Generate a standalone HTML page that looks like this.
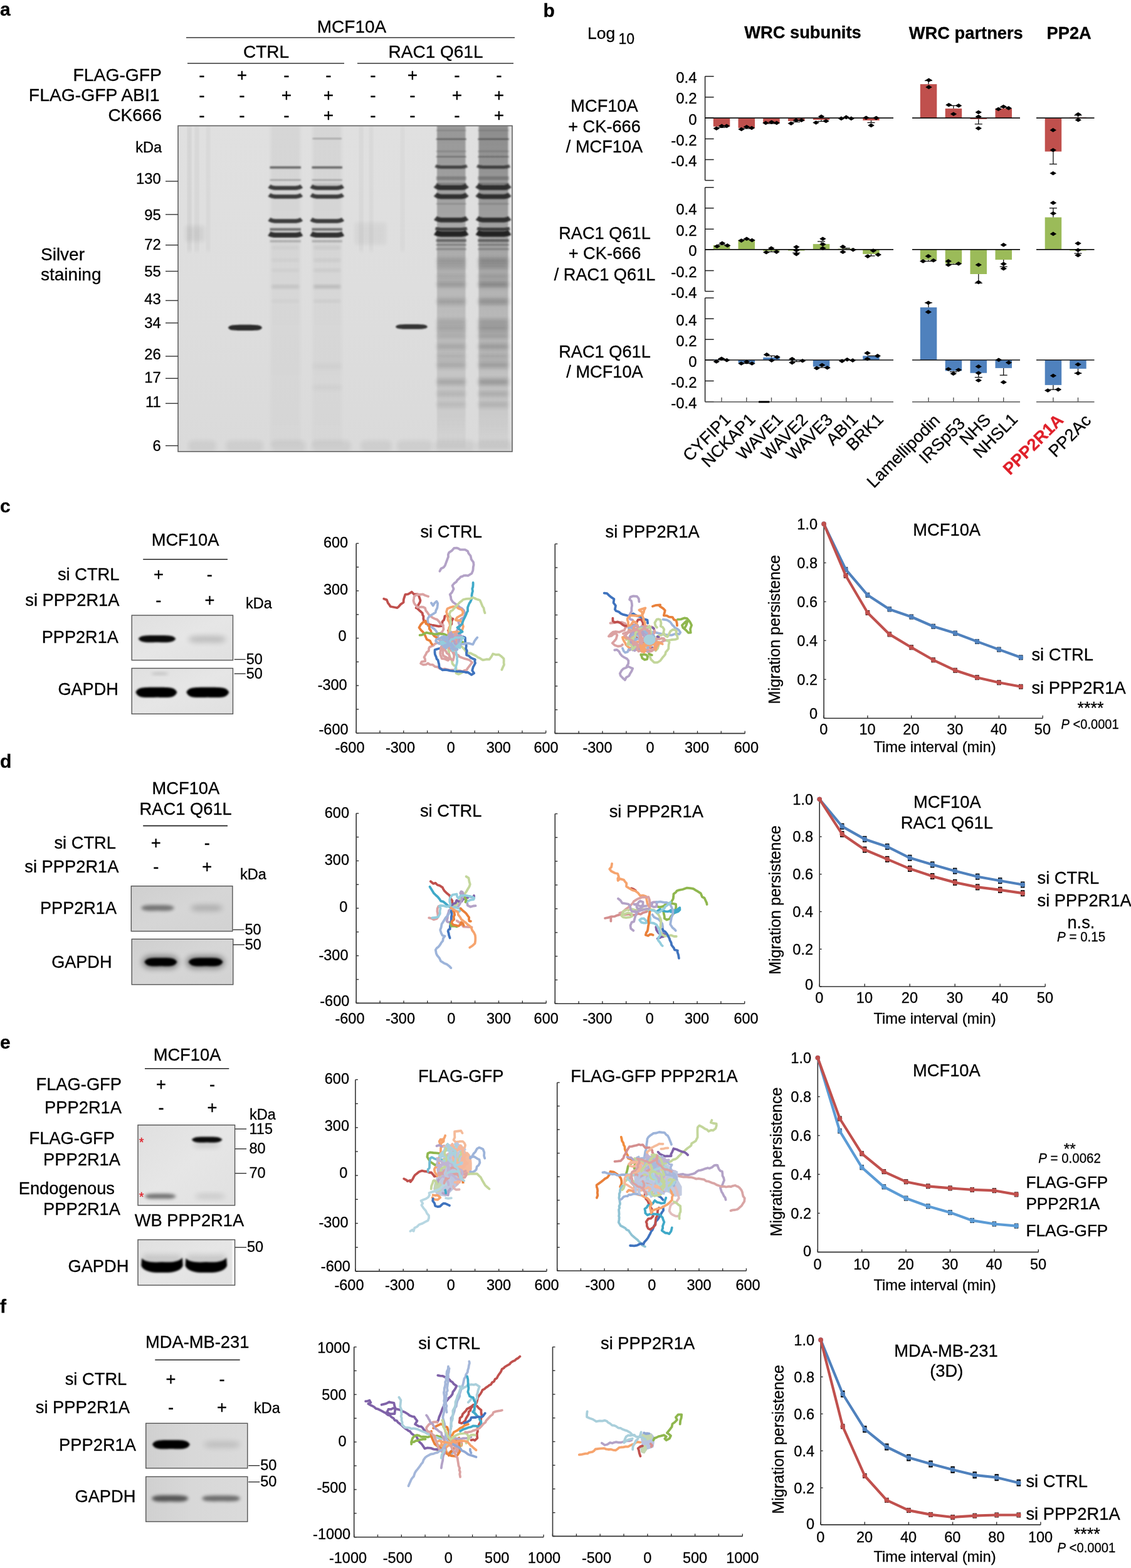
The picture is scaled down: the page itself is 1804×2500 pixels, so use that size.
<!DOCTYPE html>
<html><head><meta charset="utf-8"><title>Figure</title>
<style>
html,body{margin:0;padding:0;background:#fff;}
svg{display:block;}
text{font-family:'Liberation Sans', Arial, Helvetica, sans-serif;stroke:#000;stroke-width:0.3px;}
</style></head><body>
<svg width="1804" height="2500" viewBox="0 0 1804 2500">
<defs>
<linearGradient id="gelbg" x1="0" y1="0" x2="0" y2="1">
<stop offset="0" stop-color="#e0e0e0"/><stop offset="0.5" stop-color="#dedede"/><stop offset="1" stop-color="#dadada"/></linearGradient>
<linearGradient id="smear" x1="0" y1="0" x2="0" y2="1">
<stop offset="0" stop-color="#6a6a6a" stop-opacity="0.75"/>
<stop offset="0.12" stop-color="#7a7a7a" stop-opacity="0.6"/>
<stop offset="0.35" stop-color="#888" stop-opacity="0.45"/>
<stop offset="0.6" stop-color="#999" stop-opacity="0.3"/>
<stop offset="0.8" stop-color="#aaa" stop-opacity="0.2"/>
<stop offset="1" stop-color="#bbb" stop-opacity="0.1"/></linearGradient>
<linearGradient id="smear2" x1="0" y1="0" x2="0" y2="1">
<stop offset="0" stop-color="#999" stop-opacity="0.35"/>
<stop offset="0.3" stop-color="#aaa" stop-opacity="0.2"/>
<stop offset="0.6" stop-color="#bbb" stop-opacity="0.15"/>
<stop offset="1" stop-color="#ccc" stop-opacity="0.1"/></linearGradient>
<filter id="bl1" x="-20%" y="-200%" width="140%" height="500%"><feGaussianBlur stdDeviation="1.1"/></filter>
<filter id="bl2" x="-20%" y="-200%" width="140%" height="500%"><feGaussianBlur stdDeviation="2"/></filter>
<filter id="bl3" x="-30%" y="-100%" width="160%" height="300%"><feGaussianBlur stdDeviation="3"/></filter>
<clipPath id="gelclip"><rect x="284" y="200.5" width="533" height="519.5"/></clipPath>
<linearGradient id="sm7" x1="0" y1="0" x2="0" y2="1">
<stop offset="0" stop-color="#000" stop-opacity="0.323"/>
<stop offset="0.17" stop-color="#000" stop-opacity="0.289"/>
<stop offset="0.38" stop-color="#000" stop-opacity="0.230"/>
<stop offset="0.5" stop-color="#000" stop-opacity="0.170"/>
<stop offset="0.75" stop-color="#000" stop-opacity="0.111"/>
<stop offset="0.92" stop-color="#000" stop-opacity="0.060"/>
<stop offset="1" stop-color="#000" stop-opacity="0.025"/></linearGradient>
<linearGradient id="sm8" x1="0" y1="0" x2="0" y2="1">
<stop offset="0" stop-color="#000" stop-opacity="0.369"/>
<stop offset="0.17" stop-color="#000" stop-opacity="0.330"/>
<stop offset="0.38" stop-color="#000" stop-opacity="0.262"/>
<stop offset="0.5" stop-color="#000" stop-opacity="0.194"/>
<stop offset="0.75" stop-color="#000" stop-opacity="0.126"/>
<stop offset="0.92" stop-color="#000" stop-opacity="0.068"/>
<stop offset="1" stop-color="#000" stop-opacity="0.029"/></linearGradient>
<linearGradient id="sm34" x1="0" y1="0" x2="0" y2="1">
<stop offset="0" stop-color="#000" stop-opacity="0.045"/>
<stop offset="0.35" stop-color="#000" stop-opacity="0.04"/>
<stop offset="0.6" stop-color="#000" stop-opacity="0.03"/>
<stop offset="1" stop-color="#000" stop-opacity="0.02"/></linearGradient>
<linearGradient id="wb" x1="0" y1="0" x2="1" y2="1">
<stop offset="0" stop-color="#e0e0e0"/><stop offset="0.5" stop-color="#e6e6e6"/><stop offset="1" stop-color="#e0e0e0"/></linearGradient>
<linearGradient id="wbd" x1="0" y1="0" x2="1" y2="1">
<stop offset="0" stop-color="#cfcfcf"/><stop offset="0.5" stop-color="#d6d6d6"/><stop offset="1" stop-color="#d2d2d2"/></linearGradient>
<linearGradient id="wbf" x1="0" y1="0" x2="1" y2="0">
<stop offset="0" stop-color="#d0d0d0"/><stop offset="0.45" stop-color="#d8d8d8"/><stop offset="1" stop-color="#dadada"/></linearGradient>
<filter id="bb1" x="-20%" y="-100%" width="140%" height="300%"><feGaussianBlur stdDeviation="1.6"/></filter>
<filter id="bb2" x="-20%" y="-100%" width="140%" height="300%"><feGaussianBlur stdDeviation="2.6"/></filter>
<filter id="bb3" x="-20%" y="-100%" width="140%" height="300%"><feGaussianBlur stdDeviation="4"/></filter>
</defs>
<rect x="0" y="0" width="1804" height="2500" fill="#fff"/>
<text x="0.0" y="25.3" font-size="30" font-weight="bold">a</text>
<text x="866.5" y="26.5" font-size="30" font-weight="bold">b</text>
<text x="0.0" y="816.5" font-size="30" font-weight="bold">c</text>
<text x="0.0" y="1223.5" font-size="30" font-weight="bold">d</text>
<text x="0.0" y="1671.5" font-size="30" font-weight="bold">e</text>
<text x="0.0" y="2093.0" font-size="30" font-weight="bold">f</text>
<text x="561.0" y="52.0" font-size="28" text-anchor="middle">MCF10A</text>
<line x1="297.0" y1="60.0" x2="821.0" y2="60.0" stroke="#333" stroke-width="1.6"/>
<text x="424.5" y="92.0" font-size="28" text-anchor="middle">CTRL</text>
<line x1="299.0" y1="101.0" x2="549.0" y2="101.0" stroke="#333" stroke-width="1.6"/>
<text x="695.0" y="92.0" font-size="28" text-anchor="middle">RAC1 Q61L</text>
<line x1="570.0" y1="101.0" x2="819.0" y2="101.0" stroke="#333" stroke-width="1.6"/>
<text x="258.0" y="129.0" font-size="28.3" text-anchor="end">FLAG-GFP</text>
<text x="254.5" y="161.0" font-size="28.3" text-anchor="end">FLAG-GFP ABI1</text>
<text x="258.0" y="192.6" font-size="28" text-anchor="end">CK666</text>
<text x="322.0" y="129.0" font-size="28" text-anchor="middle">-</text>
<text x="386.0" y="129.0" font-size="28" text-anchor="middle">+</text>
<text x="457.0" y="129.0" font-size="28" text-anchor="middle">-</text>
<text x="524.0" y="129.0" font-size="28" text-anchor="middle">-</text>
<text x="595.0" y="129.0" font-size="28" text-anchor="middle">-</text>
<text x="658.0" y="129.0" font-size="28" text-anchor="middle">+</text>
<text x="729.0" y="129.0" font-size="28" text-anchor="middle">-</text>
<text x="796.0" y="129.0" font-size="28" text-anchor="middle">-</text>
<text x="322.0" y="161.0" font-size="28" text-anchor="middle">-</text>
<text x="386.0" y="161.0" font-size="28" text-anchor="middle">-</text>
<text x="457.0" y="161.0" font-size="28" text-anchor="middle">+</text>
<text x="524.0" y="161.0" font-size="28" text-anchor="middle">+</text>
<text x="595.0" y="161.0" font-size="28" text-anchor="middle">-</text>
<text x="658.0" y="161.0" font-size="28" text-anchor="middle">-</text>
<text x="729.0" y="161.0" font-size="28" text-anchor="middle">+</text>
<text x="796.0" y="161.0" font-size="28" text-anchor="middle">+</text>
<text x="322.0" y="192.6" font-size="28" text-anchor="middle">-</text>
<text x="386.0" y="192.6" font-size="28" text-anchor="middle">-</text>
<text x="457.0" y="192.6" font-size="28" text-anchor="middle">-</text>
<text x="524.0" y="192.6" font-size="28" text-anchor="middle">+</text>
<text x="595.0" y="192.6" font-size="28" text-anchor="middle">-</text>
<text x="658.0" y="192.6" font-size="28" text-anchor="middle">-</text>
<text x="729.0" y="192.6" font-size="28" text-anchor="middle">-</text>
<text x="796.0" y="192.6" font-size="28" text-anchor="middle">+</text>
<g clip-path="url(#gelclip)">
<rect x="284.0" y="200.5" width="533.0" height="519.5" fill="url(#gelbg)"/>
<rect x="431.5" y="200.5" width="47.5" height="509.5" fill="url(#sm34)" filter="url(#bl2)"/>
<rect x="498.5" y="200.5" width="46.5" height="509.5" fill="url(#sm34)" filter="url(#bl2)"/>
<rect x="697.0" y="200.5" width="45.5" height="514.5" fill="url(#sm7)" filter="url(#bl1)"/>
<rect x="763.5" y="200.5" width="47.0" height="514.5" fill="url(#sm8)" filter="url(#bl1)"/>
<rect x="300.0" y="201.0" width="4.0" height="200.0" fill="#000" opacity="0.1" filter="url(#bl3)"/>
<rect x="312.0" y="201.0" width="4.0" height="200.0" fill="#000" opacity="0.08" filter="url(#bl3)"/>
<rect x="330.0" y="201.0" width="4.0" height="200.0" fill="#000" opacity="0.06" filter="url(#bl3)"/>
<rect x="574.0" y="201.0" width="4.0" height="200.0" fill="#000" opacity="0.07" filter="url(#bl3)"/>
<rect x="590.0" y="201.0" width="4.0" height="200.0" fill="#000" opacity="0.06" filter="url(#bl3)"/>
<rect x="640.0" y="201.0" width="4.0" height="200.0" fill="#000" opacity="0.05" filter="url(#bl3)"/>
<rect x="296.0" y="360.0" width="30.0" height="25.0" fill="#000" opacity="0.06" filter="url(#bl3)"/>
<rect x="566.0" y="355.0" width="50.0" height="35.0" fill="#000" opacity="0.04" filter="url(#bl3)"/>
<rect x="430.5" y="265.2" width="49.5" height="3.6" fill="#222" opacity="0.60" filter="url(#bl1)"/>
<rect x="430.5" y="285.9" width="49.5" height="2.2" fill="#222" opacity="0.30" filter="url(#bl1)"/>
<path d="M429.5,296.7 Q432.5,299.2 438.5,299.7 L472.0,299.7 Q478.0,299.2 481.0,296.7" fill="none" stroke="#222" stroke-width="6.5" opacity="0.85" filter="url(#bl1)"/>
<path d="M429.5,310.5 Q432.5,313.0 438.5,313.5 L472.0,313.5 Q478.0,313.0 481.0,310.5" fill="none" stroke="#222" stroke-width="6.5" opacity="0.85" filter="url(#bl1)"/>
<path d="M429.5,349.5 Q432.5,352.0 438.5,352.5 L472.0,352.5 Q478.0,352.0 481.0,349.5" fill="none" stroke="#222" stroke-width="6.5" opacity="0.85" filter="url(#bl1)"/>
<rect x="430.5" y="363.6" width="49.5" height="4.2" fill="#222" opacity="0.55" filter="url(#bl1)"/>
<path d="M429.5,372.3 Q432.5,374.3 438.5,374.8 L472.0,374.8 Q478.0,374.3 481.0,372.3" fill="none" stroke="#222" stroke-width="8.0" opacity="0.92" filter="url(#bl1)"/>
<rect x="430.5" y="382.9" width="49.5" height="3.5" fill="#222" opacity="0.22" filter="url(#bl1)"/>
<rect x="433.5" y="393.5" width="43.5" height="3.0" fill="#111" opacity="0.06" filter="url(#bl2)"/>
<rect x="433.5" y="413.5" width="43.5" height="3.0" fill="#111" opacity="0.06" filter="url(#bl2)"/>
<rect x="433.5" y="429.5" width="43.5" height="3.0" fill="#111" opacity="0.06" filter="url(#bl2)"/>
<rect x="433.5" y="455.0" width="43.5" height="4.0" fill="#111" opacity="0.12" filter="url(#bl2)"/>
<rect x="433.5" y="478.5" width="43.5" height="3.0" fill="#111" opacity="0.05" filter="url(#bl2)"/>
<rect x="497.5" y="265.2" width="48.5" height="3.6" fill="#222" opacity="0.60" filter="url(#bl1)"/>
<rect x="497.5" y="285.9" width="48.5" height="2.2" fill="#222" opacity="0.30" filter="url(#bl1)"/>
<path d="M496.5,296.7 Q499.5,299.2 505.5,299.7 L538.0,299.7 Q544.0,299.2 547.0,296.7" fill="none" stroke="#222" stroke-width="6.5" opacity="0.85" filter="url(#bl1)"/>
<path d="M496.5,310.5 Q499.5,313.0 505.5,313.5 L538.0,313.5 Q544.0,313.0 547.0,310.5" fill="none" stroke="#222" stroke-width="6.5" opacity="0.85" filter="url(#bl1)"/>
<path d="M496.5,349.5 Q499.5,352.0 505.5,352.5 L538.0,352.5 Q544.0,352.0 547.0,349.5" fill="none" stroke="#222" stroke-width="6.5" opacity="0.85" filter="url(#bl1)"/>
<rect x="497.5" y="363.6" width="48.5" height="4.2" fill="#222" opacity="0.55" filter="url(#bl1)"/>
<path d="M496.5,372.3 Q499.5,374.3 505.5,374.8 L538.0,374.8 Q544.0,374.3 547.0,372.3" fill="none" stroke="#222" stroke-width="8.0" opacity="0.92" filter="url(#bl1)"/>
<rect x="497.5" y="382.9" width="48.5" height="3.5" fill="#222" opacity="0.22" filter="url(#bl1)"/>
<rect x="500.5" y="393.5" width="42.5" height="3.0" fill="#111" opacity="0.09" filter="url(#bl2)"/>
<rect x="500.5" y="413.5" width="42.5" height="3.0" fill="#111" opacity="0.09" filter="url(#bl2)"/>
<rect x="500.5" y="429.5" width="42.5" height="3.0" fill="#111" opacity="0.09" filter="url(#bl2)"/>
<rect x="500.5" y="455.0" width="42.5" height="4.0" fill="#111" opacity="0.18" filter="url(#bl2)"/>
<rect x="500.5" y="478.5" width="42.5" height="3.0" fill="#111" opacity="0.08" filter="url(#bl2)"/>
<rect x="498.5" y="220.2" width="46.5" height="1.6" fill="#111" opacity="0.35" filter="url(#bl1)"/>
<rect x="498.5" y="293.5" width="46.5" height="3.0" fill="#111" opacity="0.20" filter="url(#bl2)"/>
<rect x="498.5" y="580.0" width="46.5" height="8.0" fill="#111" opacity="0.03" filter="url(#bl3)"/>
<rect x="498.5" y="614.0" width="46.5" height="8.0" fill="#111" opacity="0.03" filter="url(#bl3)"/>
<rect x="695.5" y="207.2" width="48.5" height="1.5" fill="#1a1a1a" opacity="0.20" filter="url(#bl1)"/>
<rect x="695.5" y="220.8" width="48.5" height="2.0" fill="#1a1a1a" opacity="0.50" filter="url(#bl1)"/>
<rect x="695.5" y="240.6" width="48.5" height="1.5" fill="#1a1a1a" opacity="0.25" filter="url(#bl1)"/>
<rect x="695.5" y="248.9" width="48.5" height="2.0" fill="#1a1a1a" opacity="0.35" filter="url(#bl1)"/>
<path d="M694.5,264.5 Q697.5,266.0 703.5,266.5 L736.0,266.5 Q742.0,266.0 745.0,264.5" fill="none" stroke="#1a1a1a" stroke-width="5.0" opacity="0.70" filter="url(#bl1)"/>
<rect x="695.5" y="281.7" width="48.5" height="1.8" fill="#1a1a1a" opacity="0.35" filter="url(#bl1)"/>
<rect x="695.5" y="284.6" width="48.5" height="1.8" fill="#1a1a1a" opacity="0.35" filter="url(#bl1)"/>
<rect x="695.5" y="291.9" width="48.5" height="2.0" fill="#1a1a1a" opacity="0.30" filter="url(#bl1)"/>
<path d="M694.5,295.6 Q697.5,298.6 703.5,299.1 L736.0,299.1 Q742.0,298.6 745.0,295.6" fill="none" stroke="#1a1a1a" stroke-width="8.0" opacity="0.85" filter="url(#bl1)"/>
<path d="M694.5,310.0 Q697.5,313.0 703.5,313.5 L736.0,313.5 Q742.0,313.0 745.0,310.0" fill="none" stroke="#1a1a1a" stroke-width="7.5" opacity="0.85" filter="url(#bl1)"/>
<rect x="695.5" y="324.0" width="48.5" height="2.0" fill="#1a1a1a" opacity="0.20" filter="url(#bl1)"/>
<path d="M694.5,347.7 Q697.5,350.2 703.5,350.7 L736.0,350.7 Q742.0,350.2 745.0,347.7" fill="none" stroke="#1a1a1a" stroke-width="7.5" opacity="0.85" filter="url(#bl1)"/>
<path d="M694.5,364.1 Q697.5,365.1 703.5,365.6 L736.0,365.6 Q742.0,365.1 745.0,364.1" fill="none" stroke="#1a1a1a" stroke-width="5.0" opacity="0.75" filter="url(#bl1)"/>
<path d="M694.5,370.6 Q697.5,372.6 703.5,373.1 L736.0,373.1 Q742.0,372.6 745.0,370.6" fill="none" stroke="#1a1a1a" stroke-width="9.0" opacity="0.95" filter="url(#bl1)"/>
<rect x="695.5" y="381.5" width="48.5" height="4.0" fill="#1a1a1a" opacity="0.50" filter="url(#bl1)"/>
<rect x="695.5" y="388.8" width="48.5" height="3.0" fill="#1a1a1a" opacity="0.30" filter="url(#bl1)"/>
<rect x="695.5" y="395.7" width="48.5" height="3.0" fill="#1a1a1a" opacity="0.25" filter="url(#bl1)"/>
<rect x="697.0" y="412.1" width="45.5" height="7.0" fill="#111" opacity="0.19" filter="url(#bl3)"/>
<rect x="697.0" y="421.2" width="45.5" height="7.0" fill="#111" opacity="0.15" filter="url(#bl3)"/>
<rect x="697.0" y="437.3" width="45.5" height="7.0" fill="#111" opacity="0.11" filter="url(#bl3)"/>
<rect x="697.0" y="449.9" width="45.5" height="7.0" fill="#111" opacity="0.22" filter="url(#bl3)"/>
<rect x="697.0" y="476.6" width="45.5" height="8.4" fill="#111" opacity="0.17" filter="url(#bl3)"/>
<rect x="697.0" y="509.1" width="45.5" height="8.4" fill="#111" opacity="0.14" filter="url(#bl3)"/>
<rect x="697.0" y="519.4" width="45.5" height="8.4" fill="#111" opacity="0.17" filter="url(#bl3)"/>
<rect x="697.0" y="531.3" width="45.5" height="8.4" fill="#111" opacity="0.12" filter="url(#bl3)"/>
<rect x="697.0" y="547.7" width="45.5" height="9.8" fill="#111" opacity="0.14" filter="url(#bl3)"/>
<rect x="697.0" y="563.8" width="45.5" height="8.4" fill="#111" opacity="0.11" filter="url(#bl3)"/>
<rect x="697.0" y="576.8" width="45.5" height="9.8" fill="#111" opacity="0.14" filter="url(#bl3)"/>
<rect x="697.0" y="604.1" width="45.5" height="9.8" fill="#111" opacity="0.17" filter="url(#bl3)"/>
<rect x="697.0" y="623.8" width="45.5" height="8.4" fill="#111" opacity="0.11" filter="url(#bl3)"/>
<rect x="697.0" y="640.8" width="45.5" height="8.4" fill="#111" opacity="0.09" filter="url(#bl3)"/>
<rect x="762.0" y="207.2" width="50.0" height="1.5" fill="#1a1a1a" opacity="0.20" filter="url(#bl1)"/>
<rect x="762.0" y="220.8" width="50.0" height="2.0" fill="#1a1a1a" opacity="0.50" filter="url(#bl1)"/>
<rect x="762.0" y="240.6" width="50.0" height="1.5" fill="#1a1a1a" opacity="0.25" filter="url(#bl1)"/>
<rect x="762.0" y="248.9" width="50.0" height="2.0" fill="#1a1a1a" opacity="0.35" filter="url(#bl1)"/>
<path d="M761.0,264.5 Q764.0,266.0 770.0,266.5 L804.0,266.5 Q810.0,266.0 813.0,264.5" fill="none" stroke="#1a1a1a" stroke-width="5.0" opacity="0.70" filter="url(#bl1)"/>
<rect x="762.0" y="281.7" width="50.0" height="1.8" fill="#1a1a1a" opacity="0.35" filter="url(#bl1)"/>
<rect x="762.0" y="284.6" width="50.0" height="1.8" fill="#1a1a1a" opacity="0.35" filter="url(#bl1)"/>
<rect x="762.0" y="291.9" width="50.0" height="2.0" fill="#1a1a1a" opacity="0.30" filter="url(#bl1)"/>
<path d="M761.0,295.6 Q764.0,298.6 770.0,299.1 L804.0,299.1 Q810.0,298.6 813.0,295.6" fill="none" stroke="#1a1a1a" stroke-width="8.0" opacity="0.85" filter="url(#bl1)"/>
<path d="M761.0,310.0 Q764.0,313.0 770.0,313.5 L804.0,313.5 Q810.0,313.0 813.0,310.0" fill="none" stroke="#1a1a1a" stroke-width="7.5" opacity="0.85" filter="url(#bl1)"/>
<rect x="762.0" y="324.0" width="50.0" height="2.0" fill="#1a1a1a" opacity="0.20" filter="url(#bl1)"/>
<path d="M761.0,347.7 Q764.0,350.2 770.0,350.7 L804.0,350.7 Q810.0,350.2 813.0,347.7" fill="none" stroke="#1a1a1a" stroke-width="7.5" opacity="0.85" filter="url(#bl1)"/>
<path d="M761.0,364.1 Q764.0,365.1 770.0,365.6 L804.0,365.6 Q810.0,365.1 813.0,364.1" fill="none" stroke="#1a1a1a" stroke-width="5.0" opacity="0.75" filter="url(#bl1)"/>
<path d="M761.0,370.6 Q764.0,372.6 770.0,373.1 L804.0,373.1 Q810.0,372.6 813.0,370.6" fill="none" stroke="#1a1a1a" stroke-width="9.0" opacity="0.95" filter="url(#bl1)"/>
<rect x="762.0" y="381.5" width="50.0" height="4.0" fill="#1a1a1a" opacity="0.50" filter="url(#bl1)"/>
<rect x="762.0" y="388.8" width="50.0" height="3.0" fill="#1a1a1a" opacity="0.30" filter="url(#bl1)"/>
<rect x="762.0" y="395.7" width="50.0" height="3.0" fill="#1a1a1a" opacity="0.25" filter="url(#bl1)"/>
<rect x="763.5" y="412.1" width="47.0" height="7.0" fill="#111" opacity="0.28" filter="url(#bl3)"/>
<rect x="763.5" y="421.2" width="47.0" height="7.0" fill="#111" opacity="0.22" filter="url(#bl3)"/>
<rect x="763.5" y="437.3" width="47.0" height="7.0" fill="#111" opacity="0.17" filter="url(#bl3)"/>
<rect x="763.5" y="449.9" width="47.0" height="7.0" fill="#111" opacity="0.33" filter="url(#bl3)"/>
<rect x="763.5" y="476.6" width="47.0" height="8.4" fill="#111" opacity="0.24" filter="url(#bl3)"/>
<rect x="763.5" y="509.1" width="47.0" height="8.4" fill="#111" opacity="0.20" filter="url(#bl3)"/>
<rect x="763.5" y="519.4" width="47.0" height="8.4" fill="#111" opacity="0.24" filter="url(#bl3)"/>
<rect x="763.5" y="531.3" width="47.0" height="8.4" fill="#111" opacity="0.18" filter="url(#bl3)"/>
<rect x="763.5" y="547.7" width="47.0" height="9.8" fill="#111" opacity="0.20" filter="url(#bl3)"/>
<rect x="763.5" y="563.8" width="47.0" height="8.4" fill="#111" opacity="0.15" filter="url(#bl3)"/>
<rect x="763.5" y="576.8" width="47.0" height="9.8" fill="#111" opacity="0.20" filter="url(#bl3)"/>
<rect x="763.5" y="604.1" width="47.0" height="9.8" fill="#111" opacity="0.24" filter="url(#bl3)"/>
<rect x="763.5" y="623.8" width="47.0" height="8.4" fill="#111" opacity="0.15" filter="url(#bl3)"/>
<rect x="763.5" y="640.8" width="47.0" height="8.4" fill="#111" opacity="0.13" filter="url(#bl3)"/>
<rect x="300" y="702" width="45" height="18" rx="8" fill="#000" opacity="0.05" filter="url(#bl3)"/>
<rect x="360" y="702" width="60" height="18" rx="8" fill="#000" opacity="0.05" filter="url(#bl3)"/>
<rect x="432" y="702" width="56" height="18" rx="8" fill="#000" opacity="0.05" filter="url(#bl3)"/>
<rect x="497" y="702" width="63" height="18" rx="8" fill="#000" opacity="0.05" filter="url(#bl3)"/>
<rect x="575" y="702" width="50" height="18" rx="8" fill="#000" opacity="0.05" filter="url(#bl3)"/>
<rect x="633" y="702" width="57" height="18" rx="8" fill="#000" opacity="0.05" filter="url(#bl3)"/>
<rect x="693" y="702" width="65" height="18" rx="8" fill="#000" opacity="0.05" filter="url(#bl3)"/>
<rect x="760" y="702" width="57" height="18" rx="8" fill="#000" opacity="0.05" filter="url(#bl3)"/>
<path d="M364.0,522.5 C366.0,518.0 372.0,518.0 391.0,517.8 C410.0,518.0 416.0,518.0 418.0,522.5 C416.0,527.0 410.0,527.0 391.0,527.0 C372.0,527.0 366.0,527.0 364.0,522.5 Z" fill="#1a1a1a" opacity="0.92" filter="url(#bl1)"/>
<path d="M631.0,521.0 C633.0,517.2 639.0,517.2 656.5,517.1 C674.0,517.2 680.0,517.2 682.0,521.0 C680.0,524.8 674.0,524.8 656.5,524.8 C639.0,524.8 633.0,524.8 631.0,521.0 Z" fill="#1a1a1a" opacity="0.88" filter="url(#bl1)"/>
</g>
<rect x="284" y="200.5" width="533" height="519.5" fill="none" stroke="#5a5a5a" stroke-width="1.5"/>
<text x="258.0" y="243.0" font-size="23.5" text-anchor="end">kDa</text>
<line x1="264.0" y1="289.0" x2="284.0" y2="289.0" stroke="#333" stroke-width="1.4"/>
<text x="256.8" y="293.4" font-size="23.8" text-anchor="end">130</text>
<line x1="264.0" y1="342.0" x2="284.0" y2="342.0" stroke="#333" stroke-width="1.4"/>
<text x="256.8" y="350.5" font-size="23.8" text-anchor="end">95</text>
<line x1="264.0" y1="390.7" x2="284.0" y2="390.7" stroke="#333" stroke-width="1.4"/>
<text x="256.8" y="397.6" font-size="23.8" text-anchor="end">72</text>
<line x1="264.0" y1="432.5" x2="284.0" y2="432.5" stroke="#333" stroke-width="1.4"/>
<text x="256.8" y="440.7" font-size="23.8" text-anchor="end">55</text>
<line x1="264.0" y1="479.2" x2="284.0" y2="479.2" stroke="#333" stroke-width="1.4"/>
<text x="256.8" y="484.7" font-size="23.8" text-anchor="end">43</text>
<line x1="264.0" y1="514.9" x2="284.0" y2="514.9" stroke="#333" stroke-width="1.4"/>
<text x="256.8" y="523.2" font-size="23.8" text-anchor="end">34</text>
<line x1="264.0" y1="568.0" x2="284.0" y2="568.0" stroke="#333" stroke-width="1.4"/>
<text x="256.8" y="572.6" font-size="23.8" text-anchor="end">26</text>
<line x1="264.0" y1="603.3" x2="284.0" y2="603.3" stroke="#333" stroke-width="1.4"/>
<text x="256.8" y="610.2" font-size="23.8" text-anchor="end">17</text>
<line x1="264.0" y1="643.2" x2="284.0" y2="643.2" stroke="#333" stroke-width="1.4"/>
<text x="256.8" y="648.7" font-size="23.8" text-anchor="end">11</text>
<line x1="264.0" y1="710.6" x2="284.0" y2="710.6" stroke="#333" stroke-width="1.4"/>
<text x="256.8" y="719.3" font-size="23.8" text-anchor="end">6</text>
<text x="65.0" y="415.0" font-size="28">Silver</text>
<text x="65.0" y="447.0" font-size="28">staining</text>
<text x="937.0" y="61.6" font-size="26.5">Log</text>
<text x="986.5" y="69.8" font-size="23">10</text>
<text x="1187.2" y="61.1" font-size="27.3" font-weight="bold">WRC subunits</text>
<text x="1449.8" y="61.7" font-size="27.3" font-weight="bold">WRC partners</text>
<text x="1669.5" y="61.7" font-size="27.3" font-weight="bold">PP2A</text>
<text x="964.0" y="178.0" font-size="27.2" text-anchor="middle">MCF10A</text>
<text x="964.0" y="210.6" font-size="27.2" text-anchor="middle">+ CK-666</text>
<text x="964.0" y="243.4" font-size="27.2" text-anchor="middle">/ MCF10A</text>
<text x="964.5" y="380.7" font-size="27.2" text-anchor="middle">RAC1 Q61L</text>
<text x="964.5" y="413.2" font-size="27.2" text-anchor="middle">+ CK-666</text>
<text x="964.5" y="446.6" font-size="27.2" text-anchor="middle">/ RAC1 Q61L</text>
<text x="964.5" y="569.6" font-size="27.2" text-anchor="middle">RAC1 Q61L</text>
<text x="964.5" y="602.0" font-size="27.2" text-anchor="middle">/ MCF10A</text>
<line x1="1124.6" y1="121.7" x2="1124.6" y2="287.6" stroke="#222" stroke-width="1.5"/>
<line x1="1124.6" y1="121.7" x2="1138.6" y2="121.7" stroke="#222" stroke-width="1.5"/>
<text x="1111.5" y="132.2" font-size="24" text-anchor="end">0.4</text>
<line x1="1124.6" y1="154.9" x2="1138.6" y2="154.9" stroke="#222" stroke-width="1.5"/>
<text x="1111.5" y="165.4" font-size="24" text-anchor="end">0.2</text>
<line x1="1124.6" y1="188.1" x2="1138.6" y2="188.1" stroke="#222" stroke-width="1.5"/>
<text x="1111.5" y="198.6" font-size="24" text-anchor="end">0</text>
<line x1="1124.6" y1="221.4" x2="1138.6" y2="221.4" stroke="#222" stroke-width="1.5"/>
<text x="1111.5" y="231.9" font-size="24" text-anchor="end">-0.2</text>
<line x1="1124.6" y1="254.5" x2="1138.6" y2="254.5" stroke="#222" stroke-width="1.5"/>
<text x="1111.5" y="265.0" font-size="24" text-anchor="end">-0.4</text>
<line x1="1124.6" y1="287.6" x2="1138.6" y2="287.6" stroke="#222" stroke-width="1.5"/>
<rect x="1137.8" y="188.1" width="26.5" height="13.7" fill="#c0504d"/>
<rect x="1177.5" y="188.1" width="26.5" height="15.9" fill="#c0504d"/>
<rect x="1217.2" y="188.1" width="26.5" height="8.6" fill="#c0504d"/>
<rect x="1257.0" y="188.1" width="26.5" height="4.9" fill="#c0504d"/>
<rect x="1296.8" y="188.1" width="26.5" height="2.9" fill="#c0504d"/>
<rect x="1336.5" y="188.1" width="26.5" height="0.7" fill="#c0504d"/>
<rect x="1376.2" y="188.1" width="26.5" height="3.9" fill="#c0504d"/>
<rect x="1467.8" y="134.2" width="26.5" height="53.9" fill="#c0504d"/>
<rect x="1507.7" y="173.1" width="26.5" height="15.0" fill="#c0504d"/>
<rect x="1547.5" y="188.1" width="26.5" height="1.9" fill="#c0504d"/>
<rect x="1587.5" y="172.9" width="26.5" height="15.2" fill="#c0504d"/>
<rect x="1666.7" y="188.1" width="26.5" height="53.5" fill="#c0504d"/>
<rect x="1706.2" y="187.3" width="26.5" height="0.8" fill="#c0504d"/>
<line x1="1124.6" y1="188.1" x2="1425.0" y2="188.1" stroke="#111" stroke-width="1.6"/>
<line x1="1455.0" y1="188.1" x2="1627.0" y2="188.1" stroke="#111" stroke-width="1.6"/>
<line x1="1653.0" y1="188.1" x2="1745.5" y2="188.1" stroke="#111" stroke-width="1.6"/>
<line x1="1151.0" y1="201.8" x2="1151.0" y2="203.3" stroke="#111" stroke-width="1.3"/>
<line x1="1145.0" y1="203.3" x2="1157.0" y2="203.3" stroke="#111" stroke-width="1.3"/>
<line x1="1190.8" y1="204.0" x2="1190.8" y2="205.0" stroke="#111" stroke-width="1.3"/>
<line x1="1184.8" y1="205.0" x2="1196.8" y2="205.0" stroke="#111" stroke-width="1.3"/>
<line x1="1230.5" y1="196.7" x2="1230.5" y2="197.0" stroke="#111" stroke-width="1.3"/>
<line x1="1224.5" y1="197.0" x2="1236.5" y2="197.0" stroke="#111" stroke-width="1.3"/>
<line x1="1270.2" y1="193.0" x2="1270.2" y2="194.5" stroke="#111" stroke-width="1.3"/>
<line x1="1264.2" y1="194.5" x2="1276.2" y2="194.5" stroke="#111" stroke-width="1.3"/>
<line x1="1310.0" y1="191.0" x2="1310.0" y2="193.5" stroke="#111" stroke-width="1.3"/>
<line x1="1304.0" y1="193.5" x2="1316.0" y2="193.5" stroke="#111" stroke-width="1.3"/>
<line x1="1389.5" y1="192.0" x2="1389.5" y2="195.5" stroke="#111" stroke-width="1.3"/>
<line x1="1383.5" y1="195.5" x2="1395.5" y2="195.5" stroke="#111" stroke-width="1.3"/>
<line x1="1481.0" y1="134.2" x2="1481.0" y2="128.5" stroke="#111" stroke-width="1.3"/>
<line x1="1475.0" y1="128.5" x2="1487.0" y2="128.5" stroke="#111" stroke-width="1.3"/>
<line x1="1520.9" y1="173.1" x2="1520.9" y2="168.4" stroke="#111" stroke-width="1.3"/>
<line x1="1514.9" y1="168.4" x2="1526.9" y2="168.4" stroke="#111" stroke-width="1.3"/>
<line x1="1560.8" y1="190.0" x2="1560.8" y2="197.8" stroke="#111" stroke-width="1.3"/>
<line x1="1554.8" y1="197.8" x2="1566.8" y2="197.8" stroke="#111" stroke-width="1.3"/>
<line x1="1600.7" y1="172.9" x2="1600.7" y2="171.0" stroke="#111" stroke-width="1.3"/>
<line x1="1594.7" y1="171.0" x2="1606.7" y2="171.0" stroke="#111" stroke-width="1.3"/>
<line x1="1679.9" y1="241.6" x2="1679.9" y2="261.6" stroke="#111" stroke-width="1.3"/>
<line x1="1673.9" y1="261.6" x2="1685.9" y2="261.6" stroke="#111" stroke-width="1.3"/>
<line x1="1719.5" y1="187.3" x2="1719.5" y2="183.7" stroke="#111" stroke-width="1.3"/>
<line x1="1713.5" y1="183.7" x2="1725.5" y2="183.7" stroke="#111" stroke-width="1.3"/>
<polygon points="1137.5,204.8 1142.8,201.5 1148.0,204.8 1142.8,208.1" fill="#000"/>
<polygon points="1146.0,200.9 1151.3,197.6 1156.5,200.9 1151.3,204.2" fill="#000"/>
<polygon points="1153.8,200.9 1159.1,197.6 1164.3,200.9 1159.1,204.2" fill="#000"/>
<polygon points="1177.3,206.0 1182.6,202.7 1187.8,206.0 1182.6,209.3" fill="#000"/>
<polygon points="1185.7,202.3 1190.9,199.0 1196.2,202.3 1190.9,205.6" fill="#000"/>
<polygon points="1193.8,204.0 1199.0,200.7 1204.2,204.0 1199.0,207.3" fill="#000"/>
<polygon points="1216.2,196.0 1221.4,192.7 1226.7,196.0 1221.4,199.3" fill="#000"/>
<polygon points="1225.5,194.7 1230.7,191.4 1236.0,194.7 1230.7,198.0" fill="#000"/>
<polygon points="1233.5,196.0 1238.8,192.7 1244.0,196.0 1238.8,199.3" fill="#000"/>
<polygon points="1256.5,196.7 1261.8,193.4 1267.0,196.7 1261.8,200.0" fill="#000"/>
<polygon points="1264.5,191.8 1269.8,188.5 1275.0,191.8 1269.8,195.1" fill="#000"/>
<polygon points="1273.2,191.8 1278.4,188.5 1283.7,191.8 1278.4,195.1" fill="#000"/>
<polygon points="1304.8,185.7 1310.1,182.4 1315.3,185.7 1310.1,189.0" fill="#000"/>
<polygon points="1296.3,195.5 1301.6,192.2 1306.8,195.5 1301.6,198.8" fill="#000"/>
<polygon points="1312.2,193.0 1317.5,189.7 1322.8,193.0 1317.5,196.3" fill="#000"/>
<polygon points="1336.7,188.9 1341.9,185.6 1347.2,188.9 1341.9,192.2" fill="#000"/>
<polygon points="1344.5,186.9 1349.7,183.6 1355.0,186.9 1349.7,190.2" fill="#000"/>
<polygon points="1352.5,188.9 1357.8,185.6 1363.0,188.9 1357.8,192.2" fill="#000"/>
<polygon points="1376.2,187.7 1381.5,184.4 1386.8,187.7 1381.5,191.0" fill="#000"/>
<polygon points="1392.3,188.1 1397.6,184.8 1402.8,188.1 1397.6,191.4" fill="#000"/>
<polygon points="1384.2,199.9 1389.5,196.6 1394.8,199.9 1389.5,203.2" fill="#000"/>
<polygon points="1476.2,127.8 1481.5,124.5 1486.8,127.8 1481.5,131.1" fill="#000"/>
<polygon points="1476.2,138.9 1481.5,135.6 1486.8,138.9 1481.5,142.2" fill="#000"/>
<polygon points="1508.2,167.3 1513.4,164.0 1518.7,167.3 1513.4,170.6" fill="#000"/>
<polygon points="1523.8,168.4 1529.1,165.1 1534.3,168.4 1529.1,171.7" fill="#000"/>
<polygon points="1515.7,181.8 1520.9,178.5 1526.2,181.8 1520.9,185.1" fill="#000"/>
<polygon points="1555.5,179.0 1560.7,175.7 1566.0,179.0 1560.7,182.3" fill="#000"/>
<polygon points="1555.5,186.0 1560.7,182.7 1566.0,186.0 1560.7,189.3" fill="#000"/>
<polygon points="1555.5,204.6 1560.7,201.3 1566.0,204.6 1560.7,207.9" fill="#000"/>
<polygon points="1587.2,174.0 1592.4,170.7 1597.7,174.0 1592.4,177.3" fill="#000"/>
<polygon points="1595.3,170.0 1600.6,166.7 1605.8,170.0 1600.6,173.3" fill="#000"/>
<polygon points="1603.5,172.4 1608.8,169.1 1614.0,172.4 1608.8,175.7" fill="#000"/>
<polygon points="1674.5,207.4 1679.7,204.1 1685.0,207.4 1679.7,210.7" fill="#000"/>
<polygon points="1674.5,239.3 1679.7,236.0 1685.0,239.3 1679.7,242.6" fill="#000"/>
<polygon points="1674.5,276.3 1679.7,273.0 1685.0,276.3 1679.7,279.6" fill="#000"/>
<polygon points="1714.5,182.3 1719.8,179.0 1725.0,182.3 1719.8,185.6" fill="#000"/>
<polygon points="1714.5,191.2 1719.8,187.9 1725.0,191.2 1719.8,194.5" fill="#000"/>
<line x1="1124.6" y1="298.8" x2="1124.6" y2="464.5" stroke="#222" stroke-width="1.5"/>
<line x1="1124.6" y1="298.8" x2="1138.6" y2="298.8" stroke="#222" stroke-width="1.5"/>
<line x1="1124.6" y1="331.8" x2="1138.6" y2="331.8" stroke="#222" stroke-width="1.5"/>
<text x="1111.5" y="342.3" font-size="24" text-anchor="end">0.4</text>
<line x1="1124.6" y1="365.3" x2="1138.6" y2="365.3" stroke="#222" stroke-width="1.5"/>
<text x="1111.5" y="375.8" font-size="24" text-anchor="end">0.2</text>
<line x1="1124.6" y1="397.9" x2="1138.6" y2="397.9" stroke="#222" stroke-width="1.5"/>
<text x="1111.5" y="408.4" font-size="24" text-anchor="end">0</text>
<line x1="1124.6" y1="431.5" x2="1138.6" y2="431.5" stroke="#222" stroke-width="1.5"/>
<text x="1111.5" y="442.0" font-size="24" text-anchor="end">-0.2</text>
<line x1="1124.6" y1="464.5" x2="1138.6" y2="464.5" stroke="#222" stroke-width="1.5"/>
<text x="1111.5" y="475.0" font-size="24" text-anchor="end">-0.4</text>
<rect x="1137.8" y="391.0" width="26.5" height="6.9" fill="#9bbb59"/>
<rect x="1177.5" y="382.6" width="26.5" height="15.3" fill="#9bbb59"/>
<rect x="1217.2" y="397.9" width="26.5" height="2.3" fill="#9bbb59"/>
<rect x="1257.0" y="397.9" width="26.5" height="1.7" fill="#9bbb59"/>
<rect x="1296.8" y="389.1" width="26.5" height="8.8" fill="#9bbb59"/>
<rect x="1336.5" y="396.5" width="26.5" height="1.4" fill="#9bbb59"/>
<rect x="1376.2" y="397.9" width="26.5" height="7.2" fill="#9bbb59"/>
<rect x="1467.8" y="397.9" width="26.5" height="16.6" fill="#9bbb59"/>
<rect x="1507.7" y="397.9" width="26.5" height="22.5" fill="#9bbb59"/>
<rect x="1547.5" y="397.9" width="26.5" height="39.1" fill="#9bbb59"/>
<rect x="1587.5" y="397.9" width="26.5" height="16.2" fill="#9bbb59"/>
<rect x="1666.7" y="346.5" width="26.5" height="51.4" fill="#9bbb59"/>
<rect x="1706.2" y="397.9" width="26.5" height="1.6" fill="#9bbb59"/>
<line x1="1124.6" y1="397.9" x2="1425.0" y2="397.9" stroke="#111" stroke-width="1.6"/>
<line x1="1455.0" y1="397.9" x2="1627.0" y2="397.9" stroke="#111" stroke-width="1.6"/>
<line x1="1653.0" y1="397.9" x2="1745.5" y2="397.9" stroke="#111" stroke-width="1.6"/>
<line x1="1151.0" y1="391.0" x2="1151.0" y2="390.0" stroke="#111" stroke-width="1.3"/>
<line x1="1145.0" y1="390.0" x2="1157.0" y2="390.0" stroke="#111" stroke-width="1.3"/>
<line x1="1190.8" y1="382.6" x2="1190.8" y2="382.0" stroke="#111" stroke-width="1.3"/>
<line x1="1184.8" y1="382.0" x2="1196.8" y2="382.0" stroke="#111" stroke-width="1.3"/>
<line x1="1230.5" y1="400.2" x2="1230.5" y2="401.5" stroke="#111" stroke-width="1.3"/>
<line x1="1224.5" y1="401.5" x2="1236.5" y2="401.5" stroke="#111" stroke-width="1.3"/>
<line x1="1270.2" y1="399.6" x2="1270.2" y2="403.2" stroke="#111" stroke-width="1.3"/>
<line x1="1264.2" y1="403.2" x2="1276.2" y2="403.2" stroke="#111" stroke-width="1.3"/>
<line x1="1310.0" y1="389.1" x2="1310.0" y2="385.0" stroke="#111" stroke-width="1.3"/>
<line x1="1304.0" y1="385.0" x2="1316.0" y2="385.0" stroke="#111" stroke-width="1.3"/>
<line x1="1349.8" y1="396.5" x2="1349.8" y2="395.7" stroke="#111" stroke-width="1.3"/>
<line x1="1343.8" y1="395.7" x2="1355.8" y2="395.7" stroke="#111" stroke-width="1.3"/>
<line x1="1389.5" y1="405.1" x2="1389.5" y2="408.0" stroke="#111" stroke-width="1.3"/>
<line x1="1383.5" y1="408.0" x2="1395.5" y2="408.0" stroke="#111" stroke-width="1.3"/>
<line x1="1481.0" y1="414.5" x2="1481.0" y2="416.5" stroke="#111" stroke-width="1.3"/>
<line x1="1475.0" y1="416.5" x2="1487.0" y2="416.5" stroke="#111" stroke-width="1.3"/>
<line x1="1520.9" y1="420.4" x2="1520.9" y2="421.5" stroke="#111" stroke-width="1.3"/>
<line x1="1514.9" y1="421.5" x2="1526.9" y2="421.5" stroke="#111" stroke-width="1.3"/>
<line x1="1560.8" y1="437.0" x2="1560.8" y2="451.4" stroke="#111" stroke-width="1.3"/>
<line x1="1554.8" y1="451.4" x2="1566.8" y2="451.4" stroke="#111" stroke-width="1.3"/>
<line x1="1600.7" y1="414.1" x2="1600.7" y2="425.2" stroke="#111" stroke-width="1.3"/>
<line x1="1594.7" y1="425.2" x2="1606.7" y2="425.2" stroke="#111" stroke-width="1.3"/>
<line x1="1679.9" y1="346.5" x2="1679.9" y2="331.8" stroke="#111" stroke-width="1.3"/>
<line x1="1673.9" y1="331.8" x2="1685.9" y2="331.8" stroke="#111" stroke-width="1.3"/>
<line x1="1719.5" y1="399.5" x2="1719.5" y2="404.1" stroke="#111" stroke-width="1.3"/>
<line x1="1713.5" y1="404.1" x2="1725.5" y2="404.1" stroke="#111" stroke-width="1.3"/>
<polygon points="1138.5,392.8 1143.7,389.5 1149.0,392.8 1143.7,396.1" fill="#000"/>
<polygon points="1146.7,387.7 1151.9,384.4 1157.2,387.7 1151.9,391.0" fill="#000"/>
<polygon points="1155.0,391.4 1160.3,388.1 1165.5,391.4 1160.3,394.7" fill="#000"/>
<polygon points="1177.2,383.6 1182.5,380.3 1187.8,383.6 1182.5,386.9" fill="#000"/>
<polygon points="1185.8,380.7 1191.0,377.4 1196.2,380.7 1191.0,384.0" fill="#000"/>
<polygon points="1194.2,383.0 1199.5,379.7 1204.8,383.0 1199.5,386.3" fill="#000"/>
<polygon points="1217.0,402.2 1222.2,398.9 1227.5,402.2 1222.2,405.5" fill="#000"/>
<polygon points="1225.0,395.7 1230.2,392.4 1235.5,395.7 1230.2,399.0" fill="#000"/>
<polygon points="1233.3,401.6 1238.6,398.3 1243.8,401.6 1238.6,404.9" fill="#000"/>
<polygon points="1265.0,393.8 1270.3,390.5 1275.5,393.8 1270.3,397.1" fill="#000"/>
<polygon points="1265.0,398.9 1270.3,395.6 1275.5,398.9 1270.3,402.2" fill="#000"/>
<polygon points="1265.0,405.1 1270.3,401.8 1275.5,405.1 1270.3,408.4" fill="#000"/>
<polygon points="1307.2,380.7 1312.4,377.4 1317.7,380.7 1312.4,384.0" fill="#000"/>
<polygon points="1307.2,389.5 1312.4,386.2 1317.7,389.5 1312.4,392.8" fill="#000"/>
<polygon points="1307.2,395.7 1312.4,392.4 1317.7,395.7 1312.4,399.0" fill="#000"/>
<polygon points="1339.2,393.4 1344.4,390.1 1349.7,393.4 1344.4,396.7" fill="#000"/>
<polygon points="1339.2,401.8 1344.4,398.5 1349.7,401.8 1344.4,405.1" fill="#000"/>
<polygon points="1355.5,398.3 1360.7,395.0 1366.0,398.3 1360.7,401.6" fill="#000"/>
<polygon points="1387.7,399.6 1392.9,396.3 1398.2,399.6 1392.9,402.9" fill="#000"/>
<polygon points="1378.8,408.6 1384.1,405.3 1389.3,408.6 1384.1,411.9" fill="#000"/>
<polygon points="1395.5,406.1 1400.7,402.8 1406.0,406.1 1400.7,409.4" fill="#000"/>
<polygon points="1475.5,408.4 1480.7,405.1 1486.0,408.4 1480.7,411.7" fill="#000"/>
<polygon points="1467.0,416.4 1472.3,413.1 1477.5,416.4 1472.3,419.7" fill="#000"/>
<polygon points="1483.7,415.3 1488.9,412.0 1494.2,415.3 1488.9,418.6" fill="#000"/>
<polygon points="1507.5,416.4 1512.7,413.1 1518.0,416.4 1512.7,419.7" fill="#000"/>
<polygon points="1507.5,422.3 1512.7,419.0 1518.0,422.3 1512.7,425.6" fill="#000"/>
<polygon points="1523.7,420.4 1528.9,417.1 1534.2,420.4 1528.9,423.7" fill="#000"/>
<polygon points="1555.5,422.3 1560.8,419.0 1566.0,422.3 1560.8,425.6" fill="#000"/>
<polygon points="1555.5,450.0 1560.8,446.7 1566.0,450.0 1560.8,453.3" fill="#000"/>
<polygon points="1595.5,390.4 1600.7,387.1 1606.0,390.4 1600.7,393.7" fill="#000"/>
<polygon points="1595.5,420.7 1600.7,417.4 1606.0,420.7 1600.7,424.0" fill="#000"/>
<polygon points="1595.5,428.2 1600.7,424.9 1606.0,428.2 1600.7,431.5" fill="#000"/>
<polygon points="1674.7,323.4 1679.9,320.1 1685.2,323.4 1679.9,326.7" fill="#000"/>
<polygon points="1674.7,340.2 1679.9,336.9 1685.2,340.2 1679.9,343.5" fill="#000"/>
<polygon points="1674.7,372.9 1679.9,369.6 1685.2,372.9 1679.9,376.2" fill="#000"/>
<polygon points="1714.2,388.1 1719.5,384.8 1724.8,388.1 1719.5,391.4" fill="#000"/>
<polygon points="1714.2,398.7 1719.5,395.4 1724.8,398.7 1719.5,402.0" fill="#000"/>
<polygon points="1714.2,407.0 1719.5,403.7 1724.8,407.0 1719.5,410.3" fill="#000"/>
<line x1="1124.6" y1="475.0" x2="1124.6" y2="640.5" stroke="#222" stroke-width="1.5"/>
<line x1="1124.6" y1="475.0" x2="1138.6" y2="475.0" stroke="#222" stroke-width="1.5"/>
<line x1="1124.6" y1="508.2" x2="1138.6" y2="508.2" stroke="#222" stroke-width="1.5"/>
<text x="1111.5" y="518.7" font-size="24" text-anchor="end">0.4</text>
<line x1="1124.6" y1="541.2" x2="1138.6" y2="541.2" stroke="#222" stroke-width="1.5"/>
<text x="1111.5" y="551.7" font-size="24" text-anchor="end">0.2</text>
<line x1="1124.6" y1="574.0" x2="1138.6" y2="574.0" stroke="#222" stroke-width="1.5"/>
<text x="1111.5" y="584.5" font-size="24" text-anchor="end">0</text>
<line x1="1124.6" y1="607.4" x2="1138.6" y2="607.4" stroke="#222" stroke-width="1.5"/>
<text x="1111.5" y="617.9" font-size="24" text-anchor="end">-0.2</text>
<line x1="1124.6" y1="640.5" x2="1138.6" y2="640.5" stroke="#222" stroke-width="1.5"/>
<text x="1111.5" y="651.0" font-size="24" text-anchor="end">-0.4</text>
<rect x="1137.8" y="573.3" width="26.5" height="0.7" fill="#4f81bd"/>
<rect x="1177.5" y="574.0" width="26.5" height="4.5" fill="#4f81bd"/>
<rect x="1217.2" y="569.9" width="26.5" height="4.1" fill="#4f81bd"/>
<rect x="1257.0" y="574.0" width="26.5" height="0.6" fill="#4f81bd"/>
<rect x="1296.8" y="574.0" width="26.5" height="10.6" fill="#4f81bd"/>
<rect x="1376.2" y="567.4" width="26.5" height="6.6" fill="#4f81bd"/>
<rect x="1467.8" y="490.1" width="26.5" height="83.9" fill="#4f81bd"/>
<rect x="1507.7" y="574.0" width="26.5" height="17.4" fill="#4f81bd"/>
<rect x="1547.5" y="574.0" width="26.5" height="20.7" fill="#4f81bd"/>
<rect x="1587.5" y="574.0" width="26.5" height="12.9" fill="#4f81bd"/>
<rect x="1666.7" y="574.0" width="26.5" height="39.9" fill="#4f81bd"/>
<rect x="1706.2" y="574.0" width="26.5" height="13.9" fill="#4f81bd"/>
<line x1="1124.6" y1="574.0" x2="1425.0" y2="574.0" stroke="#111" stroke-width="1.6"/>
<line x1="1455.0" y1="574.0" x2="1627.0" y2="574.0" stroke="#111" stroke-width="1.6"/>
<line x1="1653.0" y1="574.0" x2="1745.5" y2="574.0" stroke="#111" stroke-width="1.6"/>
<line x1="1151.0" y1="573.3" x2="1151.0" y2="572.5" stroke="#111" stroke-width="1.3"/>
<line x1="1145.0" y1="572.5" x2="1157.0" y2="572.5" stroke="#111" stroke-width="1.3"/>
<line x1="1190.8" y1="578.5" x2="1190.8" y2="579.5" stroke="#111" stroke-width="1.3"/>
<line x1="1184.8" y1="579.5" x2="1196.8" y2="579.5" stroke="#111" stroke-width="1.3"/>
<line x1="1230.5" y1="569.9" x2="1230.5" y2="567.4" stroke="#111" stroke-width="1.3"/>
<line x1="1224.5" y1="567.4" x2="1236.5" y2="567.4" stroke="#111" stroke-width="1.3"/>
<line x1="1270.2" y1="574.6" x2="1270.2" y2="576.5" stroke="#111" stroke-width="1.3"/>
<line x1="1264.2" y1="576.5" x2="1276.2" y2="576.5" stroke="#111" stroke-width="1.3"/>
<line x1="1310.0" y1="584.6" x2="1310.0" y2="586.0" stroke="#111" stroke-width="1.3"/>
<line x1="1304.0" y1="586.0" x2="1316.0" y2="586.0" stroke="#111" stroke-width="1.3"/>
<line x1="1389.5" y1="567.4" x2="1389.5" y2="567.4" stroke="#111" stroke-width="1.3"/>
<line x1="1383.5" y1="567.4" x2="1395.5" y2="567.4" stroke="#111" stroke-width="1.3"/>
<line x1="1481.0" y1="490.1" x2="1481.0" y2="482.7" stroke="#111" stroke-width="1.3"/>
<line x1="1475.0" y1="482.7" x2="1487.0" y2="482.7" stroke="#111" stroke-width="1.3"/>
<line x1="1520.9" y1="591.4" x2="1520.9" y2="592.8" stroke="#111" stroke-width="1.3"/>
<line x1="1514.9" y1="592.8" x2="1526.9" y2="592.8" stroke="#111" stroke-width="1.3"/>
<line x1="1560.8" y1="594.7" x2="1560.8" y2="601.6" stroke="#111" stroke-width="1.3"/>
<line x1="1554.8" y1="601.6" x2="1566.8" y2="601.6" stroke="#111" stroke-width="1.3"/>
<line x1="1600.7" y1="586.9" x2="1600.7" y2="598.2" stroke="#111" stroke-width="1.3"/>
<line x1="1594.7" y1="598.2" x2="1606.7" y2="598.2" stroke="#111" stroke-width="1.3"/>
<line x1="1679.9" y1="613.9" x2="1679.9" y2="621.1" stroke="#111" stroke-width="1.3"/>
<line x1="1673.9" y1="621.1" x2="1685.9" y2="621.1" stroke="#111" stroke-width="1.3"/>
<line x1="1719.5" y1="587.9" x2="1719.5" y2="595.1" stroke="#111" stroke-width="1.3"/>
<line x1="1713.5" y1="595.1" x2="1725.5" y2="595.1" stroke="#111" stroke-width="1.3"/>
<polygon points="1137.5,576.5 1142.7,573.2 1148.0,576.5 1142.7,579.8" fill="#000"/>
<polygon points="1145.7,571.8 1150.9,568.5 1156.2,571.8 1150.9,575.1" fill="#000"/>
<polygon points="1154.0,574.2 1159.3,570.9 1164.5,574.2 1159.3,577.5" fill="#000"/>
<polygon points="1177.2,579.5 1182.4,576.2 1187.7,579.5 1182.4,582.8" fill="#000"/>
<polygon points="1185.8,577.1 1191.0,573.8 1196.2,577.1 1191.0,580.4" fill="#000"/>
<polygon points="1194.2,579.5 1199.4,576.2 1204.7,579.5 1199.4,582.8" fill="#000"/>
<polygon points="1217.7,565.4 1222.9,562.1 1228.2,565.4 1222.9,568.7" fill="#000"/>
<polygon points="1225.5,574.6 1230.7,571.3 1236.0,574.6 1230.7,577.9" fill="#000"/>
<polygon points="1234.2,569.3 1239.4,566.0 1244.7,569.3 1239.4,572.6" fill="#000"/>
<polygon points="1258.2,572.2 1263.5,568.9 1268.8,572.2 1263.5,575.5" fill="#000"/>
<polygon points="1258.2,578.1 1263.5,574.8 1268.8,578.1 1263.5,581.4" fill="#000"/>
<polygon points="1274.8,575.2 1280.1,571.9 1285.3,575.2 1280.1,578.5" fill="#000"/>
<polygon points="1297.5,586.9 1302.8,583.6 1308.0,586.9 1302.8,590.2" fill="#000"/>
<polygon points="1306.0,582.0 1311.2,578.7 1316.5,582.0 1311.2,585.3" fill="#000"/>
<polygon points="1314.3,586.3 1319.6,583.0 1324.8,586.3 1319.6,589.6" fill="#000"/>
<polygon points="1337.8,575.6 1343.1,572.3 1348.3,575.6 1343.1,578.9" fill="#000"/>
<polygon points="1346.0,573.2 1351.3,569.9 1356.5,573.2 1351.3,576.5" fill="#000"/>
<polygon points="1354.8,574.6 1360.1,571.3 1365.3,574.6 1360.1,577.9" fill="#000"/>
<polygon points="1378.2,562.9 1383.5,559.6 1388.8,562.9 1383.5,566.2" fill="#000"/>
<polygon points="1378.2,572.2 1383.5,568.9 1388.8,572.2 1383.5,575.5" fill="#000"/>
<polygon points="1394.5,567.4 1399.8,564.1 1405.0,567.4 1399.8,570.7" fill="#000"/>
<polygon points="1475.5,482.7 1480.7,479.4 1486.0,482.7 1480.7,486.0" fill="#000"/>
<polygon points="1475.5,497.4 1480.7,494.1 1486.0,497.4 1480.7,500.7" fill="#000"/>
<polygon points="1507.5,588.5 1512.7,585.2 1518.0,588.5 1512.7,591.8" fill="#000"/>
<polygon points="1523.7,589.8 1528.9,586.5 1534.2,589.8 1528.9,593.1" fill="#000"/>
<polygon points="1515.5,595.7 1520.7,592.4 1526.0,595.7 1520.7,599.0" fill="#000"/>
<polygon points="1555.5,584.4 1560.8,581.1 1566.0,584.4 1560.8,587.7" fill="#000"/>
<polygon points="1555.5,594.7 1560.8,591.4 1566.0,594.7 1560.8,598.0" fill="#000"/>
<polygon points="1555.5,606.5 1560.8,603.2 1566.0,606.5 1560.8,609.8" fill="#000"/>
<polygon points="1587.8,573.8 1593.0,570.5 1598.2,573.8 1593.0,577.1" fill="#000"/>
<polygon points="1603.8,578.1 1609.0,574.8 1614.2,578.1 1609.0,581.4" fill="#000"/>
<polygon points="1595.5,609.4 1600.7,606.1 1606.0,609.4 1600.7,612.7" fill="#000"/>
<polygon points="1674.7,599.0 1679.9,595.7 1685.2,599.0 1679.9,602.3" fill="#000"/>
<polygon points="1666.0,622.5 1671.3,619.2 1676.5,622.5 1671.3,625.8" fill="#000"/>
<polygon points="1682.7,621.1 1687.9,617.8 1693.2,621.1 1687.9,624.4" fill="#000"/>
<polygon points="1714.2,581.0 1719.5,577.7 1724.8,581.0 1719.5,584.3" fill="#000"/>
<polygon points="1714.2,595.1 1719.5,591.8 1724.8,595.1 1719.5,598.4" fill="#000"/>
<line x1="1124.6" y1="640.7" x2="1425.0" y2="640.7" stroke="#555" stroke-width="1.6"/>
<line x1="1455.0" y1="640.7" x2="1627.0" y2="640.7" stroke="#555" stroke-width="1.6"/>
<line x1="1653.0" y1="640.7" x2="1745.5" y2="640.7" stroke="#555" stroke-width="1.6"/>
<line x1="1151.0" y1="640.7" x2="1151.0" y2="633.8" stroke="#555" stroke-width="1.4"/>
<line x1="1190.8" y1="640.7" x2="1190.8" y2="633.8" stroke="#555" stroke-width="1.4"/>
<line x1="1230.5" y1="640.7" x2="1230.5" y2="633.8" stroke="#555" stroke-width="1.4"/>
<line x1="1270.2" y1="640.7" x2="1270.2" y2="633.8" stroke="#555" stroke-width="1.4"/>
<line x1="1310.0" y1="640.7" x2="1310.0" y2="633.8" stroke="#555" stroke-width="1.4"/>
<line x1="1349.8" y1="640.7" x2="1349.8" y2="633.8" stroke="#555" stroke-width="1.4"/>
<line x1="1389.5" y1="640.7" x2="1389.5" y2="633.8" stroke="#555" stroke-width="1.4"/>
<line x1="1481.0" y1="640.7" x2="1481.0" y2="633.8" stroke="#555" stroke-width="1.4"/>
<line x1="1520.9" y1="640.7" x2="1520.9" y2="633.8" stroke="#555" stroke-width="1.4"/>
<line x1="1560.8" y1="640.7" x2="1560.8" y2="633.8" stroke="#555" stroke-width="1.4"/>
<line x1="1600.7" y1="640.7" x2="1600.7" y2="633.8" stroke="#555" stroke-width="1.4"/>
<line x1="1679.9" y1="640.7" x2="1679.9" y2="633.8" stroke="#555" stroke-width="1.4"/>
<line x1="1719.5" y1="640.7" x2="1719.5" y2="633.8" stroke="#555" stroke-width="1.4"/>
<rect x="1210.1" y="639.3" width="17.2" height="3.0" fill="#000"/>
<text x="0" y="0" font-size="27" text-anchor="end" transform="translate(1167.2,670.2) rotate(-45)">CYFIP1</text>
<text x="0" y="0" font-size="27" text-anchor="end" transform="translate(1206.3,670.2) rotate(-45)">NCKAP1</text>
<text x="0" y="0" font-size="27" text-anchor="end" transform="translate(1250.4,670.2) rotate(-45)">WAVE1</text>
<text x="0" y="0" font-size="27" text-anchor="end" transform="translate(1290.2,670.9) rotate(-45)">WAVE2</text>
<text x="0" y="0" font-size="27" text-anchor="end" transform="translate(1329.9,670.9) rotate(-45)">WAVE3</text>
<text x="0" y="0" font-size="27" text-anchor="end" transform="translate(1370.2,670.2) rotate(-45)">ABI1</text>
<text x="0" y="0" font-size="27" text-anchor="end" transform="translate(1410.6,670.2) rotate(-45)">BRK1</text>
<text x="0" y="0" font-size="27" text-anchor="end" transform="translate(1500.9,672.0) rotate(-45)">Lamellipodin</text>
<text x="0" y="0" font-size="27" text-anchor="end" transform="translate(1540.8,677.0) rotate(-45)">IRSp53</text>
<text x="0" y="0" font-size="27" text-anchor="end" transform="translate(1581.9,670.9) rotate(-45)">NHS</text>
<text x="0" y="0" font-size="27" text-anchor="end" transform="translate(1624.9,670.2) rotate(-45)">NHSL1</text>
<text x="0" y="0" font-size="27" text-anchor="end" font-weight="bold" fill="#e0202a" style="stroke:#e0202a" transform="translate(1697.9,671.4) rotate(-45)">PPP2R1A</text>
<text x="0" y="0" font-size="27" text-anchor="end" transform="translate(1741.8,672.0) rotate(-45)">PP2Ac</text>
<text x="295.5" y="870.0" font-size="27.3" text-anchor="middle">MCF10A</text>
<line x1="228.2" y1="891.8" x2="363.0" y2="891.8" stroke="#222" stroke-width="1.6"/>
<text x="190.5" y="925.3" font-size="27.3" text-anchor="end">si CTRL</text>
<text x="190.5" y="966.0" font-size="27.3" text-anchor="end">si PPP2R1A</text>
<text x="252.9" y="925.3" font-size="27.3" text-anchor="middle">+</text>
<text x="334.4" y="925.3" font-size="27.3" text-anchor="middle">-</text>
<text x="252.9" y="966.0" font-size="27.3" text-anchor="middle">-</text>
<text x="334.4" y="966.0" font-size="27.3" text-anchor="middle">+</text>
<text x="392.0" y="970.2" font-size="23.5">kDa</text>
<rect x="210.2" y="981.0" width="161.3" height="71.6" fill="url(#wb)"/>
<path d="M220.6,1018.5 C224.6,1013.0 230.6,1013.0 250.5,1013.0 C270.4,1013.0 276.4,1013.0 280.4,1018.5 C276.4,1024.5 270.4,1024.5 250.5,1024.0 C230.6,1024.5 224.6,1024.5 220.6,1018.5 Z" fill="#000" opacity="0.95" filter="url(#bb1)"/>
<path d="M300.0,1019.0 C304.0,1014.0 310.0,1014.0 330.5,1014.0 C351.0,1014.0 357.0,1014.0 361.0,1019.0 C357.0,1024.5 351.0,1024.5 330.5,1024.0 C310.0,1024.5 304.0,1024.5 300.0,1019.0 Z" fill="#000" opacity="0.18" filter="url(#bb3)"/>
<rect x="210.2" y="981.0" width="161.3" height="71.6" fill="none" stroke="#555" stroke-width="1.4"/>
<text x="188.8" y="1025.3" font-size="27.1" text-anchor="end">PPP2R1A</text>
<line x1="373.7" y1="1051.4" x2="391.7" y2="1051.4" stroke="#333" stroke-width="1.4"/>
<text x="392.7" y="1058.9" font-size="23.5">50</text>
<rect x="210.2" y="1065.5" width="161.3" height="72.8" fill="url(#wb)"/>
<path d="M216.4,1103.7 C220.4,1095.7 226.4,1095.7 249.4,1095.7 C272.4,1095.7 278.4,1095.7 282.4,1103.7 C278.4,1112.5 272.4,1112.5 249.4,1111.7 C226.4,1112.5 220.4,1112.5 216.4,1103.7 Z" fill="#000" opacity="1.00" filter="url(#bb1)"/>
<path d="M297.3,1103.7 C301.3,1095.7 307.3,1095.7 331.3,1095.7 C355.3,1095.7 361.3,1095.7 365.3,1103.7 C361.3,1112.5 355.3,1112.5 331.3,1111.7 C307.3,1112.5 301.3,1112.5 297.3,1103.7 Z" fill="#000" opacity="1.00" filter="url(#bb1)"/>
<path d="M240.0,1074.0 C244.0,1072.5 250.0,1072.5 255.0,1072.5 C260.0,1072.5 266.0,1072.5 270.0,1074.0 C266.0,1075.7 260.0,1075.7 255.0,1075.5 C250.0,1075.7 244.0,1075.7 240.0,1074.0 Z" fill="#000" opacity="0.20" filter="url(#bb2)"/>
<rect x="210.2" y="1065.5" width="161.3" height="72.8" fill="none" stroke="#555" stroke-width="1.4"/>
<text x="188.8" y="1108.0" font-size="27.1" text-anchor="end">GAPDH</text>
<line x1="373.7" y1="1074.2" x2="391.7" y2="1074.2" stroke="#333" stroke-width="1.4"/>
<text x="392.7" y="1081.7" font-size="23.5">50</text>
<text x="296.4" y="1266.0" font-size="27.3" text-anchor="middle">MCF10A</text>
<text x="296.2" y="1298.9" font-size="27.3" text-anchor="middle">RAC1 Q61L</text>
<line x1="228.2" y1="1316.6" x2="363.0" y2="1316.6" stroke="#222" stroke-width="1.6"/>
<text x="185.0" y="1353.1" font-size="27.3" text-anchor="end">si CTRL</text>
<text x="189.5" y="1390.5" font-size="27.3" text-anchor="end">si PPP2R1A</text>
<text x="248.7" y="1353.1" font-size="27.3" text-anchor="middle">+</text>
<text x="330.2" y="1353.1" font-size="27.3" text-anchor="middle">-</text>
<text x="248.7" y="1390.5" font-size="27.3" text-anchor="middle">-</text>
<text x="330.2" y="1390.5" font-size="27.3" text-anchor="middle">+</text>
<text x="383.0" y="1401.8" font-size="23.5">kDa</text>
<rect x="209.3" y="1412.7" width="161.6" height="72.0" fill="url(#wbd)"/>
<path d="M224.8,1447.5 C228.8,1443.0 234.8,1443.0 251.5,1443.0 C268.2,1443.0 274.2,1443.0 278.2,1447.5 C274.2,1452.5 268.2,1452.5 251.5,1452.0 C234.8,1452.5 228.8,1452.5 224.8,1447.5 Z" fill="#000" opacity="0.45" filter="url(#bb2)"/>
<path d="M303.5,1447.5 C307.5,1443.0 313.5,1443.0 329.5,1443.0 C345.5,1443.0 351.5,1443.0 355.5,1447.5 C351.5,1452.5 345.5,1452.5 329.5,1452.0 C313.5,1452.5 307.5,1452.5 303.5,1447.5 Z" fill="#000" opacity="0.20" filter="url(#bb3)"/>
<rect x="209.3" y="1412.7" width="161.6" height="72.0" fill="none" stroke="#555" stroke-width="1.4"/>
<text x="186.0" y="1457.1" font-size="27.1" text-anchor="end">PPP2R1A</text>
<line x1="371.5" y1="1482.4" x2="389.5" y2="1482.4" stroke="#333" stroke-width="1.4"/>
<text x="390.5" y="1489.9" font-size="23.5">50</text>
<rect x="210.2" y="1497.3" width="161.6" height="72.5" fill="url(#wbd)"/>
<path d="M226.0,1533.8 C230.0,1522.8 236.0,1522.8 256.0,1522.8 C276.0,1522.8 282.0,1522.8 286.0,1533.8 C282.0,1545.9 276.0,1545.9 256.0,1544.8 C236.0,1545.9 230.0,1545.9 226.0,1533.8 Z" fill="#000" opacity="0.35" filter="url(#bb3)"/>
<path d="M296.0,1533.8 C300.0,1522.8 306.0,1522.8 327.5,1522.8 C349.0,1522.8 355.0,1522.8 359.0,1533.8 C355.0,1545.9 349.0,1545.9 327.5,1544.8 C306.0,1545.9 300.0,1545.9 296.0,1533.8 Z" fill="#000" opacity="0.35" filter="url(#bb3)"/>
<path d="M230.4,1533.8 C234.4,1527.3 240.4,1527.3 256.4,1527.3 C272.4,1527.3 278.4,1527.3 282.4,1533.8 C278.4,1541.0 272.4,1541.0 256.4,1540.3 C240.4,1541.0 234.4,1541.0 230.4,1533.8 Z" fill="#000" opacity="1.00" filter="url(#bb1)"/>
<path d="M300.7,1533.8 C304.7,1527.3 310.7,1527.3 328.1,1527.3 C345.5,1527.3 351.5,1527.3 355.5,1533.8 C351.5,1541.0 345.5,1541.0 328.1,1540.3 C310.7,1541.0 304.7,1541.0 300.7,1533.8 Z" fill="#000" opacity="1.00" filter="url(#bb1)"/>
<rect x="210.2" y="1497.3" width="161.6" height="72.5" fill="none" stroke="#555" stroke-width="1.4"/>
<text x="178.5" y="1542.8" font-size="27.1" text-anchor="end">GAPDH</text>
<line x1="371.8" y1="1506.3" x2="389.8" y2="1506.3" stroke="#333" stroke-width="1.4"/>
<text x="390.8" y="1513.8" font-size="23.5">50</text>
<text x="298.5" y="1691.2" font-size="27.3" text-anchor="middle">MCF10A</text>
<line x1="231.0" y1="1703.8" x2="365.3" y2="1703.8" stroke="#222" stroke-width="1.6"/>
<text x="194.0" y="1737.5" font-size="27.3" text-anchor="end">FLAG-GFP</text>
<text x="194.0" y="1774.6" font-size="27.3" text-anchor="end">PPP2R1A</text>
<text x="257.1" y="1737.5" font-size="27.3" text-anchor="middle">+</text>
<text x="338.6" y="1737.5" font-size="27.3" text-anchor="middle">-</text>
<text x="257.1" y="1774.6" font-size="27.3" text-anchor="middle">-</text>
<text x="338.6" y="1774.6" font-size="27.3" text-anchor="middle">+</text>
<text x="398.0" y="1784.5" font-size="23.5">kDa</text>
<rect x="220.0" y="1793.7" width="154.6" height="128.1" fill="url(#wb)"/>
<path d="M305.7,1817.0 C309.7,1812.5 315.7,1812.5 330.1,1812.5 C344.6,1812.5 350.6,1812.5 354.6,1817.0 C350.6,1822.0 344.6,1822.0 330.1,1821.5 C315.7,1822.0 309.7,1822.0 305.7,1817.0 Z" fill="#000" opacity="0.95" filter="url(#bb1)"/>
<path d="M308.0,1826.0 C312.0,1823.0 318.0,1823.0 330.0,1823.0 C342.0,1823.0 348.0,1823.0 352.0,1826.0 C348.0,1829.3 342.0,1829.3 330.0,1829.0 C318.0,1829.3 312.0,1829.3 308.0,1826.0 Z" fill="#000" opacity="0.15" filter="url(#bb3)"/>
<path d="M230.4,1907.2 C234.4,1903.2 240.4,1903.2 255.7,1903.2 C271.0,1903.2 277.0,1903.2 281.0,1907.2 C277.0,1911.6 271.0,1911.6 255.7,1911.2 C240.4,1911.6 234.4,1911.6 230.4,1907.2 Z" fill="#000" opacity="0.50" filter="url(#bb2)"/>
<path d="M310.5,1907.2 C314.5,1904.2 320.5,1904.2 335.1,1904.2 C349.7,1904.2 355.7,1904.2 359.7,1907.2 C355.7,1910.5 349.7,1910.5 335.1,1910.2 C320.5,1910.5 314.5,1910.5 310.5,1907.2 Z" fill="#000" opacity="0.15" filter="url(#bb3)"/>
<rect x="220.0" y="1793.7" width="154.6" height="128.1" fill="none" stroke="#555" stroke-width="1.4"/>
<text x="225.6" y="1828.0" font-size="20" text-anchor="middle" fill="#e0202a" style="stroke:#e0202a">*</text>
<text x="225.6" y="1914.5" font-size="20" text-anchor="middle" fill="#e0202a" style="stroke:#e0202a">*</text>
<line x1="375.1" y1="1800.0" x2="393.1" y2="1800.0" stroke="#333" stroke-width="1.4"/>
<text x="397.5" y="1807.5" font-size="23.5">115</text>
<line x1="375.1" y1="1831.7" x2="393.1" y2="1831.7" stroke="#333" stroke-width="1.4"/>
<text x="397.5" y="1839.2" font-size="23.5">80</text>
<line x1="375.1" y1="1870.7" x2="393.1" y2="1870.7" stroke="#333" stroke-width="1.4"/>
<text x="397.5" y="1878.2" font-size="23.5">70</text>
<text x="183.0" y="1824.4" font-size="27.3" text-anchor="end">FLAG-GFP</text>
<text x="192.0" y="1857.5" font-size="27.3" text-anchor="end">PPP2R1A</text>
<text x="183.0" y="1904.4" font-size="27.3" text-anchor="end">Endogenous</text>
<text x="192.0" y="1937.3" font-size="27.3" text-anchor="end">PPP2R1A</text>
<text x="302.0" y="1955.0" font-size="27.3" text-anchor="middle">WB PPP2R1A</text>
<rect x="220.0" y="1976.6" width="154.6" height="72.5" fill="url(#wb)"/>
<path d="M226.2,2006.0 Q232.2,2014.0 258.5,2012.0 Q284.8,2014.0 290.8,2005.0 L291.8,2018.0 Q286.8,2030.0 258.5,2029.0 Q230.2,2030.0 225.2,2018.0 Z" fill="#000" opacity="1.0" filter="url(#bb1)"/>
<rect x="228.2" y="2000.0" width="60.6" height="14" fill="#000" opacity="0.12" filter="url(#bb3)"/>
<path d="M296.5,2006.0 Q302.5,2014.0 328.8,2012.0 Q355.1,2014.0 361.1,2005.0 L362.1,2018.0 Q357.1,2030.0 328.8,2029.0 Q300.5,2030.0 295.5,2018.0 Z" fill="#000" opacity="1.0" filter="url(#bb1)"/>
<rect x="298.5" y="2000.0" width="60.6" height="14" fill="#000" opacity="0.12" filter="url(#bb3)"/>
<rect x="370.0" y="1977.0" width="4.0" height="71.0" fill="#f4f4f4"/>
<rect x="220.0" y="1976.6" width="154.6" height="72.5" fill="none" stroke="#555" stroke-width="1.4"/>
<text x="205.5" y="2027.8" font-size="27.3" text-anchor="end">GAPDH</text>
<line x1="375.1" y1="1988.7" x2="393.1" y2="1988.7" stroke="#333" stroke-width="1.4"/>
<text x="394.0" y="1996.2" font-size="23.5">50</text>
<text x="314.7" y="2149.4" font-size="27.3" text-anchor="middle">MDA-MB-231</text>
<line x1="247.3" y1="2168.3" x2="382.7" y2="2168.3" stroke="#222" stroke-width="1.6"/>
<text x="202.3" y="2207.9" font-size="27.3" text-anchor="end">si CTRL</text>
<text x="207.0" y="2253.2" font-size="27.3" text-anchor="end">si PPP2R1A</text>
<text x="272.6" y="2207.9" font-size="27.3" text-anchor="middle">+</text>
<text x="354.0" y="2207.9" font-size="27.3" text-anchor="middle">-</text>
<text x="272.6" y="2253.2" font-size="27.3" text-anchor="middle">-</text>
<text x="354.0" y="2253.2" font-size="27.3" text-anchor="middle">+</text>
<text x="405.0" y="2253.2" font-size="23.5">kDa</text>
<rect x="232.7" y="2269.3" width="162.1" height="71.6" fill="url(#wbf)"/>
<path d="M243.0,2303.0 C247.0,2296.0 253.0,2296.0 272.9,2296.0 C292.9,2296.0 298.9,2296.0 302.9,2303.0 C298.9,2310.7 292.9,2310.7 272.9,2310.0 C253.0,2310.7 247.0,2310.7 243.0,2303.0 Z" fill="#000" opacity="1.00" filter="url(#bb1)"/>
<path d="M324.6,2303.0 C328.6,2298.0 334.6,2298.0 354.1,2298.0 C373.6,2298.0 379.6,2298.0 383.6,2303.0 C379.6,2308.5 373.6,2308.5 354.1,2308.0 C334.6,2308.5 328.6,2308.5 324.6,2303.0 Z" fill="#000" opacity="0.12" filter="url(#bb3)"/>
<rect x="232.7" y="2269.3" width="162.1" height="71.6" fill="none" stroke="#555" stroke-width="1.4"/>
<text x="217.0" y="2312.8" font-size="27.3" text-anchor="end">PPP2R1A</text>
<line x1="396.2" y1="2336.7" x2="414.2" y2="2336.7" stroke="#333" stroke-width="1.4"/>
<text x="415.2" y="2344.2" font-size="23.5">50</text>
<rect x="232.7" y="2354.4" width="162.1" height="71.7" fill="url(#wbf)"/>
<path d="M241.7,2389.0 C245.7,2384.0 251.7,2384.0 271.2,2384.0 C290.7,2384.0 296.7,2384.0 300.7,2389.0 C296.7,2394.5 290.7,2394.5 271.2,2394.0 C251.7,2394.5 245.7,2394.5 241.7,2389.0 Z" fill="#000" opacity="0.60" filter="url(#bb2)"/>
<path d="M321.7,2389.0 C325.7,2384.5 331.7,2384.5 352.6,2384.5 C373.6,2384.5 379.6,2384.5 383.6,2389.0 C379.6,2393.9 373.6,2393.9 352.6,2393.5 C331.7,2393.9 325.7,2393.9 321.7,2389.0 Z" fill="#000" opacity="0.50" filter="url(#bb2)"/>
<rect x="232.7" y="2354.4" width="162.1" height="71.7" fill="none" stroke="#555" stroke-width="1.4"/>
<text x="216.5" y="2395.0" font-size="27.3" text-anchor="end">GAPDH</text>
<line x1="396.2" y1="2362.8" x2="414.2" y2="2362.8" stroke="#333" stroke-width="1.4"/>
<text x="415.2" y="2370.3" font-size="23.5">50</text>
<line x1="568.2" y1="866.4" x2="568.2" y2="1168.7" stroke="#333" stroke-width="1.6"/>
<line x1="568.2" y1="1168.7" x2="870.7" y2="1168.7" stroke="#333" stroke-width="1.6"/>
<line x1="568.2" y1="866.4" x2="572.2" y2="866.4" stroke="#333" stroke-width="1.4"/>
<line x1="568.2" y1="904.2" x2="572.2" y2="904.2" stroke="#333" stroke-width="1.4"/>
<line x1="568.2" y1="942.0" x2="572.2" y2="942.0" stroke="#333" stroke-width="1.4"/>
<line x1="568.2" y1="979.8" x2="572.2" y2="979.8" stroke="#333" stroke-width="1.4"/>
<line x1="568.2" y1="1017.5" x2="572.2" y2="1017.5" stroke="#333" stroke-width="1.4"/>
<line x1="568.2" y1="1055.3" x2="572.2" y2="1055.3" stroke="#333" stroke-width="1.4"/>
<line x1="568.2" y1="1093.1" x2="572.2" y2="1093.1" stroke="#333" stroke-width="1.4"/>
<line x1="568.2" y1="1130.9" x2="572.2" y2="1130.9" stroke="#333" stroke-width="1.4"/>
<line x1="568.2" y1="1168.7" x2="572.2" y2="1168.7" stroke="#333" stroke-width="1.4"/>
<line x1="568.2" y1="1168.7" x2="568.2" y2="1164.7" stroke="#333" stroke-width="1.4"/>
<line x1="606.0" y1="1168.7" x2="606.0" y2="1164.7" stroke="#333" stroke-width="1.4"/>
<line x1="643.8" y1="1168.7" x2="643.8" y2="1164.7" stroke="#333" stroke-width="1.4"/>
<line x1="681.6" y1="1168.7" x2="681.6" y2="1164.7" stroke="#333" stroke-width="1.4"/>
<line x1="719.5" y1="1168.7" x2="719.5" y2="1164.7" stroke="#333" stroke-width="1.4"/>
<line x1="757.3" y1="1168.7" x2="757.3" y2="1164.7" stroke="#333" stroke-width="1.4"/>
<line x1="795.1" y1="1168.7" x2="795.1" y2="1164.7" stroke="#333" stroke-width="1.4"/>
<line x1="832.9" y1="1168.7" x2="832.9" y2="1164.7" stroke="#333" stroke-width="1.4"/>
<line x1="870.7" y1="1168.7" x2="870.7" y2="1164.7" stroke="#333" stroke-width="1.4"/>
<text x="719.7" y="856.6" font-size="27.3" text-anchor="middle">si CTRL</text>
<text x="555.2" y="873.2" font-size="23.5" text-anchor="end">600</text>
<text x="555.2" y="947.5" font-size="23.5" text-anchor="end">300</text>
<text x="552.5" y="1021.7" font-size="23.5" text-anchor="end">0</text>
<text x="553.7" y="1099.6" font-size="23.5" text-anchor="end">-300</text>
<text x="555.6" y="1170.5" font-size="23.5" text-anchor="end">-600</text>
<text x="558.0" y="1199.5" font-size="23.5" text-anchor="middle">-600</text>
<text x="638.5" y="1199.5" font-size="23.5" text-anchor="middle">-300</text>
<text x="719.2" y="1199.5" font-size="23.5" text-anchor="middle">0</text>
<text x="795.3" y="1199.5" font-size="23.5" text-anchor="middle">300</text>
<text x="871.0" y="1199.5" font-size="23.5" text-anchor="middle">600</text>
<line x1="885.3" y1="867.2" x2="885.3" y2="1169.4" stroke="#333" stroke-width="1.6"/>
<line x1="885.3" y1="1169.4" x2="1188.2" y2="1169.4" stroke="#333" stroke-width="1.6"/>
<line x1="885.3" y1="867.2" x2="889.3" y2="867.2" stroke="#333" stroke-width="1.4"/>
<line x1="885.3" y1="905.0" x2="889.3" y2="905.0" stroke="#333" stroke-width="1.4"/>
<line x1="885.3" y1="942.8" x2="889.3" y2="942.8" stroke="#333" stroke-width="1.4"/>
<line x1="885.3" y1="980.5" x2="889.3" y2="980.5" stroke="#333" stroke-width="1.4"/>
<line x1="885.3" y1="1018.3" x2="889.3" y2="1018.3" stroke="#333" stroke-width="1.4"/>
<line x1="885.3" y1="1056.1" x2="889.3" y2="1056.1" stroke="#333" stroke-width="1.4"/>
<line x1="885.3" y1="1093.9" x2="889.3" y2="1093.9" stroke="#333" stroke-width="1.4"/>
<line x1="885.3" y1="1131.6" x2="889.3" y2="1131.6" stroke="#333" stroke-width="1.4"/>
<line x1="885.3" y1="1169.4" x2="889.3" y2="1169.4" stroke="#333" stroke-width="1.4"/>
<line x1="885.3" y1="1169.4" x2="885.3" y2="1165.4" stroke="#333" stroke-width="1.4"/>
<line x1="923.2" y1="1169.4" x2="923.2" y2="1165.4" stroke="#333" stroke-width="1.4"/>
<line x1="961.0" y1="1169.4" x2="961.0" y2="1165.4" stroke="#333" stroke-width="1.4"/>
<line x1="998.9" y1="1169.4" x2="998.9" y2="1165.4" stroke="#333" stroke-width="1.4"/>
<line x1="1036.8" y1="1169.4" x2="1036.8" y2="1165.4" stroke="#333" stroke-width="1.4"/>
<line x1="1074.6" y1="1169.4" x2="1074.6" y2="1165.4" stroke="#333" stroke-width="1.4"/>
<line x1="1112.5" y1="1169.4" x2="1112.5" y2="1165.4" stroke="#333" stroke-width="1.4"/>
<line x1="1150.3" y1="1169.4" x2="1150.3" y2="1165.4" stroke="#333" stroke-width="1.4"/>
<line x1="1188.2" y1="1169.4" x2="1188.2" y2="1165.4" stroke="#333" stroke-width="1.4"/>
<text x="1040.6" y="857.1" font-size="27.3" text-anchor="middle">si PPP2R1A</text>
<text x="953.0" y="1199.5" font-size="23.5" text-anchor="middle">-300</text>
<text x="1037.0" y="1199.5" font-size="23.5" text-anchor="middle">0</text>
<text x="1111.5" y="1199.5" font-size="23.5" text-anchor="middle">300</text>
<text x="1190.4" y="1199.5" font-size="23.5" text-anchor="middle">600</text>
<line x1="568.2" y1="1296.8" x2="568.2" y2="1599.4" stroke="#333" stroke-width="1.6"/>
<line x1="568.2" y1="1599.4" x2="871.2" y2="1599.4" stroke="#333" stroke-width="1.6"/>
<line x1="568.2" y1="1296.8" x2="572.2" y2="1296.8" stroke="#333" stroke-width="1.4"/>
<line x1="568.2" y1="1334.6" x2="572.2" y2="1334.6" stroke="#333" stroke-width="1.4"/>
<line x1="568.2" y1="1372.5" x2="572.2" y2="1372.5" stroke="#333" stroke-width="1.4"/>
<line x1="568.2" y1="1410.3" x2="572.2" y2="1410.3" stroke="#333" stroke-width="1.4"/>
<line x1="568.2" y1="1448.1" x2="572.2" y2="1448.1" stroke="#333" stroke-width="1.4"/>
<line x1="568.2" y1="1485.9" x2="572.2" y2="1485.9" stroke="#333" stroke-width="1.4"/>
<line x1="568.2" y1="1523.8" x2="572.2" y2="1523.8" stroke="#333" stroke-width="1.4"/>
<line x1="568.2" y1="1561.6" x2="572.2" y2="1561.6" stroke="#333" stroke-width="1.4"/>
<line x1="568.2" y1="1599.4" x2="572.2" y2="1599.4" stroke="#333" stroke-width="1.4"/>
<line x1="568.2" y1="1599.4" x2="568.2" y2="1595.4" stroke="#333" stroke-width="1.4"/>
<line x1="606.1" y1="1599.4" x2="606.1" y2="1595.4" stroke="#333" stroke-width="1.4"/>
<line x1="644.0" y1="1599.4" x2="644.0" y2="1595.4" stroke="#333" stroke-width="1.4"/>
<line x1="681.8" y1="1599.4" x2="681.8" y2="1595.4" stroke="#333" stroke-width="1.4"/>
<line x1="719.7" y1="1599.4" x2="719.7" y2="1595.4" stroke="#333" stroke-width="1.4"/>
<line x1="757.6" y1="1599.4" x2="757.6" y2="1595.4" stroke="#333" stroke-width="1.4"/>
<line x1="795.5" y1="1599.4" x2="795.5" y2="1595.4" stroke="#333" stroke-width="1.4"/>
<line x1="833.3" y1="1599.4" x2="833.3" y2="1595.4" stroke="#333" stroke-width="1.4"/>
<line x1="871.2" y1="1599.4" x2="871.2" y2="1595.4" stroke="#333" stroke-width="1.4"/>
<text x="719.2" y="1301.6" font-size="27.3" text-anchor="middle">si CTRL</text>
<text x="557.0" y="1304.0" font-size="23.5" text-anchor="end">600</text>
<text x="557.0" y="1378.5" font-size="23.5" text-anchor="end">300</text>
<text x="554.3" y="1453.5" font-size="23.5" text-anchor="end">0</text>
<text x="555.5" y="1530.5" font-size="23.5" text-anchor="end">-300</text>
<text x="557.3" y="1604.0" font-size="23.5" text-anchor="end">-600</text>
<text x="558.0" y="1632.0" font-size="23.5" text-anchor="middle">-600</text>
<text x="638.5" y="1632.0" font-size="23.5" text-anchor="middle">-300</text>
<text x="719.7" y="1632.0" font-size="23.5" text-anchor="middle">0</text>
<text x="795.5" y="1632.0" font-size="23.5" text-anchor="middle">300</text>
<text x="871.2" y="1632.0" font-size="23.5" text-anchor="middle">600</text>
<line x1="885.3" y1="1297.5" x2="885.3" y2="1600.3" stroke="#333" stroke-width="1.6"/>
<line x1="885.3" y1="1600.3" x2="1187.7" y2="1600.3" stroke="#333" stroke-width="1.6"/>
<line x1="885.3" y1="1297.5" x2="889.3" y2="1297.5" stroke="#333" stroke-width="1.4"/>
<line x1="885.3" y1="1335.3" x2="889.3" y2="1335.3" stroke="#333" stroke-width="1.4"/>
<line x1="885.3" y1="1373.2" x2="889.3" y2="1373.2" stroke="#333" stroke-width="1.4"/>
<line x1="885.3" y1="1411.0" x2="889.3" y2="1411.0" stroke="#333" stroke-width="1.4"/>
<line x1="885.3" y1="1448.9" x2="889.3" y2="1448.9" stroke="#333" stroke-width="1.4"/>
<line x1="885.3" y1="1486.8" x2="889.3" y2="1486.8" stroke="#333" stroke-width="1.4"/>
<line x1="885.3" y1="1524.6" x2="889.3" y2="1524.6" stroke="#333" stroke-width="1.4"/>
<line x1="885.3" y1="1562.4" x2="889.3" y2="1562.4" stroke="#333" stroke-width="1.4"/>
<line x1="885.3" y1="1600.3" x2="889.3" y2="1600.3" stroke="#333" stroke-width="1.4"/>
<line x1="885.3" y1="1600.3" x2="885.3" y2="1596.3" stroke="#333" stroke-width="1.4"/>
<line x1="923.1" y1="1600.3" x2="923.1" y2="1596.3" stroke="#333" stroke-width="1.4"/>
<line x1="960.9" y1="1600.3" x2="960.9" y2="1596.3" stroke="#333" stroke-width="1.4"/>
<line x1="998.7" y1="1600.3" x2="998.7" y2="1596.3" stroke="#333" stroke-width="1.4"/>
<line x1="1036.5" y1="1600.3" x2="1036.5" y2="1596.3" stroke="#333" stroke-width="1.4"/>
<line x1="1074.3" y1="1600.3" x2="1074.3" y2="1596.3" stroke="#333" stroke-width="1.4"/>
<line x1="1112.1" y1="1600.3" x2="1112.1" y2="1596.3" stroke="#333" stroke-width="1.4"/>
<line x1="1149.9" y1="1600.3" x2="1149.9" y2="1596.3" stroke="#333" stroke-width="1.4"/>
<line x1="1187.7" y1="1600.3" x2="1187.7" y2="1596.3" stroke="#333" stroke-width="1.4"/>
<text x="1046.8" y="1302.7" font-size="27.3" text-anchor="middle">si PPP2R1A</text>
<text x="953.0" y="1632.0" font-size="23.5" text-anchor="middle">-300</text>
<text x="1036.3" y="1632.0" font-size="23.5" text-anchor="middle">0</text>
<text x="1111.5" y="1632.0" font-size="23.5" text-anchor="middle">300</text>
<text x="1190.0" y="1632.0" font-size="23.5" text-anchor="middle">600</text>
<line x1="566.9" y1="1721.4" x2="566.9" y2="2026.9" stroke="#333" stroke-width="1.6"/>
<line x1="566.9" y1="2026.9" x2="872.0" y2="2026.9" stroke="#333" stroke-width="1.6"/>
<line x1="566.9" y1="1721.4" x2="570.9" y2="1721.4" stroke="#333" stroke-width="1.4"/>
<line x1="566.9" y1="1759.6" x2="570.9" y2="1759.6" stroke="#333" stroke-width="1.4"/>
<line x1="566.9" y1="1797.8" x2="570.9" y2="1797.8" stroke="#333" stroke-width="1.4"/>
<line x1="566.9" y1="1836.0" x2="570.9" y2="1836.0" stroke="#333" stroke-width="1.4"/>
<line x1="566.9" y1="1874.2" x2="570.9" y2="1874.2" stroke="#333" stroke-width="1.4"/>
<line x1="566.9" y1="1912.3" x2="570.9" y2="1912.3" stroke="#333" stroke-width="1.4"/>
<line x1="566.9" y1="1950.5" x2="570.9" y2="1950.5" stroke="#333" stroke-width="1.4"/>
<line x1="566.9" y1="1988.7" x2="570.9" y2="1988.7" stroke="#333" stroke-width="1.4"/>
<line x1="566.9" y1="2026.9" x2="570.9" y2="2026.9" stroke="#333" stroke-width="1.4"/>
<line x1="566.9" y1="2026.9" x2="566.9" y2="2022.9" stroke="#333" stroke-width="1.4"/>
<line x1="605.0" y1="2026.9" x2="605.0" y2="2022.9" stroke="#333" stroke-width="1.4"/>
<line x1="643.2" y1="2026.9" x2="643.2" y2="2022.9" stroke="#333" stroke-width="1.4"/>
<line x1="681.3" y1="2026.9" x2="681.3" y2="2022.9" stroke="#333" stroke-width="1.4"/>
<line x1="719.5" y1="2026.9" x2="719.5" y2="2022.9" stroke="#333" stroke-width="1.4"/>
<line x1="757.6" y1="2026.9" x2="757.6" y2="2022.9" stroke="#333" stroke-width="1.4"/>
<line x1="795.7" y1="2026.9" x2="795.7" y2="2022.9" stroke="#333" stroke-width="1.4"/>
<line x1="833.9" y1="2026.9" x2="833.9" y2="2022.9" stroke="#333" stroke-width="1.4"/>
<line x1="872.0" y1="2026.9" x2="872.0" y2="2022.9" stroke="#333" stroke-width="1.4"/>
<text x="735.2" y="1725.4" font-size="27.3" text-anchor="middle">FLAG-GFP</text>
<text x="557.0" y="1728.2" font-size="23.5" text-anchor="end">600</text>
<text x="557.0" y="1803.3" font-size="23.5" text-anchor="end">300</text>
<text x="554.3" y="1878.4" font-size="23.5" text-anchor="end">0</text>
<text x="555.5" y="1957.1" font-size="23.5" text-anchor="end">-300</text>
<text x="558.9" y="2027.2" font-size="23.5" text-anchor="end">-600</text>
<text x="557.0" y="2057.0" font-size="23.5" text-anchor="middle">-600</text>
<text x="637.5" y="2057.0" font-size="23.5" text-anchor="middle">-300</text>
<text x="719.2" y="2057.0" font-size="23.5" text-anchor="middle">0</text>
<text x="795.6" y="2057.0" font-size="23.5" text-anchor="middle">300</text>
<text x="872.0" y="2057.0" font-size="23.5" text-anchor="middle">600</text>
<line x1="888.7" y1="1726.0" x2="888.7" y2="2026.2" stroke="#333" stroke-width="1.6"/>
<line x1="888.7" y1="2026.2" x2="1190.4" y2="2026.2" stroke="#333" stroke-width="1.6"/>
<line x1="888.7" y1="1726.0" x2="892.7" y2="1726.0" stroke="#333" stroke-width="1.4"/>
<line x1="888.7" y1="1763.5" x2="892.7" y2="1763.5" stroke="#333" stroke-width="1.4"/>
<line x1="888.7" y1="1801.0" x2="892.7" y2="1801.0" stroke="#333" stroke-width="1.4"/>
<line x1="888.7" y1="1838.6" x2="892.7" y2="1838.6" stroke="#333" stroke-width="1.4"/>
<line x1="888.7" y1="1876.1" x2="892.7" y2="1876.1" stroke="#333" stroke-width="1.4"/>
<line x1="888.7" y1="1913.6" x2="892.7" y2="1913.6" stroke="#333" stroke-width="1.4"/>
<line x1="888.7" y1="1951.2" x2="892.7" y2="1951.2" stroke="#333" stroke-width="1.4"/>
<line x1="888.7" y1="1988.7" x2="892.7" y2="1988.7" stroke="#333" stroke-width="1.4"/>
<line x1="888.7" y1="2026.2" x2="892.7" y2="2026.2" stroke="#333" stroke-width="1.4"/>
<line x1="888.7" y1="2026.2" x2="888.7" y2="2022.2" stroke="#333" stroke-width="1.4"/>
<line x1="926.4" y1="2026.2" x2="926.4" y2="2022.2" stroke="#333" stroke-width="1.4"/>
<line x1="964.1" y1="2026.2" x2="964.1" y2="2022.2" stroke="#333" stroke-width="1.4"/>
<line x1="1001.8" y1="2026.2" x2="1001.8" y2="2022.2" stroke="#333" stroke-width="1.4"/>
<line x1="1039.6" y1="2026.2" x2="1039.6" y2="2022.2" stroke="#333" stroke-width="1.4"/>
<line x1="1077.3" y1="2026.2" x2="1077.3" y2="2022.2" stroke="#333" stroke-width="1.4"/>
<line x1="1115.0" y1="2026.2" x2="1115.0" y2="2022.2" stroke="#333" stroke-width="1.4"/>
<line x1="1152.7" y1="2026.2" x2="1152.7" y2="2022.2" stroke="#333" stroke-width="1.4"/>
<line x1="1190.4" y1="2026.2" x2="1190.4" y2="2022.2" stroke="#333" stroke-width="1.4"/>
<text x="1043.5" y="1725.2" font-size="27.3" text-anchor="middle">FLAG-GFP PPP2R1A</text>
<text x="957.0" y="2057.0" font-size="23.5" text-anchor="middle">-300</text>
<text x="1039.7" y="2057.0" font-size="23.5" text-anchor="middle">0</text>
<text x="1115.0" y="2057.0" font-size="23.5" text-anchor="middle">300</text>
<text x="1193.0" y="2057.0" font-size="23.5" text-anchor="middle">600</text>
<line x1="564.7" y1="2147.6" x2="564.7" y2="2450.7" stroke="#333" stroke-width="1.6"/>
<line x1="564.7" y1="2450.7" x2="867.0" y2="2450.7" stroke="#333" stroke-width="1.6"/>
<line x1="564.7" y1="2147.6" x2="568.7" y2="2147.6" stroke="#333" stroke-width="1.4"/>
<line x1="564.7" y1="2185.5" x2="568.7" y2="2185.5" stroke="#333" stroke-width="1.4"/>
<line x1="564.7" y1="2223.4" x2="568.7" y2="2223.4" stroke="#333" stroke-width="1.4"/>
<line x1="564.7" y1="2261.3" x2="568.7" y2="2261.3" stroke="#333" stroke-width="1.4"/>
<line x1="564.7" y1="2299.1" x2="568.7" y2="2299.1" stroke="#333" stroke-width="1.4"/>
<line x1="564.7" y1="2337.0" x2="568.7" y2="2337.0" stroke="#333" stroke-width="1.4"/>
<line x1="564.7" y1="2374.9" x2="568.7" y2="2374.9" stroke="#333" stroke-width="1.4"/>
<line x1="564.7" y1="2412.8" x2="568.7" y2="2412.8" stroke="#333" stroke-width="1.4"/>
<line x1="564.7" y1="2450.7" x2="568.7" y2="2450.7" stroke="#333" stroke-width="1.4"/>
<line x1="564.7" y1="2450.7" x2="564.7" y2="2446.7" stroke="#333" stroke-width="1.4"/>
<line x1="602.5" y1="2450.7" x2="602.5" y2="2446.7" stroke="#333" stroke-width="1.4"/>
<line x1="640.3" y1="2450.7" x2="640.3" y2="2446.7" stroke="#333" stroke-width="1.4"/>
<line x1="678.1" y1="2450.7" x2="678.1" y2="2446.7" stroke="#333" stroke-width="1.4"/>
<line x1="715.9" y1="2450.7" x2="715.9" y2="2446.7" stroke="#333" stroke-width="1.4"/>
<line x1="753.6" y1="2450.7" x2="753.6" y2="2446.7" stroke="#333" stroke-width="1.4"/>
<line x1="791.4" y1="2450.7" x2="791.4" y2="2446.7" stroke="#333" stroke-width="1.4"/>
<line x1="829.2" y1="2450.7" x2="829.2" y2="2446.7" stroke="#333" stroke-width="1.4"/>
<line x1="867.0" y1="2450.7" x2="867.0" y2="2446.7" stroke="#333" stroke-width="1.4"/>
<text x="716.6" y="2150.9" font-size="27.3" text-anchor="middle">si CTRL</text>
<text x="558.5" y="2157.0" font-size="23.5" text-anchor="end">1000</text>
<text x="552.5" y="2231.6" font-size="23.5" text-anchor="end">500</text>
<text x="552.5" y="2305.7" font-size="23.5" text-anchor="end">0</text>
<text x="552.5" y="2380.0" font-size="23.5" text-anchor="end">-500</text>
<text x="559.2" y="2453.8" font-size="23.5" text-anchor="end">-1000</text>
<text x="555.0" y="2492.0" font-size="23.5" text-anchor="middle">-1000</text>
<text x="634.3" y="2492.0" font-size="23.5" text-anchor="middle">-500</text>
<text x="715.4" y="2492.0" font-size="23.5" text-anchor="middle">0</text>
<text x="792.7" y="2492.0" font-size="23.5" text-anchor="middle">500</text>
<text x="868.0" y="2492.0" font-size="23.5" text-anchor="middle">1000</text>
<line x1="881.5" y1="2147.6" x2="881.5" y2="2449.4" stroke="#333" stroke-width="1.6"/>
<line x1="881.5" y1="2449.4" x2="1184.3" y2="2449.4" stroke="#333" stroke-width="1.6"/>
<line x1="881.5" y1="2147.6" x2="885.5" y2="2147.6" stroke="#333" stroke-width="1.4"/>
<line x1="881.5" y1="2185.3" x2="885.5" y2="2185.3" stroke="#333" stroke-width="1.4"/>
<line x1="881.5" y1="2223.1" x2="885.5" y2="2223.1" stroke="#333" stroke-width="1.4"/>
<line x1="881.5" y1="2260.8" x2="885.5" y2="2260.8" stroke="#333" stroke-width="1.4"/>
<line x1="881.5" y1="2298.5" x2="885.5" y2="2298.5" stroke="#333" stroke-width="1.4"/>
<line x1="881.5" y1="2336.2" x2="885.5" y2="2336.2" stroke="#333" stroke-width="1.4"/>
<line x1="881.5" y1="2373.9" x2="885.5" y2="2373.9" stroke="#333" stroke-width="1.4"/>
<line x1="881.5" y1="2411.7" x2="885.5" y2="2411.7" stroke="#333" stroke-width="1.4"/>
<line x1="881.5" y1="2449.4" x2="885.5" y2="2449.4" stroke="#333" stroke-width="1.4"/>
<line x1="881.5" y1="2449.4" x2="881.5" y2="2445.4" stroke="#333" stroke-width="1.4"/>
<line x1="919.4" y1="2449.4" x2="919.4" y2="2445.4" stroke="#333" stroke-width="1.4"/>
<line x1="957.2" y1="2449.4" x2="957.2" y2="2445.4" stroke="#333" stroke-width="1.4"/>
<line x1="995.0" y1="2449.4" x2="995.0" y2="2445.4" stroke="#333" stroke-width="1.4"/>
<line x1="1032.9" y1="2449.4" x2="1032.9" y2="2445.4" stroke="#333" stroke-width="1.4"/>
<line x1="1070.8" y1="2449.4" x2="1070.8" y2="2445.4" stroke="#333" stroke-width="1.4"/>
<line x1="1108.6" y1="2449.4" x2="1108.6" y2="2445.4" stroke="#333" stroke-width="1.4"/>
<line x1="1146.4" y1="2449.4" x2="1146.4" y2="2445.4" stroke="#333" stroke-width="1.4"/>
<line x1="1184.3" y1="2449.4" x2="1184.3" y2="2445.4" stroke="#333" stroke-width="1.4"/>
<text x="1033.1" y="2150.9" font-size="27.3" text-anchor="middle">si PPP2R1A</text>
<text x="951.5" y="2492.0" font-size="23.5" text-anchor="middle">-500</text>
<text x="1032.9" y="2492.0" font-size="23.5" text-anchor="middle">0</text>
<text x="1108.6" y="2492.0" font-size="23.5" text-anchor="middle">500</text>
<text x="1184.3" y="2492.0" font-size="23.5" text-anchor="middle">1000</text>
<line x1="1314.1" y1="835.4" x2="1314.1" y2="1145.3" stroke="#333" stroke-width="1.6"/>
<line x1="1314.1" y1="1145.3" x2="1663.2" y2="1145.3" stroke="#333" stroke-width="1.6"/>
<line x1="1314.1" y1="1145.3" x2="1317.6" y2="1145.3" stroke="#333" stroke-width="1.4"/>
<text x="1304.0" y="1146.3" font-size="23.5" text-anchor="end">0</text>
<line x1="1314.1" y1="1083.3" x2="1317.6" y2="1083.3" stroke="#333" stroke-width="1.4"/>
<text x="1304.0" y="1091.6" font-size="23.5" text-anchor="end">0.2</text>
<line x1="1314.1" y1="1021.3" x2="1317.6" y2="1021.3" stroke="#333" stroke-width="1.4"/>
<text x="1304.0" y="1029.6" font-size="23.5" text-anchor="end">0.4</text>
<line x1="1314.1" y1="959.4" x2="1317.6" y2="959.4" stroke="#333" stroke-width="1.4"/>
<text x="1304.0" y="967.7" font-size="23.5" text-anchor="end">0.6</text>
<line x1="1314.1" y1="897.4" x2="1317.6" y2="897.4" stroke="#333" stroke-width="1.4"/>
<text x="1304.0" y="905.7" font-size="23.5" text-anchor="end">0.8</text>
<line x1="1314.1" y1="835.4" x2="1317.6" y2="835.4" stroke="#333" stroke-width="1.4"/>
<text x="1304.0" y="843.7" font-size="23.5" text-anchor="end">1.0</text>
<line x1="1314.1" y1="1145.3" x2="1314.1" y2="1140.8" stroke="#333" stroke-width="1.4"/>
<text x="1313.8" y="1171.0" font-size="23.5" text-anchor="middle">0</text>
<line x1="1383.9" y1="1145.3" x2="1383.9" y2="1140.8" stroke="#333" stroke-width="1.4"/>
<text x="1383.6" y="1171.0" font-size="23.5" text-anchor="middle">10</text>
<line x1="1453.7" y1="1145.3" x2="1453.7" y2="1140.8" stroke="#333" stroke-width="1.4"/>
<text x="1453.4" y="1171.0" font-size="23.5" text-anchor="middle">20</text>
<line x1="1523.6" y1="1145.3" x2="1523.6" y2="1140.8" stroke="#333" stroke-width="1.4"/>
<text x="1523.3" y="1171.0" font-size="23.5" text-anchor="middle">30</text>
<line x1="1593.4" y1="1145.3" x2="1593.4" y2="1140.8" stroke="#333" stroke-width="1.4"/>
<text x="1593.1" y="1171.0" font-size="23.5" text-anchor="middle">40</text>
<line x1="1663.2" y1="1145.3" x2="1663.2" y2="1140.8" stroke="#333" stroke-width="1.4"/>
<text x="1662.9" y="1171.0" font-size="23.5" text-anchor="middle">50</text>
<text x="1491.0" y="1198.8" font-size="23.7" text-anchor="middle">Time interval (min)</text>
<text x="0" y="0" font-size="25" text-anchor="middle" transform="translate(1243.6,1003.6) rotate(-90)">Migration persistence</text>
<text x="1510.2" y="853.5" font-size="27.3" text-anchor="middle">MCF10A</text>
<rect x="1345.8" y="903.9" width="6.4" height="8.0" fill="#000"/>
<rect x="1380.7" y="944.8" width="6.4" height="8.0" fill="#000"/>
<rect x="1415.6" y="967.4" width="6.4" height="8.0" fill="#000"/>
<rect x="1450.5" y="979.5" width="6.4" height="8.0" fill="#000"/>
<rect x="1485.5" y="994.7" width="6.4" height="8.0" fill="#000"/>
<rect x="1520.4" y="1005.6" width="6.4" height="8.0" fill="#000"/>
<rect x="1555.3" y="1018.9" width="6.4" height="8.0" fill="#000"/>
<rect x="1590.2" y="1031.6" width="6.4" height="8.0" fill="#000"/>
<rect x="1625.1" y="1044.3" width="6.4" height="8.0" fill="#000"/>
<polyline points="1314.1,835.4 1349.0,907.9 1383.9,948.8 1418.8,971.4 1453.7,983.5 1488.7,998.7 1523.6,1009.6 1558.5,1022.9 1593.4,1035.6 1628.3,1048.3" fill="none" stroke="#4f81bd" stroke-width="4.2" stroke-linejoin="round" stroke-linecap="round"/>
<circle cx="1314.1" cy="835.4" r="3.8" fill="#4f81bd"/>
<circle cx="1349.0" cy="907.9" r="3.8" fill="#4f81bd"/>
<circle cx="1383.9" cy="948.8" r="3.8" fill="#4f81bd"/>
<circle cx="1418.8" cy="971.4" r="3.8" fill="#4f81bd"/>
<circle cx="1453.7" cy="983.5" r="3.8" fill="#4f81bd"/>
<circle cx="1488.7" cy="998.7" r="3.8" fill="#4f81bd"/>
<circle cx="1523.6" cy="1009.6" r="3.8" fill="#4f81bd"/>
<circle cx="1558.5" cy="1022.9" r="3.8" fill="#4f81bd"/>
<circle cx="1593.4" cy="1035.6" r="3.8" fill="#4f81bd"/>
<circle cx="1628.3" cy="1048.3" r="3.8" fill="#4f81bd"/>
<rect x="1345.8" y="913.8" width="6.4" height="8.0" fill="#000"/>
<rect x="1380.7" y="973.0" width="6.4" height="8.0" fill="#000"/>
<rect x="1415.6" y="1007.4" width="6.4" height="8.0" fill="#000"/>
<rect x="1450.5" y="1028.2" width="6.4" height="8.0" fill="#000"/>
<rect x="1485.5" y="1048.3" width="6.4" height="8.0" fill="#000"/>
<rect x="1520.4" y="1064.8" width="6.4" height="8.0" fill="#000"/>
<rect x="1555.3" y="1076.2" width="6.4" height="8.0" fill="#000"/>
<rect x="1590.2" y="1084.3" width="6.4" height="8.0" fill="#000"/>
<rect x="1625.1" y="1090.8" width="6.4" height="8.0" fill="#000"/>
<polyline points="1314.1,835.4 1349.0,917.8 1383.9,977.0 1418.8,1011.4 1453.7,1032.2 1488.7,1052.3 1523.6,1068.8 1558.5,1080.2 1593.4,1088.3 1628.3,1094.8" fill="none" stroke="#c0504d" stroke-width="4.2" stroke-linejoin="round" stroke-linecap="round"/>
<circle cx="1314.1" cy="835.4" r="3.8" fill="#c0504d"/>
<circle cx="1349.0" cy="917.8" r="3.8" fill="#c0504d"/>
<circle cx="1383.9" cy="977.0" r="3.8" fill="#c0504d"/>
<circle cx="1418.8" cy="1011.4" r="3.8" fill="#c0504d"/>
<circle cx="1453.7" cy="1032.2" r="3.8" fill="#c0504d"/>
<circle cx="1488.7" cy="1052.3" r="3.8" fill="#c0504d"/>
<circle cx="1523.6" cy="1068.8" r="3.8" fill="#c0504d"/>
<circle cx="1558.5" cy="1080.2" r="3.8" fill="#c0504d"/>
<circle cx="1593.4" cy="1088.3" r="3.8" fill="#c0504d"/>
<circle cx="1628.3" cy="1094.8" r="3.8" fill="#c0504d"/>
<text x="1645.4" y="1053.1" font-size="27.3">si CTRL</text>
<text x="1645.4" y="1105.7" font-size="27.3">si PPP2R1A</text>
<text x="1739.4" y="1138.0" font-size="27" text-anchor="middle">****</text>
<text x="1692.6" y="1162" font-size="21.8" textLength="92" lengthAdjust="spacingAndGlyphs"><tspan font-style="italic">P</tspan> &lt;0.0001</text>
<line x1="1307.2" y1="1274.3" x2="1307.2" y2="1573.0" stroke="#333" stroke-width="1.6"/>
<line x1="1307.2" y1="1573.0" x2="1667.2" y2="1573.0" stroke="#333" stroke-width="1.6"/>
<line x1="1307.2" y1="1573.0" x2="1310.7" y2="1573.0" stroke="#333" stroke-width="1.4"/>
<text x="1297.0" y="1578.4" font-size="23.5" text-anchor="end">0</text>
<line x1="1307.2" y1="1513.3" x2="1310.7" y2="1513.3" stroke="#333" stroke-width="1.4"/>
<text x="1297.0" y="1521.6" font-size="23.5" text-anchor="end">0.2</text>
<line x1="1307.2" y1="1453.5" x2="1310.7" y2="1453.5" stroke="#333" stroke-width="1.4"/>
<text x="1297.0" y="1461.8" font-size="23.5" text-anchor="end">0.4</text>
<line x1="1307.2" y1="1393.8" x2="1310.7" y2="1393.8" stroke="#333" stroke-width="1.4"/>
<text x="1297.0" y="1402.1" font-size="23.5" text-anchor="end">0.6</text>
<line x1="1307.2" y1="1334.0" x2="1310.7" y2="1334.0" stroke="#333" stroke-width="1.4"/>
<text x="1297.0" y="1342.3" font-size="23.5" text-anchor="end">0.8</text>
<line x1="1307.2" y1="1274.3" x2="1310.7" y2="1274.3" stroke="#333" stroke-width="1.4"/>
<text x="1297.0" y="1282.6" font-size="23.5" text-anchor="end">1.0</text>
<line x1="1307.2" y1="1573.0" x2="1307.2" y2="1568.5" stroke="#333" stroke-width="1.4"/>
<text x="1306.9" y="1599.1" font-size="23.5" text-anchor="middle">0</text>
<line x1="1379.2" y1="1573.0" x2="1379.2" y2="1568.5" stroke="#333" stroke-width="1.4"/>
<text x="1378.9" y="1599.1" font-size="23.5" text-anchor="middle">10</text>
<line x1="1451.2" y1="1573.0" x2="1451.2" y2="1568.5" stroke="#333" stroke-width="1.4"/>
<text x="1450.9" y="1599.1" font-size="23.5" text-anchor="middle">20</text>
<line x1="1523.2" y1="1573.0" x2="1523.2" y2="1568.5" stroke="#333" stroke-width="1.4"/>
<text x="1522.9" y="1599.1" font-size="23.5" text-anchor="middle">30</text>
<line x1="1595.2" y1="1573.0" x2="1595.2" y2="1568.5" stroke="#333" stroke-width="1.4"/>
<text x="1594.9" y="1599.1" font-size="23.5" text-anchor="middle">40</text>
<line x1="1667.2" y1="1573.0" x2="1667.2" y2="1568.5" stroke="#333" stroke-width="1.4"/>
<text x="1666.9" y="1599.1" font-size="23.5" text-anchor="middle">50</text>
<text x="1491.0" y="1632.3" font-size="23.7" text-anchor="middle">Time interval (min)</text>
<text x="0" y="0" font-size="25" text-anchor="middle" transform="translate(1245.4,1435.0) rotate(-90)">Migration persistence</text>
<text x="1510.8" y="1288.1" font-size="27.3" text-anchor="middle">MCF10A</text>
<text x="1510.3" y="1320.8" font-size="27.3" text-anchor="middle">RAC1 Q61L</text>
<rect x="1340.0" y="1312.6" width="6.4" height="10.0" fill="#000"/>
<rect x="1376.0" y="1332.9" width="6.4" height="10.0" fill="#000"/>
<rect x="1412.0" y="1344.9" width="6.4" height="10.0" fill="#000"/>
<rect x="1448.0" y="1362.8" width="6.4" height="10.0" fill="#000"/>
<rect x="1484.0" y="1373.5" width="6.4" height="10.0" fill="#000"/>
<rect x="1520.0" y="1383.7" width="6.4" height="10.0" fill="#000"/>
<rect x="1556.0" y="1392.7" width="6.4" height="10.0" fill="#000"/>
<rect x="1592.0" y="1399.2" width="6.4" height="10.0" fill="#000"/>
<rect x="1628.0" y="1405.5" width="6.4" height="10.0" fill="#000"/>
<polyline points="1307.2,1274.3 1343.2,1317.6 1379.2,1337.9 1415.2,1349.9 1451.2,1367.8 1487.2,1378.5 1523.2,1388.7 1559.2,1397.7 1595.2,1404.2 1631.2,1410.5" fill="none" stroke="#4f81bd" stroke-width="4.2" stroke-linejoin="round" stroke-linecap="round"/>
<circle cx="1307.2" cy="1274.3" r="3.8" fill="#4f81bd"/>
<circle cx="1343.2" cy="1317.6" r="3.8" fill="#4f81bd"/>
<circle cx="1379.2" cy="1337.9" r="3.8" fill="#4f81bd"/>
<circle cx="1415.2" cy="1349.9" r="3.8" fill="#4f81bd"/>
<circle cx="1451.2" cy="1367.8" r="3.8" fill="#4f81bd"/>
<circle cx="1487.2" cy="1378.5" r="3.8" fill="#4f81bd"/>
<circle cx="1523.2" cy="1388.7" r="3.8" fill="#4f81bd"/>
<circle cx="1559.2" cy="1397.7" r="3.8" fill="#4f81bd"/>
<circle cx="1595.2" cy="1404.2" r="3.8" fill="#4f81bd"/>
<circle cx="1631.2" cy="1410.5" r="3.8" fill="#4f81bd"/>
<rect x="1340.0" y="1324.9" width="6.4" height="10.0" fill="#000"/>
<rect x="1376.0" y="1349.7" width="6.4" height="10.0" fill="#000"/>
<rect x="1412.0" y="1364.9" width="6.4" height="10.0" fill="#000"/>
<rect x="1448.0" y="1380.1" width="6.4" height="10.0" fill="#000"/>
<rect x="1484.0" y="1392.1" width="6.4" height="10.0" fill="#000"/>
<rect x="1520.0" y="1401.9" width="6.4" height="10.0" fill="#000"/>
<rect x="1556.0" y="1409.4" width="6.4" height="10.0" fill="#000"/>
<rect x="1592.0" y="1413.9" width="6.4" height="10.0" fill="#000"/>
<rect x="1628.0" y="1419.2" width="6.4" height="10.0" fill="#000"/>
<polyline points="1307.2,1274.3 1343.2,1329.9 1379.2,1354.7 1415.2,1369.9 1451.2,1385.1 1487.2,1397.1 1523.2,1406.9 1559.2,1414.4 1595.2,1418.9 1631.2,1424.2" fill="none" stroke="#c0504d" stroke-width="4.2" stroke-linejoin="round" stroke-linecap="round"/>
<circle cx="1307.2" cy="1274.3" r="3.8" fill="#c0504d"/>
<circle cx="1343.2" cy="1329.9" r="3.8" fill="#c0504d"/>
<circle cx="1379.2" cy="1354.7" r="3.8" fill="#c0504d"/>
<circle cx="1415.2" cy="1369.9" r="3.8" fill="#c0504d"/>
<circle cx="1451.2" cy="1385.1" r="3.8" fill="#c0504d"/>
<circle cx="1487.2" cy="1397.1" r="3.8" fill="#c0504d"/>
<circle cx="1523.2" cy="1406.9" r="3.8" fill="#c0504d"/>
<circle cx="1559.2" cy="1414.4" r="3.8" fill="#c0504d"/>
<circle cx="1595.2" cy="1418.9" r="3.8" fill="#c0504d"/>
<circle cx="1631.2" cy="1424.2" r="3.8" fill="#c0504d"/>
<text x="1654.5" y="1408.9" font-size="27.3">si CTRL</text>
<text x="1654.5" y="1444.9" font-size="27.3">si PPP2R1A</text>
<text x="1724.4" y="1480.4" font-size="27.3" text-anchor="middle">n.s.</text>
<text x="1686.1" y="1501.1" font-size="21.8" textLength="77" lengthAdjust="spacingAndGlyphs"><tspan font-style="italic">P</tspan> = 0.15</text>
<line x1="1304.3" y1="1686.5" x2="1304.3" y2="1996.4" stroke="#333" stroke-width="1.6"/>
<line x1="1304.3" y1="1996.4" x2="1656.3" y2="1996.4" stroke="#333" stroke-width="1.6"/>
<line x1="1304.3" y1="1996.4" x2="1307.8" y2="1996.4" stroke="#333" stroke-width="1.4"/>
<text x="1294.0" y="2002.9" font-size="23.5" text-anchor="end">0</text>
<line x1="1304.3" y1="1934.4" x2="1307.8" y2="1934.4" stroke="#333" stroke-width="1.4"/>
<text x="1294.0" y="1942.7" font-size="23.5" text-anchor="end">0.2</text>
<line x1="1304.3" y1="1872.4" x2="1307.8" y2="1872.4" stroke="#333" stroke-width="1.4"/>
<text x="1294.0" y="1880.7" font-size="23.5" text-anchor="end">0.4</text>
<line x1="1304.3" y1="1810.5" x2="1307.8" y2="1810.5" stroke="#333" stroke-width="1.4"/>
<text x="1294.0" y="1818.8" font-size="23.5" text-anchor="end">0.6</text>
<line x1="1304.3" y1="1748.5" x2="1307.8" y2="1748.5" stroke="#333" stroke-width="1.4"/>
<text x="1294.0" y="1756.8" font-size="23.5" text-anchor="end">0.8</text>
<line x1="1304.3" y1="1686.5" x2="1307.8" y2="1686.5" stroke="#333" stroke-width="1.4"/>
<text x="1294.0" y="1694.8" font-size="23.5" text-anchor="end">1.0</text>
<line x1="1304.3" y1="1996.4" x2="1304.3" y2="1991.9" stroke="#333" stroke-width="1.4"/>
<text x="1304.0" y="2024.0" font-size="23.5" text-anchor="middle">0</text>
<line x1="1374.7" y1="1996.4" x2="1374.7" y2="1991.9" stroke="#333" stroke-width="1.4"/>
<text x="1374.4" y="2024.0" font-size="23.5" text-anchor="middle">10</text>
<line x1="1445.1" y1="1996.4" x2="1445.1" y2="1991.9" stroke="#333" stroke-width="1.4"/>
<text x="1444.8" y="2024.0" font-size="23.5" text-anchor="middle">20</text>
<line x1="1515.5" y1="1996.4" x2="1515.5" y2="1991.9" stroke="#333" stroke-width="1.4"/>
<text x="1515.2" y="2024.0" font-size="23.5" text-anchor="middle">30</text>
<line x1="1585.9" y1="1996.4" x2="1585.9" y2="1991.9" stroke="#333" stroke-width="1.4"/>
<text x="1585.6" y="2024.0" font-size="23.5" text-anchor="middle">40</text>
<line x1="1656.3" y1="1996.4" x2="1656.3" y2="1991.9" stroke="#333" stroke-width="1.4"/>
<text x="1656.0" y="2024.0" font-size="23.5" text-anchor="middle">50</text>
<text x="1491.0" y="2056.8" font-size="23.7" text-anchor="middle">Time interval (min)</text>
<text x="0" y="0" font-size="25" text-anchor="middle" transform="translate(1247.3,1852.4) rotate(-90)">Migration persistence</text>
<text x="1509.9" y="1716.2" font-size="27.3" text-anchor="middle">MCF10A</text>
<rect x="1336.3" y="1799.3" width="6.4" height="8.0" fill="#000"/>
<rect x="1371.5" y="1857.3" width="6.4" height="8.0" fill="#000"/>
<rect x="1406.7" y="1888.3" width="6.4" height="8.0" fill="#000"/>
<rect x="1441.9" y="1906.6" width="6.4" height="8.0" fill="#000"/>
<rect x="1477.1" y="1919.3" width="6.4" height="8.0" fill="#000"/>
<rect x="1512.3" y="1929.2" width="6.4" height="8.0" fill="#000"/>
<rect x="1547.5" y="1941.9" width="6.4" height="8.0" fill="#000"/>
<rect x="1582.7" y="1947.5" width="6.4" height="8.0" fill="#000"/>
<rect x="1617.9" y="1950.6" width="6.4" height="8.0" fill="#000"/>
<polyline points="1304.3,1686.5 1339.5,1803.3 1374.7,1861.3 1409.9,1892.3 1445.1,1910.6 1480.3,1923.3 1515.5,1933.2 1550.7,1945.9 1585.9,1951.5 1621.1,1954.6" fill="none" stroke="#5b9bd5" stroke-width="4.2" stroke-linejoin="round" stroke-linecap="round"/>
<circle cx="1304.3" cy="1686.5" r="3.8" fill="#5b9bd5"/>
<circle cx="1339.5" cy="1803.3" r="3.8" fill="#5b9bd5"/>
<circle cx="1374.7" cy="1861.3" r="3.8" fill="#5b9bd5"/>
<circle cx="1409.9" cy="1892.3" r="3.8" fill="#5b9bd5"/>
<circle cx="1445.1" cy="1910.6" r="3.8" fill="#5b9bd5"/>
<circle cx="1480.3" cy="1923.3" r="3.8" fill="#5b9bd5"/>
<circle cx="1515.5" cy="1933.2" r="3.8" fill="#5b9bd5"/>
<circle cx="1550.7" cy="1945.9" r="3.8" fill="#5b9bd5"/>
<circle cx="1585.9" cy="1951.5" r="3.8" fill="#5b9bd5"/>
<circle cx="1621.1" cy="1954.6" r="3.8" fill="#5b9bd5"/>
<rect x="1336.3" y="1779.5" width="6.4" height="8.0" fill="#000"/>
<rect x="1371.5" y="1835.3" width="6.4" height="8.0" fill="#000"/>
<rect x="1406.7" y="1864.1" width="6.4" height="8.0" fill="#000"/>
<rect x="1441.9" y="1880.2" width="6.4" height="8.0" fill="#000"/>
<rect x="1477.1" y="1887.3" width="6.4" height="8.0" fill="#000"/>
<rect x="1512.3" y="1890.4" width="6.4" height="8.0" fill="#000"/>
<rect x="1547.5" y="1892.9" width="6.4" height="8.0" fill="#000"/>
<rect x="1582.7" y="1894.2" width="6.4" height="8.0" fill="#000"/>
<rect x="1617.9" y="1900.4" width="6.4" height="8.0" fill="#000"/>
<polyline points="1304.3,1686.5 1339.5,1783.5 1374.7,1839.3 1409.9,1868.1 1445.1,1884.2 1480.3,1891.3 1515.5,1894.4 1550.7,1896.9 1585.9,1898.2 1621.1,1904.4" fill="none" stroke="#c0504d" stroke-width="4.2" stroke-linejoin="round" stroke-linecap="round"/>
<circle cx="1304.3" cy="1686.5" r="3.8" fill="#c0504d"/>
<circle cx="1339.5" cy="1783.5" r="3.8" fill="#c0504d"/>
<circle cx="1374.7" cy="1839.3" r="3.8" fill="#c0504d"/>
<circle cx="1409.9" cy="1868.1" r="3.8" fill="#c0504d"/>
<circle cx="1445.1" cy="1884.2" r="3.8" fill="#c0504d"/>
<circle cx="1480.3" cy="1891.3" r="3.8" fill="#c0504d"/>
<circle cx="1515.5" cy="1894.4" r="3.8" fill="#c0504d"/>
<circle cx="1550.7" cy="1896.9" r="3.8" fill="#c0504d"/>
<circle cx="1585.9" cy="1898.2" r="3.8" fill="#c0504d"/>
<circle cx="1621.1" cy="1904.4" r="3.8" fill="#c0504d"/>
<text x="1706.3" y="1840.0" font-size="24.5" text-anchor="middle">**</text>
<text x="1656.3" y="1854" font-size="21.8" textLength="99.5" lengthAdjust="spacingAndGlyphs"><tspan font-style="italic">P</tspan> = 0.0062</text>
<text x="1636.4" y="1894.0" font-size="26.2">FLAG-GFP</text>
<text x="1636.4" y="1927.8" font-size="26.2">PPP2R1A</text>
<text x="1636.4" y="1971.3" font-size="26.2">FLAG-GFP</text>
<line x1="1309.1" y1="2136.4" x2="1309.1" y2="2431.1" stroke="#333" stroke-width="1.6"/>
<line x1="1309.1" y1="2431.1" x2="1659.9" y2="2431.1" stroke="#333" stroke-width="1.6"/>
<line x1="1309.1" y1="2431.1" x2="1312.6" y2="2431.1" stroke="#333" stroke-width="1.4"/>
<text x="1299.0" y="2438.1" font-size="23.5" text-anchor="end">0</text>
<line x1="1309.1" y1="2372.2" x2="1312.6" y2="2372.2" stroke="#333" stroke-width="1.4"/>
<text x="1299.0" y="2380.5" font-size="23.5" text-anchor="end">0.2</text>
<line x1="1309.1" y1="2313.2" x2="1312.6" y2="2313.2" stroke="#333" stroke-width="1.4"/>
<text x="1299.0" y="2321.5" font-size="23.5" text-anchor="end">0.4</text>
<line x1="1309.1" y1="2254.3" x2="1312.6" y2="2254.3" stroke="#333" stroke-width="1.4"/>
<text x="1299.0" y="2262.6" font-size="23.5" text-anchor="end">0.6</text>
<line x1="1309.1" y1="2195.3" x2="1312.6" y2="2195.3" stroke="#333" stroke-width="1.4"/>
<text x="1299.0" y="2203.6" font-size="23.5" text-anchor="end">0.8</text>
<line x1="1309.1" y1="2136.4" x2="1312.6" y2="2136.4" stroke="#333" stroke-width="1.4"/>
<text x="1299.0" y="2144.7" font-size="23.5" text-anchor="end">1.0</text>
<line x1="1309.1" y1="2431.1" x2="1309.1" y2="2426.6" stroke="#333" stroke-width="1.4"/>
<text x="1308.8" y="2459.4" font-size="23.5" text-anchor="middle">0</text>
<line x1="1379.3" y1="2431.1" x2="1379.3" y2="2426.6" stroke="#333" stroke-width="1.4"/>
<text x="1379.0" y="2459.4" font-size="23.5" text-anchor="middle">20</text>
<line x1="1449.4" y1="2431.1" x2="1449.4" y2="2426.6" stroke="#333" stroke-width="1.4"/>
<text x="1449.1" y="2459.4" font-size="23.5" text-anchor="middle">40</text>
<line x1="1519.6" y1="2431.1" x2="1519.6" y2="2426.6" stroke="#333" stroke-width="1.4"/>
<text x="1519.3" y="2459.4" font-size="23.5" text-anchor="middle">60</text>
<line x1="1589.7" y1="2431.1" x2="1589.7" y2="2426.6" stroke="#333" stroke-width="1.4"/>
<text x="1589.4" y="2459.4" font-size="23.5" text-anchor="middle">80</text>
<line x1="1659.9" y1="2431.1" x2="1659.9" y2="2426.6" stroke="#333" stroke-width="1.4"/>
<text x="1659.6" y="2459.4" font-size="23.5" text-anchor="middle">100</text>
<text x="1491.0" y="2490.3" font-size="23.7" text-anchor="middle">Time interval (min)</text>
<text x="0" y="0" font-size="25" text-anchor="middle" transform="translate(1249.8,2295.0) rotate(-90)">Migration persistence</text>
<text x="1509.0" y="2162.6" font-size="27.3" text-anchor="middle">MDA-MB-231</text>
<text x="1509.8" y="2195.2" font-size="27.3" text-anchor="middle">(3D)</text>
<rect x="1341.0" y="2217.0" width="6.4" height="11.0" fill="#000"/>
<rect x="1376.1" y="2273.2" width="6.4" height="11.0" fill="#000"/>
<rect x="1411.1" y="2301.5" width="6.4" height="11.0" fill="#000"/>
<rect x="1446.2" y="2318.6" width="6.4" height="11.0" fill="#000"/>
<rect x="1481.3" y="2328.6" width="6.4" height="11.0" fill="#000"/>
<rect x="1516.4" y="2337.8" width="6.4" height="11.0" fill="#000"/>
<rect x="1551.5" y="2346.3" width="6.4" height="11.0" fill="#000"/>
<rect x="1586.5" y="2350.2" width="6.4" height="11.0" fill="#000"/>
<rect x="1621.6" y="2358.7" width="6.4" height="11.0" fill="#000"/>
<polyline points="1309.1,2136.4 1344.2,2222.5 1379.3,2278.7 1414.3,2307.0 1449.4,2324.1 1484.5,2334.1 1519.6,2343.3 1554.7,2351.8 1589.7,2355.7 1624.8,2364.2" fill="none" stroke="#4f81bd" stroke-width="4.2" stroke-linejoin="round" stroke-linecap="round"/>
<circle cx="1309.1" cy="2136.4" r="3.8" fill="#4f81bd"/>
<circle cx="1344.2" cy="2222.5" r="3.8" fill="#4f81bd"/>
<circle cx="1379.3" cy="2278.7" r="3.8" fill="#4f81bd"/>
<circle cx="1414.3" cy="2307.0" r="3.8" fill="#4f81bd"/>
<circle cx="1449.4" cy="2324.1" r="3.8" fill="#4f81bd"/>
<circle cx="1484.5" cy="2334.1" r="3.8" fill="#4f81bd"/>
<circle cx="1519.6" cy="2343.3" r="3.8" fill="#4f81bd"/>
<circle cx="1554.7" cy="2351.8" r="3.8" fill="#4f81bd"/>
<circle cx="1589.7" cy="2355.7" r="3.8" fill="#4f81bd"/>
<circle cx="1624.8" cy="2364.2" r="3.8" fill="#4f81bd"/>
<rect x="1341.0" y="2270.3" width="6.4" height="8.0" fill="#000"/>
<rect x="1376.1" y="2349.0" width="6.4" height="8.0" fill="#000"/>
<rect x="1411.1" y="2387.9" width="6.4" height="8.0" fill="#000"/>
<rect x="1446.2" y="2404.1" width="6.4" height="8.0" fill="#000"/>
<rect x="1481.3" y="2410.9" width="6.4" height="8.0" fill="#000"/>
<rect x="1516.4" y="2415.0" width="6.4" height="8.0" fill="#000"/>
<rect x="1551.5" y="2412.7" width="6.4" height="8.0" fill="#000"/>
<rect x="1586.5" y="2411.5" width="6.4" height="8.0" fill="#000"/>
<rect x="1621.6" y="2411.5" width="6.4" height="8.0" fill="#000"/>
<polyline points="1309.1,2136.4 1344.2,2274.3 1379.3,2353.0 1414.3,2391.9 1449.4,2408.1 1484.5,2414.9 1519.6,2419.0 1554.7,2416.7 1589.7,2415.5 1624.8,2415.5" fill="none" stroke="#c0504d" stroke-width="4.2" stroke-linejoin="round" stroke-linecap="round"/>
<circle cx="1309.1" cy="2136.4" r="3.8" fill="#c0504d"/>
<circle cx="1344.2" cy="2274.3" r="3.8" fill="#c0504d"/>
<circle cx="1379.3" cy="2353.0" r="3.8" fill="#c0504d"/>
<circle cx="1414.3" cy="2391.9" r="3.8" fill="#c0504d"/>
<circle cx="1449.4" cy="2408.1" r="3.8" fill="#c0504d"/>
<circle cx="1484.5" cy="2414.9" r="3.8" fill="#c0504d"/>
<circle cx="1519.6" cy="2419.0" r="3.8" fill="#c0504d"/>
<circle cx="1554.7" cy="2416.7" r="3.8" fill="#c0504d"/>
<circle cx="1589.7" cy="2415.5" r="3.8" fill="#c0504d"/>
<circle cx="1624.8" cy="2415.5" r="3.8" fill="#c0504d"/>
<text x="1636.4" y="2371.2" font-size="27.3">si CTRL</text>
<text x="1636.4" y="2423.1" font-size="27.3">si PPP2R1A</text>
<text x="1733.8" y="2454.5" font-size="27" text-anchor="middle">****</text>
<text x="1686.4" y="2475.4" font-size="21.8" textLength="93" lengthAdjust="spacingAndGlyphs"><tspan font-style="italic">P</tspan> &lt;0.0001</text>
<polyline points="701.4,910.7 703.6,906.5 707.8,904.5 710.0,901.3 711.7,896.7 712.9,893.5 714.2,889.9 715.0,888.0 714.9,884.0 716.3,880.9 720.5,878.2 724.2,873.9 728.9,873.7 730.8,874.4 734.1,876.4 737.5,876.3 741.9,876.3 746.1,878.8 747.4,882.4 750.6,886.2 751.8,891.9 755.1,896.3 755.6,900.6 754.8,904.1 754.6,907.6 754.3,909.8 752.3,914.4 746.5,917.8 743.0,917.4 739.8,917.7 737.9,918.8 735.0,919.6 732.3,922.5 729.6,924.7 727.6,927.9 724.6,929.9 721.5,933.6 723.6,939.0 722.7,940.9 720.8,944.6 717.7,947.9 718.9,951.0 719.6,955.7 722.2,959.8 726.9,963.2 730.1,965.0 733.2,968.1 737.3,970.5 740.1,973.5 740.9,977.3 742.5,979.2 740.0,984.2 735.2,987.0 733.9,989.1 731.2,991.8 732.4,995.1 733.9,998.4 730.8,1003.1 729.2,1004.7 727.7,1008.3 724.0,1012.0 719.7,1013.9" fill="none" stroke="#b3a2c7" stroke-width="3.8" stroke-linejoin="round" stroke-linecap="round"/>
<polyline points="612.2,954.7 616.9,956.4 618.9,961.6 620.7,963.8 622.7,967.0 627.8,968.0 630.4,968.5 633.6,969.1 635.9,967.2 639.3,963.3 643.6,960.5 643.8,956.2 644.5,953.6 646.4,947.9 650.7,947.3 653.5,945.8 656.7,943.8 660.3,947.5 666.6,947.4 668.2,950.3 669.7,954.8 670.5,957.4 669.9,960.0 666.7,965.5 663.6,969.2 665.7,970.1 668.9,973.2 671.4,975.3 673.8,977.7 674.1,980.4 675.5,982.6 675.3,986.1 676.0,989.8 681.4,993.1 685.0,995.8 688.7,996.6 691.2,997.0 694.8,997.6 699.8,998.7 704.4,998.0 705.3,994.9 705.6,991.0 708.2,988.3 709.1,985.0 709.4,982.6 712.1,981.4 718.0,983.2 719.6,985.9 722.5,986.5 720.4,990.2 720.4,994.9 717.9,998.0 718.1,1000.8 714.8,1005.4" fill="none" stroke="#c0504d" stroke-width="3.8" stroke-linejoin="round" stroke-linecap="round"/>
<polyline points="683.1,951.0 678.0,949.3 674.5,947.5 672.8,947.6 669.1,948.0 665.9,947.9 664.1,948.7 660.7,950.7 660.1,954.5 659.5,957.6 660.5,961.5 662.1,963.8 666.1,968.2 668.9,968.2 672.1,967.6 675.2,968.0 678.1,969.5 679.2,973.5 681.3,976.0 684.7,981.0 687.1,982.8 690.5,985.1 693.4,986.5 697.3,987.9 700.6,991.4 702.7,994.8 707.0,996.7 707.1,999.9 707.5,1003.3 705.0,1007.9 700.1,1011.0 698.1,1015.8 699.7,1019.7 703.9,1022.0 707.4,1020.7 709.4,1021.2 706.2,1021.8 703.2,1023.4 701.2,1024.7 697.2,1025.3 694.3,1026.2 691.0,1029.3 685.1,1031.8 684.1,1034.1 683.9,1037.7 680.7,1040.1 679.4,1043.0 676.5,1047.9 677.9,1050.4 678.3,1054.2 672.5,1055.2 671.1,1057.9 675.1,1059.9 679.9,1059.3 682.4,1057.5 686.0,1059.6 690.0,1059.8 694.0,1062.9 698.3,1063.6 701.5,1065.9 706.4,1066.8 709.3,1066.4 713.9,1067.6 717.2,1068.4 722.4,1068.2 725.2,1068.9 728.8,1069.5 733.7,1069.3 738.1,1070.8 740.7,1068.9 744.2,1068.5 746.0,1065.3 748.3,1062.3 750.6,1059.4 753.1,1056.4 749.1,1052.5 744.5,1051.0 740.1,1049.8 737.2,1048.8 732.7,1046.9 730.8,1044.5 727.6,1043.2 724.6,1041.4 722.0,1038.4 720.0,1034.3 717.3,1028.6" fill="none" stroke="#dba2a2" stroke-width="3.8" stroke-linejoin="round" stroke-linecap="round"/>
<polyline points="688.0,961.4 690.8,965.6 693.2,961.6 696.4,958.7 698.2,962.0 697.7,966.7 697.3,969.4 695.2,973.6 694.7,976.3 690.1,979.3 685.2,982.1 682.5,985.8 682.1,989.6 682.6,992.0 682.7,997.6 687.7,999.0 689.6,1000.9 692.8,1002.9 696.0,1006.6 698.2,1011.1 697.7,1014.4 697.0,1016.8 695.0,1022.1 697.9,1024.4 700.6,1026.4 704.2,1026.8 707.3,1025.9 712.6,1024.4 716.4,1023.9 717.8,1021.8 721.6,1019.0 723.8,1014.4 721.0,1010.9 719.7,1007.8" fill="none" stroke="#9db4da" stroke-width="3.8" stroke-linejoin="round" stroke-linecap="round"/>
<polyline points="689.2,1027.4 687.4,1024.9 686.0,1021.8 680.8,1019.5 678.5,1014.2 675.3,1008.3 673.3,1006.4 671.5,1004.7 668.5,1000.7 671.1,995.9 674.5,992.4 678.7,989.9 679.4,994.4 682.1,995.5 684.7,997.7 684.8,1002.6 687.1,1005.5 688.3,1009.8 690.4,1011.3 692.8,1014.2 696.5,1016.4" fill="none" stroke="#e9803a" stroke-width="3.8" stroke-linejoin="round" stroke-linecap="round"/>
<polyline points="669.6,1012.7 673.1,1012.3 676.0,1010.8 680.1,1008.7 685.9,1010.0 689.3,1010.1 692.1,1011.1 696.8,1011.2 700.5,1009.9 703.9,1010.8 707.5,1010.9 712.4,1012.7" fill="none" stroke="#8fb74e" stroke-width="3.8" stroke-linejoin="round" stroke-linecap="round"/>
<polyline points="727.1,1022.5 731.4,1022.6 735.2,1024.4 738.1,1023.7" fill="none" stroke="#8fb74e" stroke-width="3.8" stroke-linejoin="round" stroke-linecap="round"/>
<polyline points="717.3,1013.9 715.3,1010.2 715.4,1007.4 716.0,1001.4 718.0,997.5 716.8,992.1 714.3,988.3 714.3,984.6 712.9,982.2 713.0,978.8 712.0,975.5 713.6,970.4 717.7,968.7 723.3,967.2 727.7,967.3 731.7,970.5 736.0,971.6 738.6,975.5 737.5,980.1 733.8,981.8 729.3,984.4 726.6,988.4 729.3,989.4 734.0,988.8 737.4,993.7 738.3,996.9 738.9,998.9 738.1,1001.8 736.6,1006.1 732.6,1008.3 727.3,1007.3 722.9,1007.9 718.9,1008.3 716.1,1012.7" fill="none" stroke="#f6a46e" stroke-width="3.8" stroke-linejoin="round" stroke-linecap="round"/>
<polyline points="754.6,929.0 754.6,932.3 754.3,936.0 753.3,938.7 754.0,942.5 753.0,945.9 752.4,949.6 752.9,952.5 751.7,956.2 750.4,959.4 748.5,962.1 746.1,968.2 746.0,970.1 746.0,974.4 744.7,976.1 743.7,979.1 741.5,984.0 738.9,989.1 736.9,995.0 733.6,997.9 729.4,1000.5 731.8,1002.7 734.9,1005.0 737.6,1007.2 731.9,1010.3" fill="none" stroke="#3fa9c8" stroke-width="3.8" stroke-linejoin="round" stroke-linecap="round"/>
<polyline points="773.5,977.3 772.3,973.8 771.6,969.5 769.5,966.5 768.4,963.8 767.5,961.4 765.5,957.0 759.3,955.0 757.6,954.0 754.1,952.7 750.1,954.5 747.1,954.6 743.7,954.9 738.7,956.0 736.3,958.3 733.9,959.9 729.7,964.3 727.6,966.4 725.1,969.2 721.7,973.1 718.7,974.5 716.7,979.3 718.7,984.9 718.2,987.6 719.2,992.1 718.6,995.2 718.7,998.5 717.6,1002.3 718.0,1005.6 718.2,1009.0 717.5,1012.3 719.6,1016.1 719.4,1018.1 721.0,1024.0 718.4,1025.8 716.3,1029.3 715.3,1031.5 715.2,1035.8 716.1,1039.1 716.5,1043.6 717.3,1046.5 719.3,1050.3 720.9,1053.8 721.7,1058.3 724.3,1061.1 727.1,1062.3 727.8,1067.6 727.3,1073.3 731.4,1074.9 736.8,1072.6" fill="none" stroke="#c3d69b" stroke-width="3.8" stroke-linejoin="round" stroke-linecap="round"/>
<polyline points="722.2,1021.3 724.2,1024.5 726.5,1025.4 731.2,1028.4 737.5,1031.7 740.9,1035.5 743.6,1039.3 746.1,1041.5 750.7,1041.3 753.6,1043.1 756.2,1044.2 758.9,1045.5 762.1,1047.9 765.7,1049.4 768.1,1051.3 770.2,1052.3 774.0,1051.7 776.4,1051.2 780.6,1051.3 784.0,1046.7 786.3,1042.5 790.4,1043.8 795.9,1043.7 799.3,1046.2 803.5,1050.2 803.7,1054.3 803.5,1056.3 804.0,1059.9 802.4,1063.2 800.4,1067.7" fill="none" stroke="#c3d69b" stroke-width="3.8" stroke-linejoin="round" stroke-linecap="round"/>
<polyline points="741.7,1016.4 742.0,1019.7 742.2,1024.1 743.6,1027.6 743.7,1030.3 743.1,1034.1 744.9,1037.9 744.0,1040.4 744.1,1044.5 747.9,1045.8 750.8,1048.5 754.5,1050.4 757.8,1051.5 757.3,1054.6 758.1,1057.2 755.9,1061.4 754.8,1063.3 753.2,1069.0 756.1,1073.4 752.1,1075.8 746.2,1071.9 742.9,1072.0 740.8,1071.3 735.8,1070.6 732.1,1070.4 729.1,1070.7 725.7,1069.5 722.7,1069.8 718.0,1069.3 714.0,1068.4 709.6,1067.9 705.7,1068.3 701.5,1065.0 700.6,1063.0 700.2,1058.7 699.5,1056.3 698.5,1052.4 696.5,1050.5 695.8,1047.6 693.9,1043.5 693.5,1040.3 693.6,1036.1 698.4,1034.5 702.6,1033.5" fill="none" stroke="#3f73be" stroke-width="3.8" stroke-linejoin="round" stroke-linecap="round"/>
<polyline points="727.1,1017.6 730.7,1016.9 732.8,1016.8 736.9,1015.1 739.4,1015.4 741.7,1017.6" fill="none" stroke="#3f73be" stroke-width="3.8" stroke-linejoin="round" stroke-linecap="round"/>
<polyline points="761.3,1016.4 759.0,1019.2 757.0,1022.0 755.4,1025.4 754.2,1027.5 748.3,1025.9 746.3,1025.7 742.6,1025.7 740.4,1026.8 736.1,1026.7 731.9,1026.2" fill="none" stroke="#9db4da" stroke-width="3.8" stroke-linejoin="round" stroke-linecap="round"/>
<polyline points="703.8,1031.0 703.1,1034.2 702.8,1036.5 702.1,1041.1 702.5,1044.1 704.8,1050.1 709.7,1050.7 714.6,1052.9 716.6,1050.8 717.1,1046.4 715.8,1043.4 712.8,1041.5 711.7,1038.9 709.8,1036.5 707.5,1030.5 706.1,1034.8 706.5,1039.0 706.2,1042.2 707.3,1045.7 711.8,1047.8 715.7,1050.1 718.3,1050.6 722.7,1052.6 724.1,1047.6 724.1,1044.0 720.9,1037.7 719.2,1035.8 716.1,1033.5" fill="none" stroke="#dba2a2" stroke-width="3.8" stroke-linejoin="round" stroke-linecap="round"/>
<polyline points="722.2,1017.6 723.4,1021.5 723.9,1024.4 725.1,1027.5 725.7,1031.6 727.0,1033.6 726.6,1037.0 727.7,1040.0 727.7,1042.9 729.3,1047.6 728.8,1050.7 729.3,1053.5 728.8,1057.3 727.2,1062.9 725.8,1067.7" fill="none" stroke="#93cddd" stroke-width="3.8" stroke-linejoin="round" stroke-linecap="round"/>
<polyline points="697.7,1018.8 701.0,1017.9 703.7,1017.7 706.8,1018.5 709.9,1018.7 712.2,1018.4 716.0,1017.2 719.5,1018.7 722.1,1018.3 719.7,1020.0 716.7,1022.4 713.0,1023.0 710.0,1023.0 706.5,1022.4 702.6,1022.5" fill="none" stroke="#9db4da" stroke-width="3.8" stroke-linejoin="round" stroke-linecap="round"/>
<ellipse cx="1036" cy="1020" rx="9.8" ry="8.8" fill="#a7d0dc"/>
<polyline points="973.5,993.5 978.7,993.0 984.2,991.8 987.6,992.4 991.8,992.0 997.5,994.3 999.2,998.9 996.9,1002.1 995.9,1005.0 992.7,1005.7 987.6,1007.9 981.6,1007.0 977.8,1007.7 974.1,1010.8 971.0,1014.5 975.4,1013.8 978.4,1011.2 982.3,1009.9 984.4,1012.6 982.7,1018.7 979.6,1022.5 976.8,1025.3 980.7,1028.8 985.4,1030.5 990.7,1029.8 993.0,1027.8" fill="none" stroke="#dba2a2" stroke-width="3.8" stroke-linejoin="round" stroke-linecap="round"/>
<polyline points="977.4,985.7 977.5,990.2 980.6,992.4 985.4,991.4 989.6,993.2 993.8,996.6 996.7,997.9 1000.7,997.9 1005.1,997.7 1009.2,997.1 1012.8,997.2 1014.7,994.8 1016.2,990.8 1017.7,988.1 1022.5,987.6 1025.3,992.2 1025.7,995.1 1024.5,999.6 1019.6,1003.1 1016.5,1002.3" fill="none" stroke="#c0504d" stroke-width="3.8" stroke-linejoin="round" stroke-linecap="round"/>
<polyline points="1010.6,1016.0 1013.9,1015.8 1018.0,1018.1 1023.5,1020.4 1025.5,1023.8 1026.6,1027.5 1031.7,1029.1 1034.4,1031.4 1038.0,1032.6" fill="none" stroke="#c0504d" stroke-width="3.8" stroke-linejoin="round" stroke-linecap="round"/>
<polyline points="963.7,945.6 968.2,946.1 971.3,949.2 975.6,952.7 979.4,955.2 978.6,961.2 982.0,965.6 980.9,971.7 982.5,974.0 987.0,975.5 990.3,978.3 994.2,979.9 999.6,981.2 1002.3,982.0 1005.7,980.1 1010.1,978.4 1013.2,980.5 1017.7,982.4 1023.8,984.1 1027.4,987.2 1032.5,988.6 1033.1,993.5" fill="none" stroke="#3f73be" stroke-width="3.8" stroke-linejoin="round" stroke-linecap="round"/>
<polyline points="1019.4,959.3 1018.8,954.4 1016.0,950.9 1010.2,950.3 1005.5,951.9 1004.1,956.0 1007.0,958.0 1007.8,962.2 1008.1,965.7 1007.3,969.3 1007.4,974.5 1005.3,978.1 1003.4,982.4 1005.1,987.4 1009.0,988.4 1010.6,992.6" fill="none" stroke="#b3a2c7" stroke-width="3.8" stroke-linejoin="round" stroke-linecap="round"/>
<polyline points="1024.3,980.8 1026.9,975.7 1027.3,973.2 1029.4,969.4 1024.6,970.8 1019.4,972.6 1022.2,974.6 1024.2,976.3 1024.4,980.5 1018.0,982.0 1011.9,981.5 1006.1,981.1 1001.2,985.4 1000.6,988.1 1002.0,991.8 1002.1,997.7 1003.1,1003.7 1006.0,1005.4 1010.4,1004.8 1015.0,1004.9 1016.8,1001.0 1017.1,997.2 1013.9,992.1 1010.0,990.8 1007.3,995.0 1004.7,998.4" fill="none" stroke="#f6a46e" stroke-width="3.8" stroke-linejoin="round" stroke-linecap="round"/>
<polyline points="1024.3,980.8 1025.5,984.3 1026.5,986.4 1026.6,989.0 1028.6,992.1 1028.9,998.3 1026.5,1001.9 1023.0,1004.6 1022.3,1010.2" fill="none" stroke="#f6a46e" stroke-width="3.8" stroke-linejoin="round" stroke-linecap="round"/>
<polyline points="993.0,1016.0 993.8,1019.2 995.7,1022.9 997.5,1025.5 998.1,1027.6 1002.7,1032.1 1005.5,1033.0 1008.7,1033.2 1012.2,1032.0 1015.0,1031.1 1016.7,1030.2 1020.8,1030.5 1025.5,1029.7 1032.1,1031.2 1038.0,1031.7" fill="none" stroke="#f6a46e" stroke-width="3.8" stroke-linejoin="round" stroke-linecap="round"/>
<polyline points="1040.9,966.7 1045.3,965.2 1050.4,964.7 1053.2,964.4 1052.3,966.7 1057.8,970.1 1060.8,973.2 1059.8,977.4 1058.8,981.3 1063.6,981.6 1067.1,983.6 1072.8,984.1 1074.8,987.9 1078.6,989.2 1079.7,993.5 1080.0,997.4" fill="none" stroke="#e9803a" stroke-width="3.8" stroke-linejoin="round" stroke-linecap="round"/>
<polyline points="1057.5,987.7 1063.2,988.3 1065.9,989.6 1069.3,992.0 1072.6,996.7 1074.4,998.1 1076.5,1000.9 1080.3,1002.7 1082.4,1004.2 1085.3,1008.3 1083.3,1011.1 1081.1,1010.7 1076.6,1010.8 1071.5,1012.7 1064.8,1012.5 1059.1,1011.8 1054.6,1010.6 1050.4,1009.7 1046.6,1008.6 1041.9,1007.2" fill="none" stroke="#9db4da" stroke-width="3.8" stroke-linejoin="round" stroke-linecap="round"/>
<polyline points="1004.7,1014.1 1008.0,1012.9 1011.9,1010.9 1017.2,1012.6 1020.8,1014.0 1017.9,1018.2 1013.9,1020.4 1010.4,1021.1 1006.7,1019.9" fill="none" stroke="#9db4da" stroke-width="3.8" stroke-linejoin="round" stroke-linecap="round"/>
<polyline points="993.0,1033.6 994.8,1038.0 997.2,1040.5 1001.0,1039.4 1002.8,1035.6" fill="none" stroke="#9db4da" stroke-width="3.8" stroke-linejoin="round" stroke-linecap="round"/>
<polyline points="1002.8,1001.4 1006.1,1000.5 1010.5,1002.7 1015.2,1003.2 1018.5,1004.7 1024.2,1002.9 1028.2,1005.3" fill="none" stroke="#9db4da" stroke-width="3.8" stroke-linejoin="round" stroke-linecap="round"/>
<polyline points="1036.0,1045.3 1037.4,1048.9 1038.4,1051.5 1041.0,1053.9 1043.1,1056.0 1046.0,1056.3 1049.1,1056.0 1053.1,1053.5 1055.8,1049.8 1057.4,1047.7 1059.7,1045.2 1061.2,1043.1 1061.9,1039.7 1064.8,1036.4 1066.3,1034.4 1066.6,1027.8 1067.7,1024.3 1066.1,1021.9 1060.5,1020.9" fill="none" stroke="#c3d69b" stroke-width="3.8" stroke-linejoin="round" stroke-linecap="round"/>
<polyline points="1045.8,1037.5 1049.1,1033.7 1050.7,1028.1 1048.7,1024.1 1046.3,1020.0 1047.6,1015.8 1051.2,1013.4 1055.4,1012.5 1057.9,1010.0 1059.3,1003.6 1057.2,1000.2 1053.8,998.3 1054.5,993.9 1053.4,988.3 1050.2,987.1 1047.5,987.7 1044.4,993.0 1045.6,998.0 1047.8,1000.4" fill="none" stroke="#c3d69b" stroke-width="3.8" stroke-linejoin="round" stroke-linecap="round"/>
<polyline points="1055.6,1018.0 1059.9,1020.4 1065.8,1021.1 1071.2,1020.0 1076.6,1019.7 1080.8,1018.2 1080.5,1014.6 1078.0,1010.8 1079.1,1006.6 1076.6,1004.1 1072.8,1003.9 1069.1,1006.8 1067.2,1010.6 1064.6,1015.4 1061.1,1013.7 1059.5,1010.2" fill="none" stroke="#c3d69b" stroke-width="3.8" stroke-linejoin="round" stroke-linecap="round"/>
<polyline points="998.9,1019.9 1001.5,1017.0 1005.6,1016.2 1009.9,1017.8 1012.3,1023.4 1009.9,1027.3 1008.3,1029.2 1004.2,1027.3 1003.0,1022.1 1004.7,1019.9" fill="none" stroke="#c3d69b" stroke-width="3.8" stroke-linejoin="round" stroke-linecap="round"/>
<polyline points="1081.0,987.7 1086.1,987.4 1092.0,985.3 1096.0,986.1 1100.1,991.0 1101.3,993.0 1103.1,996.9 1101.0,1003.0 1101.7,1008.7 1097.9,1008.8 1094.2,1004.8 1089.3,1000.7 1087.9,996.9 1090.7,994.2 1094.8,990.2 1096.2,992.0 1094.7,996.7 1092.7,1000.4" fill="none" stroke="#8fb74e" stroke-width="3.8" stroke-linejoin="round" stroke-linecap="round"/>
<polyline points="1022.3,1043.4 1023.3,1045.8 1024.3,1049.3 1028.3,1051.8 1032.3,1050.8 1033.0,1046.4 1030.4,1043.9 1026.0,1043.3 1022.3,1044.4" fill="none" stroke="#8fb74e" stroke-width="3.8" stroke-linejoin="round" stroke-linecap="round"/>
<polyline points="1035.0,1042.4 1039.9,1044.4" fill="none" stroke="#8fb74e" stroke-width="3.8" stroke-linejoin="round" stroke-linecap="round"/>
<polyline points="980.3,1036.5 984.0,1035.9 987.4,1038.7 989.3,1042.6 992.3,1046.0 995.7,1048.1 999.9,1050.2 1002.4,1053.4 1002.2,1058.3 999.6,1062.5 1002.6,1062.9 1005.8,1064.4 1009.2,1065.8 1007.5,1069.9 1005.3,1073.4 1003.3,1077.5 998.9,1080.2 996.9,1084.2 993.3,1081.0 989.8,1077.3 988.8,1073.8 991.3,1069.3 994.2,1066.2 999.9,1063.9" fill="none" stroke="#b3a2c7" stroke-width="3.8" stroke-linejoin="round" stroke-linecap="round"/>
<polyline points="1004.7,1036.5 1007.3,1033.7 1009.9,1032.3 1013.7,1033.1 1019.1,1032.8 1020.6,1030.2 1022.0,1026.0 1022.5,1022.1 1021.7,1017.2 1022.6,1012.6 1025.5,1011.1 1028.6,1009.5 1030.6,1011.4 1033.1,1016.0" fill="none" stroke="#b3a2c7" stroke-width="3.8" stroke-linejoin="round" stroke-linecap="round"/>
<polyline points="994.0,1010.2 997.4,1008.9 1001.1,1008.0 1005.3,1007.7 1008.8,1006.8 1012.2,1006.1 1016.2,1004.2 1020.6,1001.1 1023.6,998.5 1027.5,998.8 1032.6,1001.5 1036.7,1000.3 1039.2,999.2 1043.0,1002.1 1044.6,1007.2 1042.7,1010.5 1039.9,1012.1" fill="none" stroke="#dba2a2" stroke-width="3.8" stroke-linejoin="round" stroke-linecap="round"/>
<polyline points="1018.4,1038.5 1023.5,1037.1 1027.6,1035.8 1030.3,1037.8 1033.5,1039.3 1039.3,1038.1 1044.2,1034.8 1047.1,1031.2 1046.8,1025.8" fill="none" stroke="#dba2a2" stroke-width="3.8" stroke-linejoin="round" stroke-linecap="round"/>
<polyline points="1040.9,1000.4 1042.9,1002.3" fill="none" stroke="#7f62a8" stroke-width="3.8" stroke-linejoin="round" stroke-linecap="round"/>
<polyline points="1048.7,1015.0 1050.7,1016.0" fill="none" stroke="#7f62a8" stroke-width="3.8" stroke-linejoin="round" stroke-linecap="round"/>
<polyline points="1040.9,1032.6 1042.9,1033.6" fill="none" stroke="#7f62a8" stroke-width="3.8" stroke-linejoin="round" stroke-linecap="round"/>
<polyline points="1008.7,998.4 1013.9,996.9 1017.7,998.9 1022.7,1002.9 1021.7,1004.6 1020.6,1008.5 1016.4,1010.8 1012.2,1008.9 1010.6,1004.3" fill="none" stroke="#9db4da" stroke-width="3.8" stroke-linejoin="round" stroke-linecap="round"/>
<polyline points="1018.4,1008.2 1023.7,1006.4 1027.4,1008.4 1030.7,1012.4 1027.9,1018.3 1023.8,1020.5 1020.4,1018.0" fill="none" stroke="#b3a2c7" stroke-width="3.8" stroke-linejoin="round" stroke-linecap="round"/>
<polyline points="1010.6,1000.4 1014.5,997.7 1018.2,1000.5 1020.3,1004.6 1016.5,1007.2" fill="none" stroke="#dba2a2" stroke-width="3.8" stroke-linejoin="round" stroke-linecap="round"/>
<polyline points="1034.1,1013.1 1037.4,1014.5 1041.7,1018.2 1043.1,1023.7 1039.7,1028.2 1035.8,1029.2 1031.1,1025.8" fill="none" stroke="#93cddd" stroke-width="3.8" stroke-linejoin="round" stroke-linecap="round"/>
<polyline points="1030.2,1006.2 1036.1,1006.9 1040.2,1010.9 1043.8,1015.0" fill="none" stroke="#9db4da" stroke-width="3.8" stroke-linejoin="round" stroke-linecap="round"/>
<polyline points="1030.2,1023.8 1034.4,1027.3 1037.7,1027.9 1041.9,1025.8" fill="none" stroke="#dba2a2" stroke-width="3.8" stroke-linejoin="round" stroke-linecap="round"/>
<polyline points="686.8,1405.2 691.0,1408.8 694.6,1407.9 697.8,1411.0 701.1,1411.9 705.8,1414.8 706.9,1417.3 709.1,1420.7 713.2,1424.6 717.2,1427.7 718.5,1431.8 721.5,1436.2 721.1,1439.5 719.7,1444.1" fill="none" stroke="#c0504d" stroke-width="3.8" stroke-linejoin="round" stroke-linecap="round"/>
<polyline points="685.5,1413.8 688.2,1418.1 690.5,1421.7 691.7,1423.8 695.4,1427.5 698.3,1430.0 701.1,1433.5 703.2,1436.7 707.2,1437.7 710.3,1440.3 712.9,1442.4 716.0,1445.5 719.7,1446.7" fill="none" stroke="#3fa9c8" stroke-width="3.8" stroke-linejoin="round" stroke-linecap="round"/>
<polyline points="684.2,1463.4 688.1,1464.2 692.0,1466.2 696.8,1464.7 698.7,1462.2 698.2,1456.5 697.4,1453.0 697.7,1448.5 699.4,1445.0 703.0,1443.7" fill="none" stroke="#dba2a2" stroke-width="3.8" stroke-linejoin="round" stroke-linecap="round"/>
<polyline points="728.7,1468.1 731.5,1469.9 736.3,1473.9 739.2,1477.7 744.5,1477.8 748.5,1478.1 752.6,1478.3" fill="none" stroke="#dba2a2" stroke-width="3.8" stroke-linejoin="round" stroke-linecap="round"/>
<polyline points="743.6,1397.5 747.5,1399.8 748.5,1405.6 749.8,1409.9 748.5,1413.8 746.2,1417.5 743.9,1421.5 741.2,1425.2 738.5,1426.3 736.8,1429.1 734.0,1434.0 731.3,1439.6 726.9,1443.1 723.3,1445.2 719.7,1447.6" fill="none" stroke="#c3d69b" stroke-width="3.8" stroke-linejoin="round" stroke-linecap="round"/>
<polyline points="756.0,1427.9 756.2,1430.3 752.0,1430.3 748.8,1428.9 746.0,1431.2 742.6,1432.0 738.0,1434.2 736.3,1437.2 731.7,1437.4 728.3,1435.4 726.8,1439.7 723.2,1440.9 721.0,1443.3" fill="none" stroke="#7f62a8" stroke-width="3.8" stroke-linejoin="round" stroke-linecap="round"/>
<polyline points="758.6,1444.1 754.8,1444.5 750.3,1445.8 745.9,1443.6 745.3,1440.6 743.5,1435.3 741.7,1431.7 739.2,1426.8 737.7,1422.2 735.5,1421.4 734.2,1423.9 736.7,1428.8 736.7,1434.2 733.9,1440.5 731.7,1444.0 729.3,1446.5 723.8,1446.6 720.1,1447.6" fill="none" stroke="#b3a2c7" stroke-width="3.8" stroke-linejoin="round" stroke-linecap="round"/>
<polyline points="720.1,1448.4 716.1,1451.7 715.5,1454.6 714.1,1458.4 713.8,1463.8 712.6,1468.4 713.7,1469.9 718.4,1470.7" fill="none" stroke="#b3a2c7" stroke-width="3.8" stroke-linejoin="round" stroke-linecap="round"/>
<polyline points="689.3,1463.4 694.8,1463.0 699.0,1461.8 701.8,1456.8 701.6,1452.3 702.7,1448.2 700.8,1445.0 702.7,1443.9 707.5,1444.1 712.6,1445.6 717.8,1444.5 718.4,1441.2 717.2,1437.7 717.3,1433.8 719.2,1429.4 722.0,1426.7 728.5,1425.5 729.0,1429.3 731.2,1432.2 732.6,1431.1 734.9,1428.0 740.3,1427.9 743.6,1427.8 749.0,1429.2 752.7,1429.9 756.4,1431.7 755.5,1434.2 750.2,1434.9 746.8,1436.4 744.1,1438.2" fill="none" stroke="#93cddd" stroke-width="3.8" stroke-linejoin="round" stroke-linecap="round"/>
<polyline points="720.1,1446.7 724.9,1446.2 730.6,1447.9 734.3,1448.5 734.2,1451.1 732.5,1453.4 727.3,1452.0 722.7,1450.1" fill="none" stroke="#93cddd" stroke-width="3.8" stroke-linejoin="round" stroke-linecap="round"/>
<polyline points="720.1,1448.4 718.1,1452.4 715.5,1457.6 713.3,1460.5 710.5,1463.8 708.7,1466.9 705.9,1471.2 704.5,1473.5 703.7,1478.5 702.2,1482.7 703.8,1487.8 705.8,1491.5 709.5,1492.6 707.0,1495.8 706.3,1500.1 704.0,1502.9 702.9,1504.9 700.5,1508.3 698.8,1510.1 696.9,1511.3 694.8,1514.5 695.8,1519.9 697.1,1523.0 700.8,1527.5 703.1,1532.4 708.3,1535.7 712.8,1537.6 717.3,1541.1 719.3,1543.3" fill="none" stroke="#9db4da" stroke-width="3.8" stroke-linejoin="round" stroke-linecap="round"/>
<polyline points="717.6,1495.5 716.0,1490.6 715.8,1488.6 714.6,1484.6 715.7,1482.0 717.7,1481.5 717.9,1476.8 718.8,1471.8 719.8,1467.9 719.9,1462.0 720.7,1457.0 719.7,1452.7" fill="none" stroke="#3f73be" stroke-width="3.8" stroke-linejoin="round" stroke-linecap="round"/>
<polyline points="718.4,1472.4 720.0,1476.5 724.8,1476.4 728.7,1477.5" fill="none" stroke="#8fb74e" stroke-width="3.8" stroke-linejoin="round" stroke-linecap="round"/>
<polyline points="741.5,1431.3 743.7,1434.5 742.4,1438.2" fill="none" stroke="#8fb74e" stroke-width="3.8" stroke-linejoin="round" stroke-linecap="round"/>
<polyline points="734.7,1448.4 738.0,1451.8 741.1,1454.2 743.7,1456.7 745.1,1458.7 748.2,1462.8 747.9,1465.4 748.6,1468.7 750.9,1468.9" fill="none" stroke="#e9803a" stroke-width="3.8" stroke-linejoin="round" stroke-linecap="round"/>
<polyline points="722.7,1451.8 724.5,1454.6 725.2,1458.7 723.6,1461.5 724.3,1466.0 722.5,1467.4 720.6,1469.6 720.7,1471.6 722.9,1474.6 727.3,1475.4 731.3,1476.5 734.9,1473.7 735.6,1470.5 738.0,1472.0 739.8,1475.8" fill="none" stroke="#e9803a" stroke-width="3.8" stroke-linejoin="round" stroke-linecap="round"/>
<polyline points="719.3,1447.6 722.4,1449.5 726.4,1452.0 730.3,1454.4 730.9,1458.6 733.9,1462.4 735.8,1465.8 739.5,1468.8 742.9,1471.1 746.0,1474.1 749.7,1476.8 751.9,1479.4 753.0,1483.0 756.0,1487.0 757.9,1491.1 758.3,1495.0 758.2,1499.7 757.6,1504.1 754.4,1507.2 752.3,1508.7 749.2,1510.8" fill="none" stroke="#f6a46e" stroke-width="3.8" stroke-linejoin="round" stroke-linecap="round"/>
<polyline points="1006.9,1416.4 1010.4,1417.6 1013.8,1419.9" fill="none" stroke="#c0504d" stroke-width="3.8" stroke-linejoin="round" stroke-linecap="round"/>
<polyline points="976.1,1377.0 975.2,1382.4 972.3,1385.5 975.0,1389.0 980.8,1392.0 985.3,1393.0 987.0,1398.2 985.4,1400.3 985.6,1404.0 988.9,1401.1 995.0,1402.8 997.2,1406.0 999.3,1408.3 999.1,1413.3 1003.8,1416.4 1008.5,1419.1 1013.3,1420.5 1017.9,1423.8 1021.2,1428.2 1025.4,1427.6 1030.2,1429.1 1031.7,1435.6 1032.6,1440.6 1034.1,1443.6 1036.2,1446.3 1036.5,1448.9" fill="none" stroke="#f6a46e" stroke-width="3.8" stroke-linejoin="round" stroke-linecap="round"/>
<polyline points="965.1,1464.0 970.7,1462.9 975.3,1461.4 980.6,1461.1 984.8,1459.3 990.1,1457.9 995.9,1458.3 1002.4,1457.5 1008.7,1459.1 1013.2,1458.7 1018.1,1456.6 1021.8,1457.7 1025.8,1455.2 1031.3,1453.6 1033.1,1451.7 1035.9,1450.1" fill="none" stroke="#d48e8e" stroke-width="3.8" stroke-linejoin="round" stroke-linecap="round"/>
<polyline points="974.4,1468.7 974.4,1462.9" fill="none" stroke="#d48e8e" stroke-width="3.8" stroke-linejoin="round" stroke-linecap="round"/>
<polyline points="988.3,1455.9 993.0,1454.4 997.6,1450.1 1002.5,1446.4 1004.3,1444.4 1006.6,1442.7 1009.5,1439.7 1010.9,1437.1 1016.0,1433.9 1019.8,1432.1 1025.0,1430.3 1028.8,1430.6 1034.4,1430.1 1035.9,1434.3 1036.5,1439.3 1035.9,1445.4" fill="none" stroke="#dba2a2" stroke-width="3.8" stroke-linejoin="round" stroke-linecap="round"/>
<polyline points="1127.6,1442.0 1127.2,1439.6 1125.3,1435.5 1123.6,1431.8 1120.0,1430.0 1117.8,1424.4 1111.9,1420.7 1109.6,1419.3 1106.2,1417.1 1104.0,1416.6 1100.6,1416.1 1095.3,1415.7 1089.1,1418.0 1083.2,1419.1 1079.8,1420.2 1078.2,1422.4 1074.5,1425.2 1074.2,1429.3 1073.8,1432.9 1070.8,1438.1 1066.2,1440.7 1060.8,1442.6 1058.4,1444.8 1053.8,1446.1 1049.9,1446.0 1047.5,1444.3" fill="none" stroke="#8fb74e" stroke-width="3.8" stroke-linejoin="round" stroke-linecap="round"/>
<polyline points="1059.1,1444.3 1062.8,1443.6 1065.4,1441.2 1072.3,1440.5 1078.0,1441.7 1078.3,1446.2 1077.0,1451.9 1075.5,1455.6 1072.9,1458.0 1070.0,1461.2 1068.5,1464.7 1063.6,1466.5 1059.9,1464.4 1059.8,1461.1 1058.8,1456.5 1057.9,1451.2" fill="none" stroke="#8fb74e" stroke-width="3.8" stroke-linejoin="round" stroke-linecap="round"/>
<polyline points="1047.5,1453.6 1052.6,1449.8 1056.9,1452.0 1061.4,1453.1 1065.7,1453.4 1071.1,1450.8 1075.0,1451.8 1080.0,1450.6 1084.2,1447.2 1084.4,1450.7 1081.9,1453.2 1076.6,1455.3 1073.1,1454.5 1069.5,1453.6" fill="none" stroke="#3fa9c8" stroke-width="3.8" stroke-linejoin="round" stroke-linecap="round"/>
<polyline points="1002.2,1451.2 1007.9,1449.4 1012.1,1450.6 1014.8,1450.8 1019.1,1449.7 1023.9,1449.3 1029.2,1449.8 1033.6,1450.1" fill="none" stroke="#c3d69b" stroke-width="3.8" stroke-linejoin="round" stroke-linecap="round"/>
<polyline points="991.8,1459.4 995.9,1457.4 1001.6,1455.5 1007.4,1456.5 1007.9,1461.1 1005.0,1462.3 998.5,1463.2 993.9,1462.4 991.3,1460.1 993.0,1456.0 994.0,1453.0 998.7,1451.2" fill="none" stroke="#c3d69b" stroke-width="3.8" stroke-linejoin="round" stroke-linecap="round"/>
<polyline points="986.0,1432.7 989.8,1435.8 992.4,1439.8 996.2,1440.4 1002.4,1441.5 1005.1,1444.8 1005.7,1449.0 1007.7,1452.8 1012.5,1453.8 1017.4,1453.3 1021.8,1451.7 1026.1,1450.6 1031.0,1449.2 1035.9,1448.9" fill="none" stroke="#b3a2c7" stroke-width="3.8" stroke-linejoin="round" stroke-linecap="round"/>
<polyline points="1010.4,1483.7 1006.2,1480.4 1005.5,1475.6 1007.7,1470.3 1011.2,1469.4 1012.1,1465.5 1013.5,1460.4 1015.6,1456.3 1012.7,1452.4" fill="none" stroke="#b3a2c7" stroke-width="3.8" stroke-linejoin="round" stroke-linecap="round"/>
<polyline points="1011.5,1442.0 1016.8,1441.4 1019.0,1438.1 1021.2,1436.4 1025.7,1438.2 1025.3,1443.4 1022.3,1445.0 1019.0,1444.0 1015.2,1441.4 1015.5,1446.1 1017.7,1449.3 1021.2,1448.2 1026.1,1445.0 1031.2,1444.3" fill="none" stroke="#b3a2c7" stroke-width="3.8" stroke-linejoin="round" stroke-linecap="round"/>
<polyline points="1039.4,1439.6 1042.5,1438.3 1046.8,1438.2 1047.7,1441.4 1046.9,1445.6 1043.2,1446.2 1039.3,1444.6 1040.5,1439.6" fill="none" stroke="#b3a2c7" stroke-width="3.8" stroke-linejoin="round" stroke-linecap="round"/>
<polyline points="1047.5,1438.5 1053.1,1437.7 1059.6,1438.9 1063.4,1438.9 1069.0,1442.1 1071.1,1446.2 1073.6,1451.7 1073.1,1455.4 1073.4,1457.5 1071.0,1462.7 1069.9,1469.2 1069.2,1473.8 1072.6,1479.0 1076.0,1481.7 1077.7,1483.7" fill="none" stroke="#9db4da" stroke-width="3.8" stroke-linejoin="round" stroke-linecap="round"/>
<polyline points="1040.5,1458.2 1043.2,1462.2 1046.5,1463.9 1050.3,1465.5 1053.2,1468.7 1056.3,1472.7 1057.2,1478.4 1057.1,1485.4 1056.8,1490.7" fill="none" stroke="#9db4da" stroke-width="3.8" stroke-linejoin="round" stroke-linecap="round"/>
<polyline points="1046.3,1477.9 1047.1,1482.7 1049.4,1486.3 1051.0,1488.0 1053.8,1489.3 1059.0,1489.1 1061.1,1491.3 1058.3,1493.3 1054.6,1493.8 1052.2,1495.3 1048.7,1496.5" fill="none" stroke="#7f62a8" stroke-width="3.8" stroke-linejoin="round" stroke-linecap="round"/>
<polyline points="1038.2,1450.1 1043.5,1451.0 1047.2,1455.3 1050.4,1458.3 1053.0,1463.4 1054.5,1467.9 1053.9,1472.4 1053.5,1476.7 1052.6,1482.0 1052.7,1485.7 1056.6,1490.2 1060.7,1492.7 1065.6,1492.2 1070.6,1491.2 1075.1,1493.0 1078.8,1493.0" fill="none" stroke="#c3d69b" stroke-width="3.8" stroke-linejoin="round" stroke-linecap="round"/>
<polyline points="1082.9,1527.8 1082.1,1522.7 1080.5,1517.8 1080.8,1515.5 1075.8,1514.3 1075.0,1511.7 1071.2,1506.9 1070.6,1503.0 1068.5,1499.2 1067.9,1496.7 1066.3,1493.7 1064.0,1489.1 1061.0,1485.5 1058.3,1484.2 1056.8,1481.4" fill="none" stroke="#3f73be" stroke-width="3.8" stroke-linejoin="round" stroke-linecap="round"/>
<polyline points="1069.5,1438.5 1066.6,1441.6 1060.9,1445.7 1059.7,1448.4 1056.2,1450.5 1052.7,1454.0 1048.4,1455.4 1045.7,1453.3 1041.5,1451.3 1038.0,1451.8 1035.5,1452.8 1036.0,1457.3 1036.4,1460.9 1037.1,1464.7 1037.0,1467.5 1034.2,1470.7 1030.2,1471.5 1026.9,1471.6 1023.0,1470.6 1020.1,1466.8 1023.0,1464.7 1027.0,1464.4 1030.6,1468.1 1034.0,1469.7 1037.9,1471.2 1042.9,1472.0 1047.2,1474.4 1050.1,1479.6 1051.6,1481.5 1051.8,1484.8 1053.4,1490.5 1050.5,1494.7 1049.5,1498.8 1052.9,1503.0 1055.0,1506.6 1056.8,1508.1" fill="none" stroke="#93cddd" stroke-width="3.8" stroke-linejoin="round" stroke-linecap="round"/>
<polyline points="1041.7,1490.7 1038.9,1489.7 1036.4,1490.0 1033.8,1492.0 1029.8,1490.8 1030.8,1487.2 1032.6,1484.6 1033.3,1482.0 1034.0,1476.3 1035.0,1472.1 1034.1,1467.7 1034.5,1463.0 1035.8,1458.3 1036.5,1453.6" fill="none" stroke="#e9803a" stroke-width="3.8" stroke-linejoin="round" stroke-linecap="round"/>
<polygon points="698.4,1864.3 708.2,1860.4 718.0,1852.6 727.8,1848.7 733.6,1852.6 734.6,1864.3 733.6,1878.0 730.7,1887.8 723.8,1893.6 718.0,1899.5 710.2,1906.3 703.3,1905.3 696.5,1902.4 692.6,1895.6 694.5,1885.8 697.4,1878.0 698.4,1870.2" fill="#bfc8df" opacity="1.0" stroke="#bfc8df" stroke-width="3" stroke-linejoin="round"/>
<polygon points="733.6,1844.7 738.5,1838.9 745.3,1837.9 750.2,1844.7 751.2,1854.5 751.2,1864.3 747.3,1871.1 742.4,1875.0 737.5,1878.0 733.6,1880.9 732.6,1873.1 734.6,1862.3 735.6,1852.6" fill="#f4bc9f" opacity="1.0" stroke="#f4bc9f" stroke-width="3" stroke-linejoin="round"/>
<polygon points="706.2,1848.7 713.1,1840.8 719.9,1835.9 727.8,1836.9 732.6,1842.8 727.8,1848.7 718.0,1852.6 708.2,1858.4 705.3,1854.5" fill="#c7bfd8" opacity="1.0" stroke="#c7bfd8" stroke-width="3" stroke-linejoin="round"/>
<polygon points="713.1,1840.8 719.9,1838.9 726.8,1840.8 727.8,1846.7 723.8,1852.6 718.0,1853.5 714.1,1848.7" fill="#e0baba" opacity="1.0" stroke="#e0baba" stroke-width="3" stroke-linejoin="round"/>
<polygon points="726.8,1840.8 733.6,1840.8 736.5,1846.7 735.6,1853.5 729.7,1854.5 726.8,1848.7" fill="#abd0dd" opacity="1.0" stroke="#abd0dd" stroke-width="3" stroke-linejoin="round"/>
<polygon points="694.5,1887.8 700.4,1885.8 704.3,1891.7 702.3,1897.5 697.4,1899.5 693.5,1895.6" fill="#c3d6b0" opacity="1.0" stroke="#c3d6b0" stroke-width="3" stroke-linejoin="round"/>
<polyline points="644.2,1879.4 648.7,1881.7 649.9,1883.3 654.1,1882.0 654.8,1884.4 658.0,1880.3 660.4,1875.6 662.2,1873.2 664.8,1871.3 668.5,1868.2 673.2,1866.6 676.8,1867.5 680.7,1867.8 684.8,1869.5 688.1,1869.5 691.4,1873.4 692.9,1875.6 696.5,1875.0" fill="none" stroke="#c0504d" stroke-width="3.8" stroke-linejoin="round" stroke-linecap="round"/>
<polyline points="700.4,1838.9 696.3,1838.3 691.3,1838.0 686.2,1837.3 682.3,1839.1 681.4,1844.5 684.0,1848.8 686.2,1852.2 690.9,1855.4 694.2,1857.6 697.1,1856.6 699.1,1853.2 699.9,1849.0 701.4,1843.8" fill="none" stroke="#8fb74e" stroke-width="3.8" stroke-linejoin="round" stroke-linecap="round"/>
<polyline points="682.8,1868.2 682.5,1864.7 685.0,1861.9 685.1,1857.2 685.1,1853.3 686.1,1846.9 688.8,1845.1 692.6,1847.2 695.9,1848.4 700.7,1848.3 704.3,1848.7" fill="none" stroke="#6fbad2" stroke-width="3.8" stroke-linejoin="round" stroke-linecap="round"/>
<polyline points="710.2,1810.5 708.7,1814.4 706.8,1816.5 702.7,1816.6 700.7,1819.8 701.8,1823.3 704.0,1826.5 703.1,1830.5 702.9,1836.0 702.6,1841.3 701.1,1844.9 698.2,1850.0 700.4,1856.1 698.9,1858.7 694.0,1861.9 692.8,1864.1 693.5,1868.6 696.0,1872.9 697.4,1875.0" fill="none" stroke="#f6a46e" stroke-width="3.8" stroke-linejoin="round" stroke-linecap="round"/>
<polyline points="703.3,1818.3 707.8,1817.5 707.5,1820.0 704.3,1822.3" fill="none" stroke="#f6a46e" stroke-width="3.8" stroke-linejoin="round" stroke-linecap="round"/>
<polyline points="690.6,1905.3 694.1,1906.0 697.6,1905.6 699.9,1907.1 702.3,1909.4 698.2,1912.9 692.7,1912.3 689.6,1909.3" fill="none" stroke="#f6a46e" stroke-width="3.8" stroke-linejoin="round" stroke-linecap="round"/>
<polyline points="737.5,1806.6 735.3,1802.9 730.6,1803.5 725.1,1804.1 725.1,1809.2 725.4,1813.5 723.5,1817.5 726.8,1821.0 731.5,1820.5 733.7,1819.8 738.1,1819.8 740.7,1822.5 742.2,1825.8 740.9,1830.7 739.2,1833.3 739.2,1837.3 743.8,1838.9 747.3,1840.8" fill="none" stroke="#f5bb9a" stroke-width="3.8" stroke-linejoin="round" stroke-linecap="round"/>
<polyline points="696.5,1827.1 700.6,1825.9 705.4,1828.0 708.5,1826.9 711.8,1829.9 715.0,1832.8 717.6,1835.5 720.7,1837.3 722.9,1840.8" fill="none" stroke="#b3a2c7" stroke-width="3.8" stroke-linejoin="round" stroke-linecap="round"/>
<polyline points="698.4,1866.2 699.6,1864.9 704.2,1864.2 707.3,1867.9 705.7,1873.4 702.0,1877.7 698.8,1882.0 697.4,1886.8" fill="none" stroke="#b3a2c7" stroke-width="3.8" stroke-linejoin="round" stroke-linecap="round"/>
<polyline points="706.2,1902.4 710.9,1904.1 714.7,1905.5 715.3,1901.9 715.2,1899.3 718.0,1895.6" fill="none" stroke="#b3a2c7" stroke-width="3.8" stroke-linejoin="round" stroke-linecap="round"/>
<polyline points="721.9,1835.9 725.6,1833.4 729.6,1831.6 732.6,1831.1" fill="none" stroke="#e9803a" stroke-width="3.8" stroke-linejoin="round" stroke-linecap="round"/>
<polyline points="773.2,1846.7 772.0,1842.8 772.4,1837.5 770.4,1832.2 767.3,1830.7 764.2,1829.6 760.8,1831.6 758.2,1836.5 755.4,1839.4 752.6,1844.5 750.2,1846.7" fill="none" stroke="#9db4da" stroke-width="3.8" stroke-linejoin="round" stroke-linecap="round"/>
<polyline points="750.2,1844.7 756.3,1844.1 761.5,1847.3 764.6,1849.0 765.4,1853.6 763.5,1857.7 760.7,1859.9 759.7,1864.7 757.3,1867.1 753.5,1868.9 750.2,1868.2" fill="none" stroke="#9db4da" stroke-width="3.8" stroke-linejoin="round" stroke-linecap="round"/>
<polyline points="780.5,1895.6 776.9,1892.5 773.9,1889.9 771.5,1885.8 769.0,1881.5 766.8,1877.2 764.6,1875.1 760.8,1871.4 755.3,1871.5 750.9,1871.5 747.3,1872.1" fill="none" stroke="#c3d69b" stroke-width="3.8" stroke-linejoin="round" stroke-linecap="round"/>
<polyline points="687.7,1895.6 688.1,1891.1 690.1,1886.1 691.1,1882.7 692.6,1882.0 695.6,1884.1 697.4,1887.8" fill="none" stroke="#c3d69b" stroke-width="3.8" stroke-linejoin="round" stroke-linecap="round"/>
<polyline points="708.2,1848.7 712.3,1846.4 716.4,1847.3 714.4,1853.0 710.2,1854.5" fill="none" stroke="#c3d69b" stroke-width="3.8" stroke-linejoin="round" stroke-linecap="round"/>
<polyline points="654.4,1963.0 657.8,1960.8 659.8,1962.8 661.2,1957.8 665.2,1955.9 668.5,1952.5 673.9,1950.6 678.3,1948.1 682.6,1946.0 684.2,1941.8 684.0,1938.0 681.1,1934.7 679.0,1930.3 675.7,1926.6 672.4,1921.4 674.4,1918.7 671.5,1914.4 675.4,1912.8 679.6,1911.2 683.0,1909.0 685.2,1905.3 684.5,1902.1 688.0,1900.8 691.9,1899.7 696.5,1898.5" fill="none" stroke="#b7d7e2" stroke-width="3.8" stroke-linejoin="round" stroke-linecap="round"/>
<polyline points="711.1,1910.2 714.9,1910.8 719.9,1910.2" fill="none" stroke="#b7d7e2" stroke-width="3.8" stroke-linejoin="round" stroke-linecap="round"/>
<polyline points="692.6,1899.5 694.8,1898.1 698.3,1897.2 702.1,1895.3 703.8,1893.2 707.8,1889.6 712.1,1887.8" fill="none" stroke="#b7d7e2" stroke-width="3.8" stroke-linejoin="round" stroke-linecap="round"/>
<polyline points="690.6,1911.2 690.2,1914.6 693.0,1918.3 694.2,1922.8 698.0,1924.0 701.8,1923.5 705.9,1919.6 707.6,1918.6 709.8,1918.8 714.0,1920.6 717.0,1922.0" fill="none" stroke="#3f73be" stroke-width="3.8" stroke-linejoin="round" stroke-linecap="round"/>
<polyline points="732.6,1896.5 727.2,1896.8 724.0,1894.5 723.0,1891.3 726.3,1889.3 729.5,1887.2 733.2,1883.3 735.2,1881.7 733.6,1878.0" fill="none" stroke="#dfb3b3" stroke-width="3.8" stroke-linejoin="round" stroke-linecap="round"/>
<polyline points="710.2,1897.5 710.8,1899.7 711.1,1902.4" fill="none" stroke="#3fa9c8" stroke-width="3.8" stroke-linejoin="round" stroke-linecap="round"/>
<polyline points="708.2,1840.8 711.5,1842.6 715.0,1844.7" fill="none" stroke="#d89c9c" stroke-width="3.8" stroke-linejoin="round" stroke-linecap="round"/>
<rect x="736.5" y="1880.9" width="4.0" height="6.0" fill="#e9803a"/>
<polygon points="1014.7,1852.6 1028.9,1846.2 1043.2,1844.7 1054.4,1849.4 1065.5,1858.9 1075.0,1868.5 1079.8,1881.2 1086.1,1892.3 1086.1,1905.0 1076.6,1906.6 1067.1,1900.2 1054.4,1897.1 1041.7,1897.1 1028.9,1895.5 1019.4,1890.7 1013.1,1881.2 1011.5,1868.5" fill="#c3cbe0" opacity="1.0" stroke="#c3cbe0" stroke-width="3" stroke-linejoin="round"/>
<polygon points="1016.2,1855.8 1028.9,1849.4 1038.5,1852.6 1035.3,1865.3 1025.8,1871.7 1016.2,1868.5" fill="#cbc2da" opacity="1.0" stroke="#cbc2da" stroke-width="3" stroke-linejoin="round"/>
<polyline points="1135.4,1785.9 1133.8,1789.7 1138.0,1791.0 1142.7,1791.7 1142.8,1794.8 1141.5,1799.3 1137.3,1802.4 1134.5,1801.8 1130.2,1803.8 1127.7,1801.0 1124.3,1799.7 1119.4,1796.4 1115.5,1794.6 1112.8,1797.6 1112.5,1801.0 1112.5,1804.8 1112.6,1809.2 1112.6,1813.3 1111.5,1815.4 1109.7,1819.2 1107.4,1820.6 1103.1,1823.2 1102.6,1826.0 1100.1,1828.3 1096.9,1830.5 1093.3,1833.5 1090.7,1836.0 1087.5,1837.5 1085.6,1840.9 1083.0,1843.1 1080.1,1846.2 1077.2,1848.2 1073.3,1849.1 1070.1,1851.8 1066.9,1852.4 1063.7,1853.6 1059.9,1855.0 1054.4,1858.9" fill="none" stroke="#c3d69b" stroke-width="3.8" stroke-linejoin="round" stroke-linecap="round"/>
<polyline points="1071.0,1824.8 1070.0,1821.9 1068.3,1817.8 1066.9,1814.1 1065.0,1810.7 1062.8,1809.4 1059.8,1805.8 1055.5,1805.5 1051.4,1805.0 1046.9,1806.5 1042.4,1806.9 1040.6,1808.1 1037.0,1810.5 1034.1,1813.1 1032.5,1815.9 1032.1,1819.9 1031.4,1824.2 1031.2,1827.7 1030.7,1832.0 1029.3,1836.1 1028.6,1840.5 1028.1,1843.4 1027.4,1846.2" fill="none" stroke="#9db4da" stroke-width="3.8" stroke-linejoin="round" stroke-linecap="round"/>
<polyline points="990.8,1812.9 991.7,1816.0 992.0,1818.7 994.3,1822.5 994.8,1825.6 996.5,1828.3 996.7,1832.5 998.3,1836.1 1000.1,1840.5 1001.3,1842.3 1001.8,1846.8 1007.2,1848.8 1011.5,1851.0" fill="none" stroke="#f28c3c" stroke-width="3.8" stroke-linejoin="round" stroke-linecap="round"/>
<polyline points="980.5,1851.8 985.5,1851.4 990.2,1850.8 994.5,1846.3 995.5,1842.4 997.0,1840.7 999.1,1836.6 1000.3,1834.0 1003.9,1828.2 1007.8,1827.8 1011.5,1826.8 1015.2,1826.1 1019.2,1824.8 1022.1,1825.7 1025.1,1825.1 1029.3,1830.0 1031.8,1829.9 1035.8,1829.7 1040.3,1834.1 1040.4,1836.6 1042.1,1840.1 1042.2,1842.3 1043.2,1846.2" fill="none" stroke="#d48e8e" stroke-width="3.8" stroke-linejoin="round" stroke-linecap="round"/>
<polyline points="1057.5,1824.0 1054.3,1823.8 1051.5,1823.7 1047.9,1825.8 1045.3,1826.9 1041.5,1828.9 1039.2,1829.9 1036.1,1833.9 1031.9,1837.0 1032.6,1840.0 1034.1,1844.5 1035.3,1848.6 1037.5,1853.0 1036.9,1856.7 1038.4,1860.5 1039.0,1864.4 1038.4,1869.1 1039.2,1871.6 1040.1,1874.8" fill="none" stroke="#f5bb9a" stroke-width="3.8" stroke-linejoin="round" stroke-linecap="round"/>
<polyline points="1054.4,1831.9 1057.6,1831.7 1061.0,1830.7 1065.5,1830.4" fill="none" stroke="#f5bb9a" stroke-width="3.8" stroke-linejoin="round" stroke-linecap="round"/>
<polyline points="1097.2,1841.5 1093.9,1838.4 1091.2,1836.8 1088.1,1836.3 1083.9,1834.7 1079.1,1832.5 1074.4,1831.3 1072.2,1836.8 1070.3,1840.2 1070.6,1843.0 1066.4,1843.4 1063.8,1843.2 1061.5,1843.6 1058.1,1842.5 1052.5,1839.9 1049.6,1836.7" fill="none" stroke="#7f62a8" stroke-width="3.8" stroke-linejoin="round" stroke-linecap="round"/>
<polyline points="1009.9,1852.6 1005.9,1855.8 1003.2,1857.0 1001.6,1860.1 1000.9,1863.8 1000.0,1867.6 998.8,1871.3 1001.3,1876.1 1002.5,1879.2 1003.8,1881.3 1006.8,1884.2 1011.5,1887.5" fill="none" stroke="#8fb74e" stroke-width="3.8" stroke-linejoin="round" stroke-linecap="round"/>
<polyline points="1013.1,1855.8 1012.2,1858.9 1011.6,1861.9 1012.8,1864.8 1013.1,1868.5" fill="none" stroke="#8fb74e" stroke-width="3.8" stroke-linejoin="round" stroke-linecap="round"/>
<polyline points="951.9,1909.8 953.4,1905.9 952.8,1901.5 953.2,1898.5 952.8,1895.2 951.9,1892.8 951.6,1889.5 956.4,1886.1 959.0,1884.3 962.1,1881.8 964.7,1879.5 968.8,1877.3 972.3,1872.6 973.5,1868.0 978.8,1868.6 983.4,1871.6 987.9,1875.1 990.5,1879.1 991.4,1883.0 991.5,1887.1 989.2,1892.3" fill="none" stroke="#e9803a" stroke-width="3.8" stroke-linejoin="round" stroke-linecap="round"/>
<polyline points="961.4,1869.3 964.4,1869.0 969.0,1870.8 972.4,1871.1 976.1,1872.3 980.8,1871.9 983.8,1873.6 987.7,1873.8 992.1,1872.8 996.5,1873.0 1000.5,1872.7 1004.2,1873.0 1006.7,1873.2" fill="none" stroke="#9db4da" stroke-width="3.8" stroke-linejoin="round" stroke-linecap="round"/>
<polyline points="1157.6,1912.9 1156.6,1909.2 1154.9,1907.4 1152.7,1902.7 1151.1,1900.5 1150.0,1897.1 1149.0,1893.8 1151.6,1890.6 1153.1,1886.9 1154.2,1883.8 1155.1,1882.0 1154.3,1878.0 1152.5,1874.6 1152.4,1871.6 1151.9,1867.8 1148.8,1866.7 1146.6,1863.8 1145.0,1860.0 1144.5,1858.0 1142.3,1857.7 1139.2,1858.2 1135.5,1861.3 1131.9,1862.8 1128.5,1862.2 1124.0,1863.6 1120.7,1864.9 1117.4,1865.8 1114.4,1866.2 1111.6,1867.8 1108.4,1870.5 1105.3,1871.6 1101.3,1872.5 1098.2,1873.5 1095.1,1873.4 1092.2,1873.0 1089.6,1871.9 1085.6,1872.4 1082.7,1873.0 1080.4,1873.2 1075.0,1874.8" fill="none" stroke="#b3a2c7" stroke-width="3.8" stroke-linejoin="round" stroke-linecap="round"/>
<polyline points="1165.5,1930.4 1168.2,1929.4 1172.5,1929.0 1175.1,1928.5 1177.6,1927.2 1180.1,1924.9 1183.0,1922.3 1184.9,1919.1 1187.3,1915.5 1187.4,1913.5 1187.8,1910.4 1185.4,1907.3 1184.6,1903.9 1183.9,1900.5 1182.6,1897.5 1180.1,1894.3 1177.5,1892.1 1175.1,1891.2 1172.5,1890.0 1168.8,1890.8 1165.7,1892.2 1162.7,1891.6 1158.0,1892.5 1155.2,1891.6 1150.6,1891.8 1147.0,1890.5 1143.0,1889.1 1139.2,1886.8 1135.3,1885.8 1130.4,1883.7 1126.2,1883.1 1122.9,1880.6 1118.4,1879.8 1114.2,1879.1 1110.5,1879.6 1107.6,1878.5 1102.8,1877.2 1099.3,1877.1 1095.3,1876.6 1090.4,1876.6 1087.5,1876.1 1082.3,1875.2 1078.7,1874.3 1075.8,1875.1 1071.4,1873.5 1067.1,1873.2" fill="none" stroke="#d9a5a5" stroke-width="3.8" stroke-linejoin="round" stroke-linecap="round"/>
<polyline points="1082.9,1938.4 1080.3,1939.1 1077.2,1938.8 1073.9,1937.3 1070.4,1935.1 1067.6,1930.9 1068.5,1926.1 1069.4,1922.5 1071.7,1919.5 1074.2,1918.2 1076.2,1917.5 1079.3,1915.6 1081.3,1912.5 1082.9,1910.4 1082.2,1906.9 1080.7,1903.9 1080.2,1900.5 1078.9,1896.8 1076.4,1891.6 1074.7,1890.2 1072.1,1887.2 1070.8,1884.8 1066.3,1882.0 1063.1,1879.0 1060.4,1877.9 1056.1,1876.3 1051.7,1875.2 1048.0,1874.8" fill="none" stroke="#e2bdbd" stroke-width="3.8" stroke-linejoin="round" stroke-linecap="round"/>
<polyline points="1028.9,1987.6 1023.9,1985.0 1022.0,1981.7 1018.8,1979.3 1017.4,1977.2 1014.9,1975.4 1010.9,1972.0 1007.6,1969.1 1004.6,1965.0 1002.7,1962.0 999.1,1960.4 997.4,1958.1 993.0,1955.8 990.0,1954.3 986.8,1949.0 987.4,1945.0 987.7,1940.7 987.1,1939.1 987.6,1935.7 987.3,1931.8 987.0,1928.9 988.2,1925.7 987.5,1923.2 989.1,1919.6 988.6,1916.3 988.4,1913.7 987.4,1910.0 987.9,1906.4 987.7,1903.7 989.1,1900.2 989.0,1897.8 990.1,1894.4 992.4,1890.7" fill="none" stroke="#8fc3d4" stroke-width="3.8" stroke-linejoin="round" stroke-linecap="round"/>
<polyline points="1005.1,1986.0 1008.6,1986.1 1011.4,1986.4 1016.1,1985.6 1019.8,1983.7 1022.3,1983.0 1026.5,1983.5 1027.6,1980.6 1030.7,1977.3 1033.5,1973.7 1035.5,1969.8 1037.3,1966.6 1038.5,1963.6 1040.8,1960.8 1042.1,1957.7 1043.0,1955.0 1045.2,1951.4 1046.1,1947.3 1049.7,1943.6 1053.2,1938.1 1055.4,1933.6 1058.1,1929.9 1057.9,1926.7 1057.5,1924.1" fill="none" stroke="#3f73be" stroke-width="3.8" stroke-linejoin="round" stroke-linecap="round"/>
<polyline points="1049.6,1906.6 1054.1,1909.1 1057.5,1912.9" fill="none" stroke="#3f73be" stroke-width="3.8" stroke-linejoin="round" stroke-linecap="round"/>
<polyline points="1028.9,1901.8 1028.6,1904.8 1029.7,1908.9 1030.0,1911.1 1032.8,1914.1 1035.0,1919.2 1036.3,1922.1 1038.3,1925.5 1040.0,1928.5 1039.6,1932.7 1040.8,1935.7 1041.9,1938.8 1038.2,1942.6 1034.1,1943.1 1030.6,1948.2 1031.7,1950.7 1031.9,1954.9 1033.8,1958.7 1037.1,1960.2 1042.1,1956.7 1045.4,1952.8 1045.4,1949.4 1046.0,1944.3 1046.5,1941.6 1048.4,1938.6 1048.7,1934.9 1049.0,1930.1 1051.2,1925.7" fill="none" stroke="#c0504d" stroke-width="3.8" stroke-linejoin="round" stroke-linecap="round"/>
<polyline points="1071.8,1957.4 1070.5,1962.9 1067.3,1967.3 1064.3,1966.0 1061.4,1965.8 1055.7,1962.0 1057.2,1958.0 1057.0,1954.8 1058.4,1951.1 1059.4,1948.5 1057.7,1944.5 1056.8,1941.4 1055.2,1939.7 1053.0,1936.9 1048.6,1936.1 1044.5,1935.7 1042.1,1935.7 1037.9,1935.5 1035.7,1936.0 1032.8,1937.4 1029.3,1934.1 1029.2,1931.0 1028.4,1927.6 1031.7,1925.0 1033.4,1921.8 1037.8,1921.4 1041.3,1918.8 1044.4,1913.9 1048.3,1916.9 1051.7,1917.5 1054.7,1918.6 1058.1,1918.2 1059.9,1917.9 1060.9,1913.4 1062.3,1909.8" fill="none" stroke="#3fa9c8" stroke-width="3.8" stroke-linejoin="round" stroke-linecap="round"/>
<polyline points="1073.4,1905.0 1071.9,1908.9 1071.9,1913.4 1068.7,1916.6 1066.4,1918.9 1064.1,1920.6 1060.4,1922.6 1057.1,1924.5 1053.9,1926.2 1051.7,1926.5 1047.3,1927.7 1044.1,1928.8 1041.5,1929.7 1038.7,1934.0 1037.8,1929.5 1036.9,1925.8 1037.2,1923.1 1039.3,1919.8 1036.0,1914.3 1033.7,1911.5 1030.5,1909.2 1027.3,1908.5 1024.5,1906.5 1020.8,1905.3 1017.7,1904.7 1012.6,1902.2 1008.3,1898.6 1003.0,1897.4 1000.4,1900.2" fill="none" stroke="#f6a46e" stroke-width="3.8" stroke-linejoin="round" stroke-linecap="round"/>
<polyline points="1063.9,1890.7 1065.8,1893.5 1068.7,1897.4 1071.0,1900.6 1071.8,1903.4" fill="none" stroke="#f6a46e" stroke-width="3.8" stroke-linejoin="round" stroke-linecap="round"/>
<polyline points="992.4,1897.1 994.7,1894.6 995.9,1891.1 995.7,1887.1 996.4,1884.9 1000.7,1879.8 1003.2,1877.0 1006.2,1875.0 1011.5,1872.9 1013.9,1871.1 1018.4,1870.7 1023.1,1868.4 1025.1,1867.1 1028.9,1866.9" fill="none" stroke="#c3d69b" stroke-width="3.8" stroke-linejoin="round" stroke-linecap="round"/>
<polyline points="1075.0,1916.1 1079.2,1918.2 1082.1,1920.9 1085.2,1922.9 1085.3,1926.2 1085.5,1928.2 1085.4,1932.0 1084.1,1934.8 1083.4,1939.8 1083.7,1943.1" fill="none" stroke="#c3d69b" stroke-width="3.8" stroke-linejoin="round" stroke-linecap="round"/>
<polyline points="989.2,1912.9 992.0,1911.3 994.8,1908.1 997.6,1907.2 1000.9,1907.1 1002.9,1905.0 1006.3,1905.1 1010.5,1903.4 1015.2,1903.9 1017.8,1903.5 1021.0,1905.0" fill="none" stroke="#9db4da" stroke-width="3.8" stroke-linejoin="round" stroke-linecap="round"/>
<polyline points="1035.3,1881.2 1039.1,1878.9 1041.0,1876.1 1045.8,1877.8 1049.6,1878.2 1050.7,1881.6 1053.4,1885.8 1050.5,1890.1 1049.0,1893.4 1045.6,1894.8 1041.9,1895.8 1038.4,1892.4 1035.7,1890.0 1034.5,1887.4 1033.7,1884.4" fill="none" stroke="#b5d6e2" stroke-width="3.8" stroke-linejoin="round" stroke-linecap="round"/>
<polyline points="1043.2,1854.2 1046.7,1852.9 1049.2,1851.2 1053.1,1852.5 1055.4,1854.8 1056.9,1856.7 1057.1,1861.3 1054.7,1862.7 1053.2,1865.8 1049.8,1865.7 1045.7,1864.6 1043.2,1860.5" fill="none" stroke="#b5d6e2" stroke-width="3.8" stroke-linejoin="round" stroke-linecap="round"/>
<polyline points="1000.4,1844.7 1004.3,1845.9 1006.0,1845.5 1009.5,1848.5 1012.6,1849.7 1016.9,1849.6 1019.4,1849.4" fill="none" stroke="#b3a2c7" stroke-width="3.8" stroke-linejoin="round" stroke-linecap="round"/>
<polyline points="1060.7,1871.7 1064.6,1869.7 1066.5,1867.7 1070.7,1869.4 1074.2,1872.0 1074.0,1875.3 1075.0,1878.0 1076.0,1881.6 1076.7,1885.0 1074.7,1888.1 1075.0,1890.7" fill="none" stroke="#9db4da" stroke-width="3.8" stroke-linejoin="round" stroke-linecap="round"/>
<polyline points="1018.2,1878.5 1021.6,1876.4 1025.1,1874.4 1028.8,1873.0 1031.2,1869.8 1033.6,1866.6 1036.7,1864.1 1040.7,1863.5 1043.2,1860.4 1044.6,1856.6 1043.0,1853.0 1043.6,1849.0 1045.5,1845.5 1044.3,1841.7 1044.6,1845.7 1041.9,1848.6 1038.4,1850.7 1034.6,1852.0 1032.3,1855.2 1033.3,1859.1 1034.1,1863.0 1037.4,1865.2 1041.4,1865.3 1045.0,1863.6 1046.2,1859.7 1047.0,1855.8 1047.5,1851.8 1050.1,1848.9 1052.9,1846.0 1056.3,1843.8 1054.8,1847.6 1052.3,1850.7 1050.0,1854.0 1049.2,1857.9 1045.6,1859.7 1042.0,1858.1 1039.9,1854.7 1039.3,1850.7 1037.4,1847.2 1034.0,1845.0 1030.1,1844.2 1026.7,1846.3 1022.8,1846.7 1018.9,1847.7 1015.1,1846.3 1018.7,1844.5" fill="none" stroke="#a9b9dc" stroke-width="3.6" stroke-linejoin="round" stroke-linecap="round"/>
<polyline points="1065.8,1868.0 1069.3,1866.0 1073.2,1866.9 1077.1,1867.5 1079.2,1871.0 1075.3,1870.1 1071.9,1872.2 1068.1,1873.5 1064.1,1872.7 1060.2,1873.6 1058.0,1877.0 1056.8,1880.8 1053.2,1882.5 1049.2,1882.4 1046.1,1884.9 1044.3,1888.5 1045.4,1892.3 1048.9,1894.3 1050.9,1897.7 1054.4,1899.5 1057.8,1901.7 1053.9,1902.3 1050.8,1904.9 1047.0,1906.0 1046.9,1902.0 1047.9,1898.2 1046.2,1894.5 1044.0,1891.2 1040.4,1889.4 1036.4,1889.2 1033.9,1886.1 1033.4,1882.1 1031.6,1878.5 1032.5,1874.6 1031.3,1870.8 1029.4,1867.3 1029.9,1863.3 1031.5,1859.6 1030.2,1855.9 1032.4,1852.5 1032.5,1848.5 1031.0,1844.8 1031.4,1840.8 1034.4,1843.5 1038.1,1844.9 1041.8,1843.4" fill="none" stroke="#c0b4d4" stroke-width="3.6" stroke-linejoin="round" stroke-linecap="round"/>
<polyline points="1054.3,1882.5 1053.8,1886.5 1054.1,1890.4 1054.8,1894.4 1052.4,1897.6 1050.1,1900.8 1047.3,1903.7 1043.4,1904.4 1040.4,1907.0 1038.8,1903.3 1040.1,1899.6 1043.2,1897.1 1045.0,1893.5 1044.5,1889.5 1045.8,1885.7 1049.4,1883.9 1051.5,1880.6 1055.5,1879.8 1059.0,1881.7 1062.1,1884.2 1065.5,1886.3 1069.5,1885.6 1071.6,1882.2 1075.6,1881.5 1078.8,1879.2 1076.3,1882.3 1075.4,1886.2 1072.5,1888.9 1069.1,1891.1 1066.8,1894.4 1066.7,1898.4 1065.9,1894.5 1062.6,1892.2 1058.6,1891.8 1054.7,1890.9 1052.0,1887.9 1050.1,1884.5 1046.9,1882.0 1046.2,1878.1 1043.7,1875.0 1039.7,1875.0 1036.0,1876.6 1032.5,1878.5 1031.4,1882.4 1032.7,1886.2 1034.7,1889.6" fill="none" stroke="#a9d2de" stroke-width="3.6" stroke-linejoin="round" stroke-linecap="round"/>
<polyline points="1032.8,1872.4 1028.9,1873.1 1025.8,1870.5 1023.6,1867.2 1022.7,1863.3 1022.3,1859.3 1019.6,1856.3 1015.6,1856.3 1013.0,1859.4 1009.1,1859.9 1005.2,1859.0 1003.2,1855.5 1006.9,1853.9 1010.8,1853.1 1014.7,1852.3 1018.6,1853.1 1022.6,1852.6 1025.5,1855.4 1029.5,1855.4 1033.5,1855.8 1036.9,1857.8 1038.2,1861.5 1037.9,1865.5 1036.1,1869.1 1032.7,1871.3 1028.8,1870.6 1024.8,1871.1 1020.9,1870.1 1018.6,1866.9 1018.8,1862.9 1018.4,1858.9 1020.1,1855.3 1023.6,1853.4 1027.3,1851.9 1031.3,1851.4 1035.0,1850.0 1039.0,1849.2 1043.0,1849.2 1045.9,1846.5 1049.4,1844.5 1053.1,1846.0 1055.0,1849.5 1055.4,1853.5 1056.6,1857.3 1056.1,1861.3 1055.0,1865.1" fill="none" stroke="#f5b79a" stroke-width="3.6" stroke-linejoin="round" stroke-linecap="round"/>
<polyline points="1009.5,1882.3 1011.8,1885.6 1015.7,1886.2 1019.5,1887.4 1023.4,1888.5 1027.3,1887.7 1031.3,1888.3 1035.2,1888.8 1039.0,1890.2 1040.8,1893.8 1043.9,1896.3 1047.8,1895.4 1051.2,1893.3 1055.0,1892.3 1057.9,1889.5 1058.6,1885.5 1061.8,1883.1 1065.6,1881.7 1069.1,1879.9 1073.0,1880.9 1077.0,1880.6 1073.3,1882.1 1071.0,1885.4 1069.1,1888.9 1065.6,1890.9 1061.7,1890.0 1059.2,1886.8 1056.2,1884.2 1053.6,1881.2 1050.1,1879.2 1046.1,1879.7 1042.2,1880.3 1038.6,1878.5 1036.8,1874.9 1036.4,1870.9 1039.0,1867.9 1040.3,1864.1 1039.2,1860.3 1037.7,1856.5 1034.9,1853.7 1031.1,1852.6 1027.1,1852.0 1023.4,1850.7 1019.6,1849.3 1015.6,1849.3 1012.3,1847.0" fill="none" stroke="#c3d69b" stroke-width="3.6" stroke-linejoin="round" stroke-linecap="round"/>
<polyline points="1052.8,1872.6 1056.5,1871.2 1060.4,1872.3 1063.8,1870.3 1067.8,1869.7 1071.8,1869.6 1075.5,1868.1 1079.5,1868.8 1078.5,1872.7 1080.2,1876.3 1076.6,1874.6 1072.9,1876.2 1069.0,1875.5 1065.1,1876.7 1062.8,1879.9 1063.5,1883.9 1063.4,1887.9 1063.6,1891.9 1062.8,1895.8 1061.1,1899.4 1057.7,1901.5 1053.8,1900.4 1050.5,1898.2 1046.5,1897.9 1042.5,1897.9 1039.1,1900.0 1038.6,1904.0 1038.3,1908.0 1037.7,1904.0 1035.0,1901.1 1031.3,1899.4 1027.3,1898.9 1023.8,1897.0 1020.4,1895.0 1017.4,1892.3 1016.0,1888.5 1013.8,1885.2 1013.7,1881.2 1016.2,1878.1 1016.0,1874.1 1018.7,1871.1 1022.3,1869.4 1024.1,1865.8 1025.6,1862.1 1027.8,1858.8 1031.7,1857.9" fill="none" stroke="#bcc6e0" stroke-width="3.6" stroke-linejoin="round" stroke-linecap="round"/>
<polyline points="1022.7,1884.8 1026.6,1883.9 1029.9,1886.1 1033.4,1888.1 1036.3,1890.9 1040.1,1891.9 1043.3,1894.3 1044.7,1898.1 1045.0,1902.0 1043.9,1905.9 1040.9,1903.2 1040.4,1899.2 1043.1,1896.3 1047.1,1896.4 1051.1,1896.8 1054.3,1899.1 1058.1,1900.3 1054.5,1898.7 1052.5,1895.2 1049.6,1892.4 1045.6,1892.3 1041.6,1892.7 1037.6,1892.7 1034.1,1890.8 1030.5,1889.0 1026.8,1890.5 1022.9,1889.8 1019.6,1892.1 1015.6,1892.4 1012.4,1894.8 1010.1,1898.1 1012.1,1894.6 1011.5,1890.6 1008.7,1887.8 1006.0,1884.8 1004.6,1881.1 1005.7,1877.2 1008.0,1873.9 1011.9,1873.3 1015.9,1872.6 1019.1,1875.0 1023.1,1874.5 1026.3,1872.3 1029.7,1870.1 1032.1,1866.9 1035.5,1864.9" fill="none" stroke="#dba2a2" stroke-width="3.6" stroke-linejoin="round" stroke-linecap="round"/>
<polyline points="1025.2,1863.1 1027.7,1860.0 1029.1,1856.3 1029.7,1852.3 1032.5,1849.4 1036.5,1849.1 1039.7,1846.8 1043.7,1846.9 1046.3,1849.9 1048.8,1853.1 1050.8,1856.5 1054.3,1858.5 1057.7,1860.6 1061.1,1862.8 1064.0,1865.5 1068.0,1865.2 1070.9,1867.9 1073.7,1870.7 1077.0,1873.0 1078.6,1876.7 1079.8,1880.5 1076.6,1878.2 1074.3,1874.9 1070.4,1874.2 1066.5,1873.2 1062.5,1872.8 1060.1,1869.7 1060.5,1865.7 1059.3,1861.9 1057.9,1858.1 1054.4,1856.1 1050.8,1854.4 1048.6,1851.1 1049.2,1847.1 1049.6,1843.1 1052.6,1845.7 1056.5,1846.4 1060.3,1847.8 1062.0,1851.4 1065.5,1853.2 1067.8,1856.5 1071.8,1857.0 1069.8,1860.5 1069.8,1864.5 1068.4,1868.3 1068.3,1872.3" fill="none" stroke="#a9b9dc" stroke-width="3.6" stroke-linejoin="round" stroke-linecap="round"/>
<polyline points="1023.6,1887.3 1025.5,1890.8 1029.2,1892.4 1032.8,1894.0 1036.8,1893.8 1040.2,1891.6 1043.7,1889.6 1046.9,1887.3 1049.5,1884.2 1051.6,1880.8 1053.9,1877.5 1053.8,1873.5 1051.8,1870.1 1050.6,1866.3 1050.4,1862.3 1050.4,1858.3 1052.7,1855.1 1055.7,1852.4 1059.7,1852.0 1063.0,1849.8 1067.0,1849.2 1063.1,1850.1 1059.6,1848.1 1055.7,1847.4 1051.7,1848.0 1048.4,1845.7 1044.5,1845.3 1042.3,1841.9 1044.2,1845.5 1047.9,1847.0 1051.9,1846.8 1055.6,1848.2 1059.6,1847.8 1059.1,1851.8 1056.4,1854.8 1054.2,1858.1 1050.6,1859.9 1048.9,1863.5 1047.9,1867.4 1045.7,1870.7 1046.7,1874.5 1049.6,1877.3 1051.5,1880.8 1050.5,1884.7 1046.9,1886.5 1045.3,1890.2" fill="none" stroke="#c0b4d4" stroke-width="3.6" stroke-linejoin="round" stroke-linecap="round"/>
<polyline points="1010.3,1873.3 1006.6,1871.9 1002.7,1872.7 1000.4,1876.0 1000.9,1880.0 1004.2,1882.3 1007.2,1884.9 1010.2,1887.6 1012.8,1890.7 1016.7,1891.6 1020.4,1890.2 1023.0,1887.2 1026.9,1886.1 1030.1,1888.5 1030.8,1892.4 1034.0,1894.8 1038.0,1894.3 1041.1,1896.9 1044.3,1899.2 1046.2,1902.7 1049.0,1905.5 1045.0,1905.2 1041.0,1904.7 1037.0,1904.7 1033.1,1904.0 1030.1,1906.6 1032.3,1903.3 1036.1,1901.9 1038.5,1898.7 1040.7,1895.4 1044.0,1893.2 1047.0,1890.5 1048.1,1886.7 1046.8,1882.9 1045.6,1879.0 1041.9,1877.5 1040.1,1873.9 1040.4,1869.9 1042.2,1866.3 1045.7,1864.5 1049.6,1863.5 1053.3,1861.9 1057.2,1861.0 1061.1,1860.1 1064.3,1862.5 1065.7,1866.2" fill="none" stroke="#a9d2de" stroke-width="3.6" stroke-linejoin="round" stroke-linecap="round"/>
<polyline points="1035.3,1898.8 1037.1,1895.2 1040.6,1893.1 1043.6,1890.5 1047.6,1890.5 1050.7,1893.1 1052.7,1896.5 1052.9,1900.5 1051.3,1904.2 1049.8,1900.4 1049.9,1896.4 1047.2,1893.5 1043.8,1891.4 1040.3,1889.6 1036.6,1891.1 1033.4,1893.5 1029.7,1895.1 1025.8,1895.8 1022.6,1898.3 1018.7,1897.7 1015.0,1896.1 1011.1,1895.5 1007.5,1893.8 1004.1,1891.7 1000.8,1889.4 997.1,1887.8 996.1,1883.9 996.1,1879.9 997.6,1876.2 1000.5,1873.5 1004.5,1874.0 1007.5,1871.3 1011.0,1869.3 1014.9,1869.0 1018.4,1866.9 1021.4,1864.3 1021.6,1860.3 1019.7,1856.8 1017.1,1853.8 1013.2,1853.3 1009.4,1854.5 1005.7,1852.9 1009.7,1852.4 1013.6,1852.0 1016.6,1854.7 1019.3,1857.7" fill="none" stroke="#f5b79a" stroke-width="3.6" stroke-linejoin="round" stroke-linecap="round"/>
<polyline points="1059.4,1873.5 1057.9,1869.8 1057.1,1865.9 1058.1,1862.0 1055.9,1858.6 1056.8,1854.7 1055.2,1851.0 1053.4,1847.4 1050.0,1845.4 1046.5,1843.5 1043.5,1840.8 1039.5,1841.2 1043.5,1841.5 1047.5,1841.3 1044.2,1843.7 1040.6,1845.5 1037.6,1848.0 1035.7,1851.6 1032.9,1854.4 1029.8,1857.0 1028.0,1860.5 1024.9,1863.1 1022.9,1866.6 1024.4,1870.3 1027.3,1873.0 1031.3,1872.7 1034.4,1870.2 1038.3,1869.2 1041.9,1867.5 1045.7,1868.7 1048.7,1871.3 1052.7,1871.0 1055.5,1873.9 1055.4,1877.9 1058.1,1880.8 1058.1,1884.8 1058.7,1888.8 1059.4,1892.7 1056.9,1895.8 1056.0,1899.7 1055.0,1903.6 1051.6,1905.6 1047.6,1906.1 1043.7,1906.9 1040.5,1904.4 1039.3,1900.6" fill="none" stroke="#c3d69b" stroke-width="3.6" stroke-linejoin="round" stroke-linecap="round"/>
<polyline points="1033.8,1872.1 1030.7,1869.5 1026.8,1868.9 1023.6,1871.2 1020.2,1873.5 1019.0,1877.3 1018.2,1881.2 1016.3,1884.7 1014.6,1888.3 1014.6,1892.3 1014.1,1896.3 1014.1,1900.3 1013.6,1896.3 1013.3,1892.3 1016.2,1889.6 1020.2,1889.9 1023.7,1891.8 1027.7,1891.8 1030.8,1889.3 1034.8,1889.5 1038.3,1891.5 1041.1,1894.3 1044.6,1896.3 1048.6,1896.7 1052.2,1898.4 1055.6,1900.5 1058.7,1903.1 1054.9,1901.8 1052.0,1899.0 1048.1,1898.1 1044.2,1899.0 1041.0,1896.6 1040.3,1892.7 1042.2,1889.1 1040.9,1885.4 1037.3,1883.6 1033.3,1883.5 1029.3,1883.9 1025.3,1883.4 1022.0,1885.6 1018.5,1887.6 1017.4,1891.4 1019.2,1895.0 1019.8,1899.0 1020.0,1903.0 1018.3,1899.4" fill="none" stroke="#bcc6e0" stroke-width="3.6" stroke-linejoin="round" stroke-linecap="round"/>
<polyline points="1025.2,1883.3 1027.2,1886.8 1027.6,1890.7 1025.6,1894.2 1026.6,1898.1 1029.8,1900.5 1031.2,1904.2 1028.4,1901.4 1027.3,1897.5 1024.4,1894.8 1021.1,1892.4 1017.2,1891.7 1014.3,1889.0 1010.8,1887.0 1007.9,1884.2 1008.3,1880.2 1007.5,1876.3 1006.9,1872.3 1008.2,1868.5 1011.7,1866.6 1014.9,1864.3 1017.5,1861.2 1017.4,1857.2 1019.9,1854.0 1019.4,1850.1 1016.4,1847.4 1020.3,1848.2 1024.3,1848.9 1027.8,1850.9 1031.7,1851.5 1034.9,1853.9 1038.9,1853.4 1042.1,1851.0 1045.9,1849.7 1047.7,1846.1 1048.2,1842.2 1048.6,1846.1 1047.6,1850.0 1048.2,1854.0 1051.0,1856.8 1054.5,1858.8 1056.9,1862.0 1059.9,1864.6 1063.9,1864.6 1067.6,1866.1 1071.1,1868.1" fill="none" stroke="#dba2a2" stroke-width="3.6" stroke-linejoin="round" stroke-linecap="round"/>
<polyline points="739.0,1843.7 742.2,1841.3 739.3,1844.0 737.4,1847.5 736.8,1851.5 736.9,1855.5 734.2,1858.4 730.2,1858.8 726.8,1861.0 724.0,1863.9 722.1,1867.3 721.0,1871.2 720.6,1875.2 721.1,1879.1 723.6,1882.3 725.6,1885.7 725.7,1889.7 723.5,1886.3 723.7,1882.3 724.3,1878.4 722.6,1874.7 722.7,1870.7 725.4,1867.7 726.6,1863.9 724.6,1860.5 722.6,1857.0 721.0,1853.4 719.8,1849.5 721.8,1846.1 724.7,1843.3 728.6,1842.5 730.7,1839.1 733.2,1835.9 736.9,1834.4 738.5,1830.7 741.8,1833.0 738.1,1831.4 736.4,1827.8 732.7,1826.3 729.4,1824.0 725.4,1824.1" fill="none" stroke="#bcc6e0" stroke-width="3.6" stroke-linejoin="round" stroke-linecap="round"/>
<polyline points="721.6,1838.3 723.7,1841.8 723.9,1845.8 723.9,1849.8 722.2,1853.3 721.1,1857.2 721.2,1861.2 718.3,1863.9 714.6,1865.6 711.0,1867.4 707.3,1868.8 703.3,1868.8 699.6,1867.3 697.9,1863.6 701.7,1865.0 704.1,1868.2 705.4,1872.0 704.2,1875.8 701.2,1878.5 704.1,1875.7 708.1,1875.5 711.0,1878.3 713.0,1881.8 715.0,1885.3 715.4,1889.3 714.6,1885.3 713.3,1881.6 711.4,1878.0 707.8,1876.3 705.2,1873.2 706.0,1869.3 705.9,1865.3 703.5,1862.1 699.8,1860.5 703.6,1859.1 706.6,1856.4 710.5,1856.9 713.7,1854.4 715.7,1851.0 715.2,1847.0 715.6,1843.1" fill="none" stroke="#c0b4d4" stroke-width="3.6" stroke-linejoin="round" stroke-linecap="round"/>
<polyline points="722.6,1851.9 726.4,1853.1 730.0,1855.0 731.4,1858.7 735.1,1860.1 738.9,1858.8 741.4,1855.7 742.0,1851.7 740.8,1847.9 741.1,1844.0 742.1,1840.1 741.1,1836.2 738.2,1833.5 734.4,1832.1 730.5,1833.0 726.6,1832.1 722.7,1832.5 718.7,1832.6 715.2,1830.5 711.8,1828.5 707.8,1828.1 711.7,1828.8 714.2,1831.9 717.5,1834.2 720.6,1836.8 720.7,1840.8 721.1,1844.8 723.3,1848.1 727.2,1848.8 729.4,1852.1 729.6,1856.1 730.6,1860.0 731.4,1863.9 732.1,1867.9 734.3,1871.2 733.1,1875.0 730.9,1878.4 730.4,1882.3 733.2,1885.2 729.2,1884.7 725.2,1885.1" fill="none" stroke="#f5b79a" stroke-width="3.6" stroke-linejoin="round" stroke-linecap="round"/>
<polyline points="726.3,1837.3 722.3,1837.1 718.9,1839.3 716.4,1842.4 715.4,1846.3 712.3,1848.7 709.0,1851.1 705.3,1852.6 701.8,1850.6 697.8,1850.3 701.4,1848.4 703.2,1844.8 706.4,1842.5 706.6,1838.5 709.0,1835.3 712.8,1834.0 716.6,1835.1 720.2,1833.2 722.6,1830.0 726.1,1828.1 727.4,1824.3 728.7,1828.1 730.2,1831.8 728.6,1835.4 726.4,1838.7 722.6,1840.1 719.5,1842.6 715.6,1843.3 711.8,1844.6 708.1,1842.9 704.3,1844.2 700.5,1843.1 703.0,1840.0 705.8,1837.1 708.8,1834.4 709.6,1830.5 712.4,1827.7 714.2,1824.1 716.2,1827.6 720.0,1828.8 724.0,1828.6" fill="none" stroke="#a9d2de" stroke-width="3.6" stroke-linejoin="round" stroke-linecap="round"/>
<polyline points="707.4,1861.2 704.0,1863.3 702.8,1867.1 702.3,1871.1 702.0,1875.0 703.1,1871.2 706.1,1868.6 709.8,1866.9 710.8,1863.1 711.0,1859.1 712.6,1855.4 712.4,1851.4 712.6,1847.4 712.6,1843.4 709.5,1840.9 709.4,1836.9 711.4,1833.5 711.5,1829.5 712.3,1825.6 715.1,1828.4 718.5,1830.5 721.8,1832.8 725.7,1833.8 729.7,1833.7 733.6,1832.8 737.5,1833.1 735.4,1836.4 735.2,1840.4 733.5,1844.0 732.9,1848.0 729.6,1850.3 726.1,1852.3 722.1,1852.7 718.5,1854.3 714.5,1853.6 711.1,1855.7 709.7,1859.4 711.1,1863.2 711.3,1867.2 710.0,1870.9 710.9,1874.8" fill="none" stroke="#c3d69b" stroke-width="3.6" stroke-linejoin="round" stroke-linecap="round"/>
<polyline points="707.8,1870.9 703.8,1871.5 700.6,1873.9 699.4,1870.1 703.4,1869.9 707.3,1869.0 709.4,1865.7 713.3,1864.7 717.1,1863.3 720.8,1861.9 724.8,1861.6 728.5,1863.2 730.7,1866.5 733.6,1869.3 737.2,1871.1 741.0,1872.3 744.4,1870.2 743.6,1874.1 741.4,1877.5 737.5,1878.0 733.8,1876.5 730.6,1874.1 728.0,1871.0 724.0,1871.0 720.2,1872.3 716.9,1874.5 713.1,1875.7 711.0,1879.2 709.8,1883.0 708.4,1886.7 709.3,1882.8 712.3,1880.1 715.7,1878.0 717.2,1874.3 720.3,1871.8 724.3,1871.9 728.3,1872.4 732.2,1871.8 736.2,1871.2 739.0,1868.4 742.7,1866.8" fill="none" stroke="#dba2a2" stroke-width="3.6" stroke-linejoin="round" stroke-linecap="round"/>
<polyline points="732.7,1855.8 734.2,1852.1 733.6,1848.1 736.0,1844.9 739.0,1842.3 740.3,1838.5 738.7,1834.9 735.6,1832.4 732.9,1829.4 731.3,1825.7 728.8,1822.7 730.9,1826.1 733.8,1828.8 736.8,1831.4 733.5,1833.7 729.7,1832.7 726.0,1834.3 722.2,1833.0 718.5,1831.5 715.0,1829.5 711.7,1827.2 715.4,1825.5 719.2,1826.7 720.7,1830.4 719.9,1834.4 718.5,1838.1 719.7,1841.9 718.6,1845.7 719.1,1849.7 716.8,1853.0 716.2,1857.0 715.1,1860.8 712.1,1863.4 710.9,1867.2 709.3,1870.9 710.8,1874.6 714.5,1876.0 718.5,1875.2 721.6,1877.6 722.1,1881.6 721.5,1885.5" fill="none" stroke="#bcc6e0" stroke-width="3.6" stroke-linejoin="round" stroke-linecap="round"/>
<polyline points="717.1,1875.1 715.9,1871.2 715.4,1867.3 717.0,1863.6 715.3,1860.0 712.0,1857.8 708.5,1855.8 704.5,1856.3 700.7,1857.6 696.8,1858.4 697.4,1854.4 698.2,1850.5 697.3,1846.6 700.0,1849.5 703.4,1851.6 706.3,1854.4 710.3,1854.2 714.1,1855.2 717.8,1853.8 721.4,1855.5 724.7,1857.8 728.0,1860.0 731.7,1861.6 734.9,1864.0 737.1,1867.3 737.7,1871.3 736.4,1875.1 735.2,1878.9 731.5,1880.4 727.6,1879.5 725.0,1876.4 722.0,1873.9 718.6,1871.6 715.6,1869.1 715.0,1865.1 714.6,1861.1 714.5,1857.1 713.8,1853.2 715.9,1849.8 716.8,1845.9 714.7,1842.5" fill="none" stroke="#c0b4d4" stroke-width="3.6" stroke-linejoin="round" stroke-linecap="round"/>
<polyline points="719.1,1831.4 719.4,1827.4 721.4,1823.9 723.2,1827.5 724.3,1831.3 727.8,1833.2 731.8,1832.5 735.6,1831.5 739.5,1830.4 737.6,1833.9 738.8,1837.7 738.7,1841.7 738.4,1845.7 739.9,1849.4 742.6,1852.4 745.8,1854.8 742.2,1856.6 740.8,1860.3 737.3,1862.2 733.6,1860.9 730.4,1858.5 729.3,1854.6 727.7,1851.0 728.3,1847.0 726.9,1843.2 727.2,1839.3 728.0,1835.3 731.2,1833.0 732.1,1829.0 734.7,1826.1 736.9,1829.4 738.8,1832.9 737.6,1836.8 739.8,1840.1 743.3,1842.1 739.8,1843.9 736.9,1846.7 736.9,1850.7 734.3,1853.7 730.5,1854.9 727.0,1856.7" fill="none" stroke="#f5b79a" stroke-width="3.6" stroke-linejoin="round" stroke-linecap="round"/>
<polyline points="714.4,1870.2 717.8,1868.1 721.8,1868.8 725.7,1868.0 729.7,1867.3 733.0,1869.5 733.4,1873.5 734.1,1877.4 736.7,1880.5 740.2,1882.5 737.0,1880.1 736.1,1876.2 733.3,1873.3 732.7,1869.3 731.1,1865.7 729.3,1862.1 725.8,1860.1 724.3,1856.4 726.3,1852.9 726.2,1848.9 727.1,1845.0 725.7,1841.3 727.1,1837.5 725.3,1833.9 721.6,1832.4 718.9,1829.5 715.3,1827.7 713.8,1824.0 715.1,1827.7 715.0,1831.7 717.3,1835.0 718.4,1838.9 716.4,1842.3 714.7,1846.0 716.0,1849.7 719.0,1852.4 722.7,1854.0 725.6,1856.7 729.5,1857.6 733.2,1856.3 735.9,1853.3" fill="none" stroke="#a9d2de" stroke-width="3.6" stroke-linejoin="round" stroke-linecap="round"/>
<polyline points="1017.0,1007.0 1014.0,1008.7 1010.5,1008.1 1007.2,1006.9 1003.8,1007.4 1000.7,1009.1 1004.0,1007.9 1007.4,1007.7 1010.6,1006.1 1014.0,1005.4 1016.0,1002.5 1019.5,1002.2 1023.0,1001.6 1026.4,1001.1 1029.9,1000.8 1032.1,998.1 1031.3,1001.5 1031.9,1005.0 1033.9,1007.8 1034.2,1011.3 1036.7,1013.7 1040.0,1015.0 1042.3,1017.6 1045.6,1018.9 1049.1,1018.8 1052.5,1019.0 1055.6,1017.4 1059.0,1018.1 1060.6,1021.2 1057.4,1022.5 1054.2,1024.0 1050.7,1024.0 1047.3,1024.7 1044.4,1022.8 1041.4,1020.9 1037.9,1020.9" fill="none" stroke="#dba2a2" stroke-width="3.6" stroke-linejoin="round" stroke-linecap="round"/>
<polyline points="1011.5,1015.1 1008.6,1017.1 1005.2,1017.4 1001.7,1017.6 998.2,1017.7 995.2,1015.8 998.6,1016.8 1001.9,1017.9 1003.4,1021.0 1006.4,1022.8 1008.2,1025.9 1011.3,1027.4 1014.2,1029.4 1017.6,1030.0 1021.1,1030.2 1024.1,1032.0 1025.8,1035.0 1025.8,1038.5 1022.7,1036.9 1019.5,1035.4 1016.0,1035.5 1012.6,1035.1 1009.1,1034.8 1009.8,1031.4 1011.1,1028.1 1013.5,1025.6 1016.3,1023.4 1019.8,1023.4 1022.7,1021.5 1024.0,1018.2 1022.3,1015.2 1020.6,1012.1 1018.5,1009.3 1016.2,1006.7 1013.0,1005.3 1010.9,1002.4" fill="none" stroke="#f6a46e" stroke-width="3.6" stroke-linejoin="round" stroke-linecap="round"/>
<polyline points="1050.2,1026.0 1047.1,1024.3 1045.3,1021.3 1042.4,1019.4 1038.9,1019.7 1035.7,1021.1 1034.5,1024.4 1034.5,1027.9 1033.8,1031.3 1032.9,1034.7 1033.4,1038.2 1031.3,1035.3 1027.9,1034.6 1025.4,1032.2 1022.0,1031.5 1018.6,1032.4 1016.3,1035.1 1013.3,1036.8 1009.8,1036.5 1006.9,1034.6 1009.3,1032.0 1011.2,1029.1 1012.3,1025.8 1011.7,1022.3 1013.9,1019.6 1013.4,1016.1 1012.8,1012.7 1013.8,1009.4 1017.1,1008.0 1018.8,1005.0 1020.4,1001.9 1023.1,999.7 1025.0,1002.6 1028.0,1004.4 1029.1,1007.7 1032.0,1009.7" fill="none" stroke="#9db4da" stroke-width="3.6" stroke-linejoin="round" stroke-linecap="round"/>
<polyline points="1021.7,1022.3 1020.5,1025.6 1022.2,1028.6 1020.9,1031.9 1018.2,1034.2 1014.9,1035.1 1012.4,1037.6 1011.4,1034.2 1010.8,1030.8 1008.7,1028.0 1006.4,1025.3 1006.6,1021.9 1006.0,1018.4 1004.4,1015.3 1005.7,1012.1 1007.6,1009.2 1006.8,1005.8 1009.8,1007.5 1012.3,1010.0 1015.8,1010.0 1019.1,1009.1 1022.6,1009.3 1025.2,1011.7 1027.4,1014.4 1027.4,1017.9 1027.6,1021.4 1028.4,1024.8 1027.1,1028.0 1026.6,1031.5 1024.4,1034.3 1023.9,1037.7 1021.5,1035.2 1018.1,1034.3 1014.8,1033.1 1011.4,1034.0 1009.0,1036.5" fill="none" stroke="#b3a2c7" stroke-width="3.6" stroke-linejoin="round" stroke-linecap="round"/>
<polyline points="1030.8,1027.0 1029.9,1030.4 1026.7,1031.8 1023.2,1032.1 1020.2,1030.2 1016.7,1030.1 1013.3,1030.7 1011.2,1033.6 1008.3,1035.5 1008.7,1032.1 1007.6,1028.7 1004.4,1027.4 1000.9,1028.0 1002.1,1024.7 1002.6,1021.2 1005.3,1019.1 1008.7,1018.1 1011.4,1015.9 1013.4,1013.0 1013.4,1009.5 1015.9,1007.1 1017.7,1004.1 1020.7,1002.2 1024.1,1001.7 1027.0,1003.6 1030.4,1002.6 1033.3,1000.6 1035.7,998.0 1037.7,1000.9 1037.5,1004.4 1038.4,1007.8 1037.5,1011.2 1036.6,1014.5 1038.3,1017.6 1040.6,1020.2 1043.9,1021.5" fill="none" stroke="#c3d69b" stroke-width="3.6" stroke-linejoin="round" stroke-linecap="round"/>
<polyline points="1032.0,1019.7 1028.6,1020.5 1025.6,1022.4 1023.0,1024.7 1020.2,1026.8 1019.2,1030.2 1017.1,1033.0 1016.4,1036.4 1016.4,1032.9 1017.4,1029.6 1016.2,1026.3 1013.5,1024.0 1010.2,1023.0 1007.5,1020.7 1004.4,1019.0 1001.1,1017.9 999.1,1015.1 996.0,1013.5 999.0,1011.7 1001.5,1009.2 1002.3,1005.8 1005.6,1007.1 1008.7,1005.4 1012.1,1004.5 1015.6,1004.1 1018.8,1005.5 1019.8,1008.9 1021.9,1011.7 1023.1,1014.9 1021.7,1018.2 1022.1,1021.6 1021.2,1025.0 1019.5,1028.1 1016.0,1028.8 1012.9,1027.3 1009.4,1027.4" fill="none" stroke="#dba2a2" stroke-width="3.6" stroke-linejoin="round" stroke-linecap="round"/>
<polyline points="1026.4,1017.8 1023.6,1019.9 1023.1,1023.4 1023.4,1026.9 1024.7,1030.1 1026.0,1033.4 1028.5,1035.8 1032.0,1036.4 1035.5,1036.4 1039.0,1036.2 1041.8,1034.1 1045.0,1032.9 1047.4,1030.3 1047.5,1026.8 1046.5,1023.4 1045.1,1020.2 1042.1,1018.4 1039.4,1016.2 1037.6,1013.2 1036.2,1010.0 1035.9,1006.5 1033.1,1004.4 1029.9,1002.9 1026.5,1002.2 1023.6,1004.2 1021.1,1006.6 1021.0,1010.1 1021.0,1013.6 1020.5,1017.0 1020.1,1020.5 1020.8,1023.9 1023.0,1026.7 1026.5,1026.9 1029.9,1026.2 1033.0,1027.8 1035.9,1029.8" fill="none" stroke="#dba2a2" stroke-width="3.6" stroke-linejoin="round" stroke-linecap="round"/>
<polyline points="1026.6,1030.7 1028.2,1033.9 1029.1,1037.3 1027.2,1040.2 1026.1,1036.9 1025.5,1033.4 1027.6,1030.6 1030.7,1029.0 1034.1,1028.3 1037.6,1028.2 1041.1,1027.6 1044.4,1026.5 1047.0,1024.2 1050.5,1023.8 1053.5,1025.6 1056.8,1026.8 1053.6,1025.2 1050.4,1026.5 1048.6,1029.6 1046.8,1032.5 1046.1,1036.0 1043.9,1033.3 1044.5,1029.8 1043.0,1026.7 1040.0,1024.8 1036.5,1024.5 1033.3,1023.1 1029.8,1023.4 1027.9,1026.3 1025.7,1029.0 1024.0,1032.1 1024.0,1035.6 1024.0,1039.1 1022.8,1035.8 1021.8,1032.5 1021.7,1029.0" fill="none" stroke="#f6a46e" stroke-width="3.6" stroke-linejoin="round" stroke-linecap="round"/>
<ellipse cx="1036" cy="1020" rx="9.5" ry="8.5" fill="#a7d0dc"/>
<polyline points="709.7,1018.0 712.7,1016.4 715.2,1013.9 718.7,1013.7 721.9,1012.3 725.4,1012.2 728.8,1013.3 731.5,1015.5 731.8,1019.0 730.0,1022.0 730.4,1025.5 730.0,1029.0 729.6,1032.4 728.9,1035.9 726.8,1033.1 723.8,1031.3 721.8,1028.4 720.1,1025.3 717.1,1023.4 713.7,1023.0 710.2,1023.7 707.7,1026.1 705.2,1028.5 703.6,1025.4 706.9,1024.3 708.5,1021.2 707.6,1017.8 708.1,1014.3 711.3,1015.6 714.7,1016.5 717.2,1019.0" fill="none" stroke="#9db4da" stroke-width="3.6" stroke-linejoin="round" stroke-linecap="round"/>
<polyline points="719.4,1022.3 722.9,1021.6 724.8,1018.7 725.3,1015.3 725.9,1011.8 728.2,1009.1 728.6,1012.6 727.7,1016.0 728.3,1019.4 727.6,1022.9 728.0,1026.3 729.4,1029.6 729.2,1033.1 727.0,1035.8 723.6,1036.8 720.2,1037.4 722.2,1034.6 725.1,1032.7 728.4,1031.5 731.8,1032.3 728.4,1031.8 725.3,1033.5 722.7,1035.9 719.6,1037.4 719.6,1033.9 717.8,1030.9 714.4,1030.4 711.0,1029.3 709.4,1026.2 710.7,1023.0 709.7,1019.6" fill="none" stroke="#dba2a2" stroke-width="3.6" stroke-linejoin="round" stroke-linecap="round"/>
<polyline points="719.4,1017.0 716.6,1014.9 716.1,1011.5 718.4,1008.9 720.7,1011.5 721.8,1014.8 724.8,1016.7 728.2,1015.8 731.0,1013.6 734.4,1012.8 737.2,1014.9 734.4,1017.1 732.4,1020.0 733.3,1023.4 733.9,1026.8 734.6,1030.2 731.5,1028.5 728.1,1027.9 725.4,1025.6 724.5,1022.3 722.4,1019.4 719.9,1017.1 717.8,1014.3 717.3,1010.8 719.6,1008.2 720.0,1011.6 719.2,1015.0 718.0,1018.4 715.4,1020.6 714.6,1024.0 715.8,1027.3" fill="none" stroke="#b3a2c7" stroke-width="3.6" stroke-linejoin="round" stroke-linecap="round"/>
<polyline points="733.7,1029.4 733.7,1032.9 730.3,1032.1 726.8,1032.3 724.8,1035.2 722.4,1037.7 720.6,1034.7 719.6,1031.3 717.4,1028.6 714.1,1027.3 710.9,1026.1 707.4,1025.7 704.1,1026.9 703.4,1023.4 706.9,1023.3 709.6,1025.5 712.9,1026.6 716.1,1025.2 718.0,1022.3 719.8,1019.3 723.3,1018.8 726.0,1016.6 729.5,1016.6 733.0,1016.5 736.5,1015.8 739.8,1017.1 736.6,1018.6 735.5,1021.9 734.1,1025.1 731.9,1027.8 729.1,1029.9" fill="none" stroke="#93cddd" stroke-width="3.6" stroke-linejoin="round" stroke-linecap="round"/>
<polyline points="719.5,1033.8 723.0,1034.0 726.4,1033.8 729.5,1035.6 726.1,1034.5 722.7,1035.4 722.1,1032.0 719.7,1029.5 716.2,1029.1 713.4,1031.2 711.3,1034.0 712.9,1030.9 713.4,1027.4 714.0,1024.0 711.8,1021.3 708.5,1020.1 707.1,1016.9 703.7,1015.9 707.1,1014.9 710.5,1015.8 712.9,1018.3 714.1,1021.6 715.9,1024.6 715.9,1028.1 713.9,1031.0 710.8,1032.7 707.6,1031.3 709.6,1028.5 713.0,1028.0 716.4,1026.8 719.9,1027.0" fill="none" stroke="#9db4da" stroke-width="3.6" stroke-linejoin="round" stroke-linecap="round"/>
<polyline points="715.0,2316.1 718.3,2317.1 721.7,2316.4 725.0,2315.0 727.8,2312.9 731.0,2311.7 727.8,2313.1 725.1,2315.3 721.9,2316.7 719.2,2318.9 718.7,2315.5 720.7,2312.6 721.6,2309.2 720.0,2306.1 717.6,2303.5 716.5,2300.2 713.9,2297.9 712.5,2294.7 711.4,2291.4 711.4,2287.9 714.7,2289.1 717.9,2287.9 718.1,2291.4 719.2,2294.7 720.7,2297.9 724.1,2298.7 727.5,2299.6 731.0,2299.9 734.4,2299.0 731.9,2301.6 728.4,2301.5" fill="none" stroke="#a4b7da" stroke-width="3.6" stroke-linejoin="round" stroke-linecap="round"/>
<polyline points="719.4,2315.2 716.6,2317.3 715.9,2320.8 717.4,2317.6 718.5,2314.3 721.7,2312.9 723.9,2310.1 725.5,2307.0 728.1,2304.7 729.1,2301.3 728.6,2297.9 729.3,2294.4 732.2,2292.5 732.0,2296.0 733.8,2299.0 736.3,2301.5 735.9,2305.0 732.7,2303.6 729.9,2301.5 726.7,2300.0 724.0,2297.8 720.6,2297.2 717.3,2295.9 715.7,2292.8 716.2,2289.4 717.5,2286.1 718.3,2289.5 718.7,2293.0 721.3,2295.4 722.0,2298.8 721.5,2302.3" fill="none" stroke="#e2782d" stroke-width="3.6" stroke-linejoin="round" stroke-linecap="round"/>
<polyline points="703.8,2305.8 701.1,2308.1 699.9,2311.3 698.0,2314.3 698.2,2310.8 698.5,2307.3 696.1,2304.8 694.3,2301.8 697.7,2302.9 700.8,2304.5 703.5,2306.6 704.0,2310.1 706.5,2312.6 709.0,2315.0 708.8,2318.5 708.3,2315.0 706.7,2311.9 706.6,2308.4 709.2,2306.0 711.3,2303.3 714.7,2302.4 716.8,2299.6 720.3,2299.5 723.8,2299.3 726.8,2297.5 730.3,2297.8 733.6,2299.0 735.1,2302.1 734.5,2305.6 732.3,2308.3 730.0,2310.9" fill="none" stroke="#c3d69b" stroke-width="3.6" stroke-linejoin="round" stroke-linecap="round"/>
<polyline points="716.1,2303.0 719.3,2301.5 721.5,2298.8 724.8,2297.6 728.0,2296.2 731.3,2295.0 734.7,2296.1 732.4,2298.8 731.3,2302.1 729.5,2305.1 730.2,2308.5 730.5,2312.0 729.1,2315.2 728.3,2311.8 726.1,2309.1 725.5,2305.6 727.2,2302.5 730.0,2300.5 733.1,2298.8 736.5,2299.6 733.0,2299.2 730.0,2300.8 727.4,2303.2 727.0,2306.7 729.3,2309.3 732.3,2311.2 729.4,2309.2 728.1,2306.0 725.1,2304.3 721.6,2304.5 718.2,2305.4" fill="none" stroke="#dba2a2" stroke-width="3.6" stroke-linejoin="round" stroke-linecap="round"/>
<polyline points="721.3,2295.8 722.0,2292.3 725.0,2290.6 725.4,2294.1 724.9,2297.6 722.3,2300.0 719.0,2301.2 716.8,2303.9 713.9,2305.8 711.3,2308.1 711.3,2311.6 712.4,2315.0 714.4,2317.8 711.4,2316.0 708.0,2315.5 704.7,2314.4 701.9,2312.2 698.5,2311.8 699.8,2308.5 702.1,2305.9 704.2,2303.2 704.2,2299.7 702.0,2297.0 702.3,2293.5 703.4,2290.1 705.3,2293.1 708.5,2294.5 709.3,2297.9 709.0,2301.4 707.2,2304.4 706.2,2307.8" fill="none" stroke="#f6a46e" stroke-width="3.6" stroke-linejoin="round" stroke-linecap="round"/>
<polyline points="583.2,2234.2 586.4,2233.9 589.5,2232.8 591.3,2236.2 587.3,2238.2 590.7,2240.2 593.1,2241.3 596.3,2242.9 599.6,2245.8 602.2,2246.3 605.7,2248.0 608.5,2249.4 612.5,2251.7 614.7,2252.6 618.5,2255.9 621.9,2256.8 624.3,2259.3 627.5,2261.1 629.9,2264.6 632.8,2265.2 634.4,2267.4 638.0,2270.3 640.4,2272.2 642.9,2274.6 645.9,2277.2 648.7,2279.1 651.6,2281.3 653.9,2282.1 656.5,2285.6 658.8,2287.2 661.0,2288.9 664.1,2290.1 665.4,2292.6 667.1,2295.8 669.1,2299.2 672.9,2302.7 675.2,2306.1 677.4,2309.6 681.3,2308.5 684.4,2308.7 687.2,2308.9 691.8,2310.6 694.1,2310.9 698.0,2311.0 700.7,2310.4" fill="none" stroke="#7f62a8" stroke-width="3.8" stroke-linejoin="round" stroke-linecap="round"/>
<polyline points="608.6,2239.7 613.0,2238.6 615.9,2237.9 621.0,2235.2 624.3,2236.2 628.4,2236.8 629.3,2241.6 630.9,2246.0 629.9,2249.9 629.5,2254.0 623.8,2254.4 621.0,2253.9 617.3,2251.3 619.7,2246.9" fill="none" stroke="#7f62a8" stroke-width="3.8" stroke-linejoin="round" stroke-linecap="round"/>
<polyline points="619.7,2246.9 624.0,2246.9 627.1,2245.2 631.9,2246.4 636.0,2247.3 639.2,2248.1 642.8,2250.4 646.2,2251.8 650.6,2254.5 653.2,2256.7 657.2,2258.3 660.7,2258.9 662.7,2262.0 665.5,2265.4 662.0,2270.7 668.1,2274.2 671.8,2274.3 674.0,2276.4 676.6,2280.1 681.7,2283.4" fill="none" stroke="#7f62a8" stroke-width="3.8" stroke-linejoin="round" stroke-linecap="round"/>
<polyline points="698.3,2192.9 702.2,2193.6 705.8,2193.8 710.1,2195.8 713.9,2196.9 716.6,2199.3 719.3,2202.4 721.6,2203.6 723.8,2206.7 728.4,2209.8 726.4,2213.7 724.8,2216.2 722.4,2219.2 721.6,2222.9 719.0,2226.4 716.2,2228.7 712.6,2233.2 709.6,2236.5 708.4,2240.1 706.5,2244.2 705.1,2247.5 703.9,2251.0 701.9,2256.1 700.4,2259.4 699.5,2263.1 697.5,2267.5" fill="none" stroke="#7f62a8" stroke-width="3.8" stroke-linejoin="round" stroke-linecap="round"/>
<polyline points="656.2,2302.5 656.3,2298.9 657.1,2295.9 658.1,2292.9 660.8,2289.8 662.9,2288.7 665.3,2288.2 668.8,2289.2 672.1,2290.9 674.6,2290.7 679.2,2290.8 682.8,2291.3 686.6,2289.9 691.0,2289.7 695.1,2289.9 696.8,2289.3 701.1,2290.7 703.9,2291.4" fill="none" stroke="#8fb74e" stroke-width="3.8" stroke-linejoin="round" stroke-linecap="round"/>
<polyline points="656.2,2299.3 660.0,2299.2 663.2,2297.1 666.5,2297.0 668.5,2295.6 672.7,2295.1 674.6,2294.7 678.5,2294.5" fill="none" stroke="#8fb74e" stroke-width="3.8" stroke-linejoin="round" stroke-linecap="round"/>
<polyline points="636.4,2227.8 639.4,2232.5 639.1,2235.1 638.7,2238.7 638.3,2242.4 639.1,2244.7 640.6,2248.4 639.8,2250.9 640.6,2254.9 639.6,2258.0 640.7,2261.2 640.5,2264.4 641.6,2267.8 641.4,2271.2 645.8,2275.9 649.7,2276.1 653.7,2276.6 655.8,2277.8 660.1,2277.5 662.1,2277.9 666.5,2278.9 670.0,2280.6 674.6,2282.5 678.3,2283.7 680.9,2285.7 684.4,2286.6 688.0,2288.9 691.2,2290.6 694.6,2290.9 698.1,2292.5 701.5,2293.7 703.9,2294.5" fill="none" stroke="#a9cfdb" stroke-width="3.8" stroke-linejoin="round" stroke-linecap="round"/>
<polyline points="688.0,2281.8 687.6,2286.5 687.7,2289.6 689.3,2293.2 690.4,2295.9 692.2,2299.8 693.6,2302.6 697.1,2304.8 700.8,2307.6 703.3,2309.2 706.5,2312.7 709.7,2314.6 713.5,2318.5 717.2,2319.2 719.3,2321.0 723.9,2321.5 727.6,2322.2 730.4,2318.9 733.2,2314.8 734.0,2311.1 733.3,2307.9 732.6,2302.5 732.1,2299.0 730.8,2297.5 727.7,2294.5" fill="none" stroke="#e9803a" stroke-width="3.8" stroke-linejoin="round" stroke-linecap="round"/>
<polyline points="691.2,2277.1 694.2,2274.7 698.1,2272.8 701.0,2271.5 703.3,2270.3 707.3,2272.4 710.7,2274.5 713.4,2275.8 714.3,2279.3 715.9,2282.1 716.6,2286.6" fill="none" stroke="#e9803a" stroke-width="3.8" stroke-linejoin="round" stroke-linecap="round"/>
<polyline points="697.5,2267.5 694.7,2267.1 690.8,2267.3 688.0,2269.4 684.1,2271.1 682.6,2273.0 680.3,2276.0 680.1,2278.6 681.9,2282.2 685.1,2282.9 688.7,2285.5 690.0,2287.3 693.5,2289.3 693.4,2293.7 695.0,2295.7 696.3,2299.1 697.8,2302.9 698.5,2306.0 700.3,2310.0 703.9,2313.6" fill="none" stroke="#dba2a2" stroke-width="3.8" stroke-linejoin="round" stroke-linecap="round"/>
<polyline points="734.1,2354.9 733.3,2350.3 733.9,2346.8 732.6,2343.9 733.2,2340.7 731.5,2337.0 730.8,2332.1 730.1,2327.9 729.6,2324.2 727.5,2322.3 726.6,2318.9 724.8,2315.4 723.3,2312.8 720.9,2309.3 719.5,2305.3 716.6,2300.9" fill="none" stroke="#dba2a2" stroke-width="3.8" stroke-linejoin="round" stroke-linecap="round"/>
<polyline points="680.1,2256.4 682.2,2259.2 683.8,2262.3 685.0,2263.9 686.4,2267.6 690.0,2270.3 691.3,2273.1 693.8,2277.4 696.7,2279.0 700.3,2282.2 703.9,2284.2 704.9,2288.9 707.8,2291.6 708.7,2296.1" fill="none" stroke="#b3a2c7" stroke-width="3.8" stroke-linejoin="round" stroke-linecap="round"/>
<polyline points="703.9,2340.6 704.4,2336.7 705.2,2332.5 706.2,2328.3 706.4,2324.0 707.3,2320.1 708.9,2317.1 709.1,2313.3 710.2,2308.8" fill="none" stroke="#b3a2c7" stroke-width="3.8" stroke-linejoin="round" stroke-linecap="round"/>
<polyline points="722.9,2292.9 727.3,2293.5 730.9,2294.0 735.5,2294.2 738.1,2293.2 743.1,2293.2 747.1,2292.5 751.5,2291.4" fill="none" stroke="#b3a2c7" stroke-width="3.8" stroke-linejoin="round" stroke-linecap="round"/>
<polyline points="715.0,2178.6 714.7,2183.0 712.8,2186.7 712.4,2190.6 712.8,2194.4 711.4,2197.0 711.6,2200.9 710.2,2203.5 710.4,2206.6 709.9,2209.9 708.8,2213.4 708.7,2217.1 707.9,2220.2 708.2,2222.7 708.9,2226.5 708.8,2230.6 708.2,2233.3 708.9,2237.0 707.8,2240.6 708.6,2245.3 708.2,2249.2 708.1,2251.9 707.0,2256.2 706.4,2259.8 706.9,2262.6 708.1,2266.4 709.3,2271.3 709.0,2273.4 708.8,2277.1 709.9,2280.0 710.6,2283.5 711.2,2286.0 710.6,2289.6 711.8,2292.9" fill="none" stroke="#a4b7da" stroke-width="3.8" stroke-linejoin="round" stroke-linecap="round"/>
<polyline points="716.6,2181.8 716.0,2184.5 715.8,2187.7 714.7,2191.3 715.1,2195.4 714.3,2198.6 714.9,2203.1 714.1,2205.5 713.6,2210.0 713.1,2212.8 713.8,2217.4 712.0,2219.8 712.4,2222.7 711.1,2226.6 712.3,2229.3 711.2,2232.4 711.2,2236.5 711.1,2238.6 712.5,2241.5 711.6,2244.6 711.9,2248.5 712.6,2251.7" fill="none" stroke="#a4b7da" stroke-width="3.8" stroke-linejoin="round" stroke-linecap="round"/>
<polyline points="748.4,2170.6 748.9,2173.3 747.8,2177.4 747.4,2180.7 746.2,2184.5 745.9,2187.5 743.2,2191.7 742.6,2195.1 740.4,2198.4 739.8,2201.3 738.8,2205.9 738.1,2208.7 736.2,2213.7 735.0,2217.2 734.3,2219.5 733.1,2223.0 733.3,2225.7 732.0,2229.1 729.8,2233.0 729.0,2235.3 728.1,2239.5 727.8,2242.2 725.3,2245.7 724.7,2249.9 723.7,2253.0 721.9,2257.7 719.4,2261.0 719.6,2264.1 719.6,2266.9 719.3,2271.4 719.1,2274.1 719.3,2277.5 717.8,2280.9 718.3,2284.2 717.8,2287.0 717.5,2289.4 716.6,2292.9" fill="none" stroke="#a4b7da" stroke-width="3.8" stroke-linejoin="round" stroke-linecap="round"/>
<polyline points="651.5,2369.2 653.3,2365.0 655.2,2360.7 656.3,2358.3 658.3,2355.7 660.0,2353.9 661.6,2348.8 663.3,2345.8 666.1,2342.4 668.2,2339.6 670.6,2336.3 671.9,2334.2 674.2,2331.7 675.6,2327.6 678.1,2324.1 681.4,2321.6 685.3,2319.5 687.3,2318.5 691.6,2317.9 694.3,2316.6 698.0,2315.9 700.4,2313.8 704.5,2312.0 706.9,2309.2 708.4,2306.3 711.2,2301.8 713.4,2299.3" fill="none" stroke="#a4b7da" stroke-width="3.8" stroke-linejoin="round" stroke-linecap="round"/>
<polyline points="829.4,2162.7 826.7,2165.2 823.8,2166.7 820.9,2169.3 818.5,2170.2 814.8,2172.5 812.6,2175.2 808.1,2177.7 805.3,2179.3 803.3,2181.6 800.7,2182.7 799.2,2186.5 798.1,2188.4 795.6,2191.7 794.4,2193.5 792.4,2197.4 789.6,2199.0 787.9,2202.6 784.9,2204.2 783.0,2207.6 780.2,2208.8 778.0,2210.6 774.8,2212.7 773.0,2214.4 769.5,2216.2 768.1,2219.4 766.2,2222.6 764.0,2225.3 762.2,2227.9 761.1,2233.2 760.1,2236.5 757.9,2239.6 754.8,2240.0 751.7,2242.6 748.2,2244.7 744.8,2246.5 742.9,2249.6 740.9,2251.5 738.0,2254.6 736.8,2258.4 733.6,2260.8 733.3,2263.8 732.6,2268.2 736.8,2269.3 740.0,2267.1 742.3,2264.7 743.2,2261.7 745.9,2257.3 747.5,2254.7 747.7,2251.0 750.4,2248.8 751.0,2245.2 754.9,2241.3 757.6,2241.8 760.7,2241.6 763.7,2245.2 767.6,2248.2 767.4,2251.2 767.8,2254.3 768.7,2258.0 767.4,2261.1 766.8,2265.1 765.8,2268.2 764.2,2271.0 762.8,2274.9 761.6,2278.0 761.9,2282.6 760.9,2284.8 760.9,2288.7 761.4,2292.8 757.3,2296.7 754.8,2295.3 751.5,2296.1" fill="none" stroke="#c0504d" stroke-width="3.8" stroke-linejoin="round" stroke-linecap="round"/>
<polyline points="732.5,2210.4 737.8,2213.9 740.2,2212.2 744.3,2210.2 747.5,2208.4 751.6,2207.4 755.9,2207.9 758.9,2207.0 764.8,2210.8 763.6,2213.8 762.4,2217.4 761.9,2220.5 760.6,2224.0 760.9,2229.1 758.7,2232.3 758.7,2236.6 757.7,2241.2 756.9,2244.6 757.0,2248.7 757.3,2251.4 758.2,2255.0 759.5,2258.0" fill="none" stroke="#a9cfdb" stroke-width="3.8" stroke-linejoin="round" stroke-linecap="round"/>
<polyline points="746.8,2235.8 749.6,2233.0 751.3,2230.8 754.7,2227.8" fill="none" stroke="#a9cfdb" stroke-width="3.8" stroke-linejoin="round" stroke-linecap="round"/>
<polyline points="735.7,2210.4 734.4,2214.2 733.6,2216.4 732.2,2220.4 730.9,2223.4 729.6,2225.7 728.6,2229.9 727.7,2232.2 726.5,2235.4 726.5,2239.3 725.7,2242.8 724.1,2246.0 722.3,2249.2 722.4,2251.2 722.6,2255.4 721.6,2257.4 722.0,2261.6 721.1,2265.1 719.8,2266.8 719.6,2269.9 720.1,2274.1 718.6,2277.1 718.2,2281.5 718.2,2285.0" fill="none" stroke="#a9cfdb" stroke-width="3.8" stroke-linejoin="round" stroke-linecap="round"/>
<polyline points="745.2,2194.5 746.3,2199.2 746.5,2203.2 746.7,2205.4 746.4,2208.3 747.5,2212.7 747.1,2215.4 746.3,2219.3 748.1,2223.4 749.2,2226.3 755.0,2228.7 756.2,2233.1 758.0,2235.7 758.0,2239.1 756.6,2242.0 757.0,2245.9 756.2,2248.6 754.1,2251.1 759.3,2255.1 761.1,2257.7 764.7,2259.6 765.0,2263.2 767.3,2266.2 767.5,2269.5 767.3,2273.0 763.4,2274.6 758.9,2273.6 754.5,2273.5 751.4,2275.1 747.2,2276.0 743.6,2277.4 738.5,2279.1 734.1,2281.8" fill="none" stroke="#3fa9c8" stroke-width="3.8" stroke-linejoin="round" stroke-linecap="round"/>
<polyline points="773.8,2253.2 770.2,2258.2 766.9,2259.4 764.2,2259.2 761.7,2258.9 758.6,2260.0 754.2,2260.0 751.7,2260.2 750.1,2264.2 745.9,2266.9 740.4,2269.1" fill="none" stroke="#3f73be" stroke-width="3.8" stroke-linejoin="round" stroke-linecap="round"/>
<polyline points="746.8,2270.7 744.0,2271.7 740.1,2273.3 737.8,2275.4 734.4,2276.7 729.7,2280.5 723.9,2283.4 721.4,2288.2" fill="none" stroke="#f28c3c" stroke-width="3.8" stroke-linejoin="round" stroke-linecap="round"/>
<polyline points="705.5,2264.4 706.4,2267.1 706.8,2270.4 706.9,2274.6 709.4,2278.7 710.1,2281.9 712.3,2284.9 713.3,2287.7 714.8,2290.5 716.6,2292.3 718.6,2295.6 720.9,2293.0 723.7,2291.4 726.0,2289.2 728.5,2288.0 730.5,2287.1 734.1,2285.8 738.2,2285.6 742.6,2285.1 745.1,2286.5 747.1,2290.1 748.1,2293.6 746.3,2295.5 745.7,2298.7 743.6,2300.9" fill="none" stroke="#c3d69b" stroke-width="3.8" stroke-linejoin="round" stroke-linecap="round"/>
<polyline points="746.8,2291.4 751.0,2288.2 754.5,2287.6 757.9,2288.2" fill="none" stroke="#c3d69b" stroke-width="3.8" stroke-linejoin="round" stroke-linecap="round"/>
<polyline points="800.8,2248.5 798.3,2249.2 794.9,2249.7 791.1,2250.4 787.1,2251.8 785.6,2255.3 781.9,2258.1 779.1,2261.1 775.5,2265.0 774.3,2267.8 771.0,2270.3 767.4,2274.4 765.0,2276.9 760.5,2278.9 758.0,2280.1 754.2,2281.2 751.5,2282.6 748.0,2283.2 745.3,2283.8 742.0,2283.4" fill="none" stroke="#dba2a2" stroke-width="3.8" stroke-linejoin="round" stroke-linecap="round"/>
<polyline points="759.5,2312.0 754.9,2308.3 752.9,2306.2 750.7,2304.8 746.2,2299.4 744.3,2298.3 740.5,2297.4 735.7,2297.2 731.9,2297.4 728.7,2298.6 725.3,2299.6 721.1,2300.8 718.4,2301.0 715.6,2300.4 711.6,2299.5 708.3,2299.3 705.1,2298.5 701.6,2296.9 699.1,2297.7" fill="none" stroke="#f6a46e" stroke-width="3.8" stroke-linejoin="round" stroke-linecap="round"/>
<polyline points="759.5,2323.1 756.4,2321.9 753.1,2320.9 750.5,2320.2 747.1,2319.0 744.4,2317.1 740.8,2314.4 736.5,2312.7 734.8,2310.1 731.8,2307.3 729.2,2306.3 726.3,2304.6 722.9,2302.5" fill="none" stroke="#8fa8d5" stroke-width="3.8" stroke-linejoin="round" stroke-linecap="round"/>
<polyline points="749.9,2310.4 750.0,2313.1 751.5,2316.8" fill="none" stroke="#8fa8d5" stroke-width="3.8" stroke-linejoin="round" stroke-linecap="round"/>
<polyline points="703.9,2324.7 704.2,2322.1 704.8,2319.1 706.7,2315.8 708.7,2312.0" fill="none" stroke="#a9cfdb" stroke-width="3.8" stroke-linejoin="round" stroke-linecap="round"/>
<polygon points="1024.9,2286.9 1031.9,2284.5 1038.8,2286.9 1042.3,2291.5 1042.3,2299.6 1041.2,2306.6 1035.3,2308.9 1030.7,2310.1 1027.2,2315.9 1023.7,2314.7 1022.6,2308.9 1024.9,2302.0 1023.7,2295.0" fill="#b8c3df" opacity="1.0" stroke="#b8c3df" stroke-width="3" stroke-linejoin="round"/>
<polygon points="1024.9,2288.0 1031.9,2286.3 1038.8,2288.0 1038.8,2292.7 1033.0,2295.0 1026.1,2295.0" fill="#c3d6b0" opacity="1.0" stroke="#c3d6b0" stroke-width="3" stroke-linejoin="round"/>
<polygon points="1023.7,2306.6 1029.5,2305.4 1030.7,2311.2 1027.2,2315.9 1023.7,2314.7" fill="#c3d6b0" opacity="1.0" stroke="#c3d6b0" stroke-width="3" stroke-linejoin="round"/>
<polyline points="959.9,2300.8 964.6,2304.0 968.8,2303.0 973.0,2300.1 976.7,2301.0 979.0,2300.0 982.8,2299.1 986.4,2299.9 990.8,2299.8 994.4,2298.7 997.3,2297.4 1000.9,2297.4 1003.8,2297.4 1007.5,2296.2" fill="none" stroke="#b3a2c7" stroke-width="3.8" stroke-linejoin="round" stroke-linecap="round"/>
<polyline points="923.9,2319.4 928.2,2318.8 933.8,2317.6 937.4,2317.5 939.6,2315.9 944.9,2314.8 947.6,2313.1 949.8,2310.5 956.3,2309.7 960.3,2309.4 963.9,2309.1 966.2,2310.3 970.2,2311.0 974.3,2310.8 977.6,2311.8 981.9,2312.4 985.0,2310.3 987.3,2308.2 990.6,2307.5 994.1,2307.4 998.1,2306.3 1001.7,2306.7 1004.8,2304.9 1007.8,2303.4 1011.6,2302.3 1013.8,2300.3 1016.1,2299.0 1021.4,2299.6" fill="none" stroke="#f6a46e" stroke-width="3.8" stroke-linejoin="round" stroke-linecap="round"/>
<polyline points="936.7,2250.3 936.1,2254.6 936.1,2259.2 940.6,2261.3 945.7,2263.0 951.0,2266.3 956.4,2265.4 960.8,2265.6 964.8,2264.7 968.1,2266.1 969.9,2268.1 972.8,2269.4 976.5,2272.6 978.8,2272.6 982.2,2273.7 986.4,2276.7 990.0,2277.0 992.9,2278.8 997.8,2280.6 999.9,2281.1 1005.2,2284.1 1008.9,2288.0 1012.0,2288.9 1015.2,2290.9 1020.2,2290.9 1024.9,2292.1 1029.5,2295.0" fill="none" stroke="#a9cfdb" stroke-width="3.8" stroke-linejoin="round" stroke-linecap="round"/>
<polyline points="1022.6,2283.4 1021.7,2286.6 1020.4,2290.0 1017.8,2292.4 1017.3,2294.4 1014.2,2297.2 1012.3,2301.2 1009.6,2305.8 1009.2,2311.2" fill="none" stroke="#a9cfdb" stroke-width="3.8" stroke-linejoin="round" stroke-linecap="round"/>
<polyline points="1012.1,2288.0 1008.4,2288.4 1004.8,2288.8 1002.2,2288.4 998.7,2290.7 996.5,2295.2 995.3,2300.2 999.7,2296.7 1002.7,2295.3 1008.7,2293.8" fill="none" stroke="#a9cfdb" stroke-width="3.8" stroke-linejoin="round" stroke-linecap="round"/>
<polyline points="1042.3,2296.2 1043.8,2293.1 1046.7,2292.1 1050.7,2290.1 1053.4,2289.6 1059.1,2288.2 1062.8,2290.6 1060.4,2293.9 1062.7,2296.2 1067.8,2293.6 1070.0,2289.2 1066.8,2286.4 1064.0,2284.6 1067.9,2279.8 1071.6,2274.8 1072.5,2270.3 1076.4,2267.5 1079.9,2263.7 1077.9,2259.7 1081.8,2255.3 1087.2,2255.4 1086.7,2260.7 1085.2,2265.2 1084.7,2270.6" fill="none" stroke="#8fb74e" stroke-width="3.8" stroke-linejoin="round" stroke-linecap="round"/>
<polyline points="1021.4,2321.7 1019.8,2317.0 1018.9,2312.1 1017.7,2309.3 1021.8,2306.1 1024.9,2305.4" fill="none" stroke="#c0504d" stroke-width="3.8" stroke-linejoin="round" stroke-linecap="round"/>
<polyline points="1027.2,2284.5 1030.3,2286.2 1035.3,2285.7" fill="none" stroke="#8fa8d5" stroke-width="3.8" stroke-linejoin="round" stroke-linecap="round"/>
<polyline points="1037.7,2302.0 1040.2,2304.6 1038.8,2306.6" fill="none" stroke="#d98f8f" stroke-width="3.8" stroke-linejoin="round" stroke-linecap="round"/>
</svg>
</body></html>
